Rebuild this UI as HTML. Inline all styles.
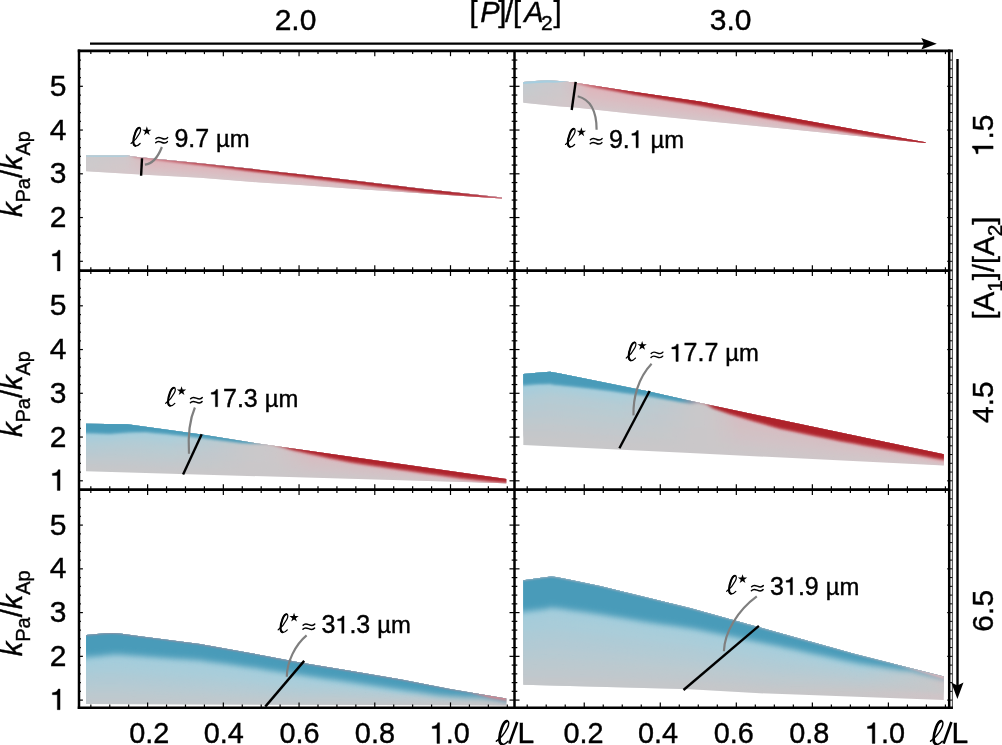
<!DOCTYPE html>
<html><head><meta charset="utf-8"><style>html,body{margin:0;padding:0;background:#fff;overflow:hidden}</style></head><body>
<svg width="1002" height="745" viewBox="0 0 1002 745" style="display:block;will-change:transform"><style>text{stroke:#000;stroke-width:0.4px;paint-order:stroke}</style>
<defs>
<linearGradient id="h1_1" gradientUnits="userSpaceOnUse" x1="86.0" y1="0" x2="530.0" y2="0"><stop offset="0.000" stop-color="#cec9cb"/><stop offset="0.088" stop-color="#d4c7ca"/><stop offset="0.099" stop-color="#d5c7ca"/><stop offset="0.144" stop-color="#d6c6c9"/><stop offset="1.000" stop-color="#d9c4c8"/></linearGradient>
<linearGradient id="h1_2" gradientUnits="userSpaceOnUse" x1="86.0" y1="0" x2="530.0" y2="0"><stop offset="0.000" stop-color="#cdcacc"/><stop offset="0.088" stop-color="#d3c8ca"/><stop offset="0.099" stop-color="#d4c6ca"/><stop offset="0.144" stop-color="#d8c2c6"/><stop offset="1.000" stop-color="#dac1c6"/></linearGradient>
<linearGradient id="h1_3" gradientUnits="userSpaceOnUse" x1="86.0" y1="0" x2="530.0" y2="0"><stop offset="0.000" stop-color="#cdcacc"/><stop offset="0.088" stop-color="#d2c8ca"/><stop offset="0.099" stop-color="#d4c6c9"/><stop offset="0.144" stop-color="#d9c0c4"/><stop offset="1.000" stop-color="#dbbec3"/></linearGradient>
<linearGradient id="h1_4" gradientUnits="userSpaceOnUse" x1="86.0" y1="0" x2="530.0" y2="0"><stop offset="0.000" stop-color="#cccacc"/><stop offset="0.088" stop-color="#d1c8cb"/><stop offset="0.099" stop-color="#d3c6c9"/><stop offset="0.144" stop-color="#dbbcc1"/><stop offset="1.000" stop-color="#dcbcc1"/></linearGradient>
<linearGradient id="h1_5" gradientUnits="userSpaceOnUse" x1="86.0" y1="0" x2="530.0" y2="0"><stop offset="0.000" stop-color="#cccacc"/><stop offset="0.088" stop-color="#d0c8cb"/><stop offset="0.099" stop-color="#d3c6c8"/><stop offset="0.144" stop-color="#dcbabf"/><stop offset="1.000" stop-color="#ddb9be"/></linearGradient>
<linearGradient id="h1_6" gradientUnits="userSpaceOnUse" x1="86.0" y1="0" x2="530.0" y2="0"><stop offset="0.000" stop-color="#cbcbcd"/><stop offset="0.088" stop-color="#cfc9cb"/><stop offset="0.099" stop-color="#d2c5c8"/><stop offset="0.144" stop-color="#deb6bc"/><stop offset="1.000" stop-color="#deb6bc"/></linearGradient>
<linearGradient id="h1_7" gradientUnits="userSpaceOnUse" x1="86.0" y1="0" x2="530.0" y2="0"><stop offset="0.000" stop-color="#cdbfc2"/><stop offset="0.088" stop-color="#d0bdc1"/><stop offset="0.099" stop-color="#d2babe"/><stop offset="0.144" stop-color="#daa8af"/><stop offset="0.257" stop-color="#d699a0"/><stop offset="0.392" stop-color="#d39097"/><stop offset="0.820" stop-color="#d39097"/><stop offset="0.887" stop-color="#d6969e"/><stop offset="0.937" stop-color="#dba4ab"/><stop offset="1.000" stop-color="#dba4ab"/></linearGradient>
<linearGradient id="h1_8" gradientUnits="userSpaceOnUse" x1="86.0" y1="0" x2="530.0" y2="0"><stop offset="0.000" stop-color="#d2a6ad"/><stop offset="0.088" stop-color="#d3a6ac"/><stop offset="0.099" stop-color="#d4a5ac"/><stop offset="0.144" stop-color="#d28f97"/><stop offset="0.257" stop-color="#c4616b"/><stop offset="0.392" stop-color="#ba474f"/><stop offset="0.820" stop-color="#ba474f"/><stop offset="0.887" stop-color="#c45962"/><stop offset="0.937" stop-color="#d4818a"/><stop offset="1.000" stop-color="#d4818a"/></linearGradient>
<linearGradient id="h1_9" gradientUnits="userSpaceOnUse" x1="130.0" y1="0" x2="530.0" y2="0"><stop offset="0.000" stop-color="#d49aa2"/><stop offset="0.175" stop-color="#bb4550"/><stop offset="0.325" stop-color="#ae222b"/><stop offset="0.800" stop-color="#ae222b"/><stop offset="0.875" stop-color="#bb3a45"/><stop offset="0.930" stop-color="#d0707a"/><stop offset="1.000" stop-color="#d0707a"/></linearGradient>
<linearGradient id="h1_10" gradientUnits="userSpaceOnUse" x1="86.0" y1="0" x2="530.0" y2="0"><stop offset="0.000" stop-color="#cec9cb"/><stop offset="0.099" stop-color="#d5c7ca"/><stop offset="1.000" stop-color="#d8c5c9"/></linearGradient>
<clipPath id="c1"><polygon points="86.1,155.4 127.5,155.6 135.0,156.8 148.0,158.0 200.0,163.2 300.0,174.2 360.0,181.2 420.0,188.5 502.0,197.6 502.0,198.6 440.0,194.6 360.0,189.3 300.0,185.0 260.0,182.6 200.0,177.8 140.0,174.4 86.1,171.3"/></clipPath>
<filter id="f1_1" x="-10%" y="-50%" width="120%" height="200%"><feGaussianBlur stdDeviation="1 1.0"/></filter>
<filter id="f1_2" x="-10%" y="-50%" width="120%" height="200%"><feGaussianBlur stdDeviation="1 1.0"/></filter>
<filter id="f1_3" x="-10%" y="-50%" width="120%" height="200%"><feGaussianBlur stdDeviation="1 1.0"/></filter>
<filter id="f1_4" x="-10%" y="-50%" width="120%" height="200%"><feGaussianBlur stdDeviation="1 1.0"/></filter>
<filter id="f1_5" x="-10%" y="-50%" width="120%" height="200%"><feGaussianBlur stdDeviation="1 1.0"/></filter>
<filter id="f1_6" x="-10%" y="-50%" width="120%" height="200%"><feGaussianBlur stdDeviation="1 1.0"/></filter>
<filter id="f1_7" x="-10%" y="-50%" width="120%" height="200%"><feGaussianBlur stdDeviation="1 1.0"/></filter>
<filter id="f1_8" x="-10%" y="-50%" width="120%" height="200%"><feGaussianBlur stdDeviation="1 1.0"/></filter>
<filter id="f1_9" x="-10%" y="-50%" width="120%" height="200%"><feGaussianBlur stdDeviation="1 1.0"/></filter>
<filter id="f1_10" x="-10%" y="-50%" width="120%" height="200%"><feGaussianBlur stdDeviation="1.5 0.3"/></filter>
<linearGradient id="h2_1" gradientUnits="userSpaceOnUse" x1="523.0" y1="0" x2="950.0" y2="0"><stop offset="0.000" stop-color="#cac8cb"/><stop offset="0.087" stop-color="#d0c7ca"/><stop offset="0.122" stop-color="#d3c6c9"/><stop offset="0.157" stop-color="#d4c6c9"/><stop offset="1.000" stop-color="#d9c4c8"/></linearGradient>
<linearGradient id="h2_2" gradientUnits="userSpaceOnUse" x1="523.0" y1="0" x2="950.0" y2="0"><stop offset="0.000" stop-color="#c9c9cc"/><stop offset="0.087" stop-color="#d0c8ca"/><stop offset="0.122" stop-color="#d4c5c8"/><stop offset="0.157" stop-color="#d6c2c6"/><stop offset="1.000" stop-color="#dac1c6"/></linearGradient>
<linearGradient id="h2_3" gradientUnits="userSpaceOnUse" x1="523.0" y1="0" x2="950.0" y2="0"><stop offset="0.000" stop-color="#c7cacd"/><stop offset="0.087" stop-color="#cec8ca"/><stop offset="0.122" stop-color="#d4c4c7"/><stop offset="0.157" stop-color="#d8c0c4"/><stop offset="1.000" stop-color="#dbbec3"/></linearGradient>
<linearGradient id="h2_4" gradientUnits="userSpaceOnUse" x1="523.0" y1="0" x2="950.0" y2="0"><stop offset="0.000" stop-color="#c6cace"/><stop offset="0.087" stop-color="#cec8cb"/><stop offset="0.122" stop-color="#d4c2c6"/><stop offset="0.157" stop-color="#dabcc1"/><stop offset="1.000" stop-color="#dcbcc1"/></linearGradient>
<linearGradient id="h2_5" gradientUnits="userSpaceOnUse" x1="523.0" y1="0" x2="950.0" y2="0"><stop offset="0.000" stop-color="#c4cbcf"/><stop offset="0.087" stop-color="#ccc8cb"/><stop offset="0.122" stop-color="#d4c1c5"/><stop offset="0.157" stop-color="#dcbabf"/><stop offset="1.000" stop-color="#ddb9be"/></linearGradient>
<linearGradient id="h2_6" gradientUnits="userSpaceOnUse" x1="523.0" y1="0" x2="950.0" y2="0"><stop offset="0.000" stop-color="#c3ccd0"/><stop offset="0.087" stop-color="#ccc9cb"/><stop offset="0.122" stop-color="#d5c0c4"/><stop offset="0.157" stop-color="#deb6bc"/><stop offset="1.000" stop-color="#deb6bc"/></linearGradient>
<linearGradient id="h2_7" gradientUnits="userSpaceOnUse" x1="523.0" y1="0" x2="950.0" y2="0"><stop offset="0.000" stop-color="#c8c3c8"/><stop offset="0.087" stop-color="#cec1c4"/><stop offset="0.110" stop-color="#d4bcc0"/><stop offset="0.157" stop-color="#d9a2a9"/><stop offset="0.180" stop-color="#d79ba2"/><stop offset="0.274" stop-color="#d39097"/><stop offset="1.000" stop-color="#d39097"/></linearGradient>
<linearGradient id="h2_8" gradientUnits="userSpaceOnUse" x1="523.0" y1="0" x2="950.0" y2="0"><stop offset="0.000" stop-color="#d2b1b7"/><stop offset="0.087" stop-color="#d5b0b5"/><stop offset="0.110" stop-color="#d6aeb4"/><stop offset="0.157" stop-color="#ce7e86"/><stop offset="0.180" stop-color="#c86670"/><stop offset="0.274" stop-color="#ba474f"/><stop offset="1.000" stop-color="#ba474f"/></linearGradient>
<linearGradient id="h2_9" gradientUnits="userSpaceOnUse" x1="570.0" y1="0" x2="950.0" y2="0"><stop offset="0.000" stop-color="#d8a8ae"/><stop offset="0.079" stop-color="#c04c57"/><stop offset="0.184" stop-color="#ae222b"/><stop offset="1.000" stop-color="#ae222b"/></linearGradient>
<linearGradient id="h2_10" gradientUnits="userSpaceOnUse" x1="523.0" y1="0" x2="950.0" y2="0"><stop offset="0.000" stop-color="#cbc8ca"/><stop offset="0.122" stop-color="#d3c7ca"/><stop offset="1.000" stop-color="#d8c5c9"/></linearGradient>
<clipPath id="c2"><polygon points="523.3,82.1 535.0,81.0 547.6,80.3 563.0,81.2 575.4,82.7 630.0,91.2 700.0,101.5 800.0,119.4 925.5,142.3 925.5,142.9 800.0,130.3 700.0,120.4 630.0,113.5 575.0,107.5 560.0,106.4 523.3,102.8"/></clipPath>
<filter id="f2_1" x="-10%" y="-50%" width="120%" height="200%"><feGaussianBlur stdDeviation="1 1.0"/></filter>
<filter id="f2_2" x="-10%" y="-50%" width="120%" height="200%"><feGaussianBlur stdDeviation="1 1.0"/></filter>
<filter id="f2_3" x="-10%" y="-50%" width="120%" height="200%"><feGaussianBlur stdDeviation="1 1.0"/></filter>
<filter id="f2_4" x="-10%" y="-50%" width="120%" height="200%"><feGaussianBlur stdDeviation="1 1.0"/></filter>
<filter id="f2_5" x="-10%" y="-50%" width="120%" height="200%"><feGaussianBlur stdDeviation="1 1.0"/></filter>
<filter id="f2_6" x="-10%" y="-50%" width="120%" height="200%"><feGaussianBlur stdDeviation="1 1.0"/></filter>
<filter id="f2_7" x="-10%" y="-50%" width="120%" height="200%"><feGaussianBlur stdDeviation="1 1.0"/></filter>
<filter id="f2_8" x="-10%" y="-50%" width="120%" height="200%"><feGaussianBlur stdDeviation="1 1.0"/></filter>
<filter id="f2_9" x="-10%" y="-50%" width="120%" height="200%"><feGaussianBlur stdDeviation="1 1.0"/></filter>
<filter id="f2_10" x="-10%" y="-50%" width="120%" height="200%"><feGaussianBlur stdDeviation="2 0.6"/></filter>
<linearGradient id="h3_1" gradientUnits="userSpaceOnUse" x1="86.0" y1="0" x2="530.0" y2="0"><stop offset="0.000" stop-color="#c4c7ca"/><stop offset="0.189" stop-color="#c6c7ca"/><stop offset="0.291" stop-color="#c8c7c9"/><stop offset="0.369" stop-color="#cac7c9"/><stop offset="0.392" stop-color="#cac7c9"/><stop offset="0.426" stop-color="#cbc7c9"/><stop offset="0.505" stop-color="#cdc6c8"/><stop offset="1.000" stop-color="#d6c5c8"/></linearGradient>
<linearGradient id="h3_2" gradientUnits="userSpaceOnUse" x1="86.0" y1="0" x2="530.0" y2="0"><stop offset="0.000" stop-color="#c1c8cc"/><stop offset="0.189" stop-color="#c3c8cc"/><stop offset="0.291" stop-color="#c6c8ca"/><stop offset="0.369" stop-color="#cac7c9"/><stop offset="0.392" stop-color="#cac7c9"/><stop offset="0.426" stop-color="#cbc7c9"/><stop offset="0.505" stop-color="#cfc4c7"/><stop offset="1.000" stop-color="#d6c4c7"/></linearGradient>
<linearGradient id="h3_3" gradientUnits="userSpaceOnUse" x1="86.0" y1="0" x2="530.0" y2="0"><stop offset="0.000" stop-color="#bec9ce"/><stop offset="0.189" stop-color="#c0c9ce"/><stop offset="0.291" stop-color="#c5c8cb"/><stop offset="0.369" stop-color="#cac7c9"/><stop offset="0.392" stop-color="#cac7c9"/><stop offset="0.426" stop-color="#cbc7c9"/><stop offset="0.505" stop-color="#d1c2c6"/><stop offset="1.000" stop-color="#d8c2c6"/></linearGradient>
<linearGradient id="h3_4" gradientUnits="userSpaceOnUse" x1="86.0" y1="0" x2="530.0" y2="0"><stop offset="0.000" stop-color="#bac9d0"/><stop offset="0.189" stop-color="#bdcacf"/><stop offset="0.291" stop-color="#c3c8cc"/><stop offset="0.369" stop-color="#c9c8ca"/><stop offset="0.392" stop-color="#cac8ca"/><stop offset="0.426" stop-color="#ccc7c9"/><stop offset="0.505" stop-color="#d2c1c4"/><stop offset="1.000" stop-color="#d8c0c4"/></linearGradient>
<linearGradient id="h3_5" gradientUnits="userSpaceOnUse" x1="86.0" y1="0" x2="530.0" y2="0"><stop offset="0.000" stop-color="#b7cad2"/><stop offset="0.189" stop-color="#bacbd1"/><stop offset="0.291" stop-color="#c2c8cd"/><stop offset="0.369" stop-color="#c9c8ca"/><stop offset="0.392" stop-color="#cac8ca"/><stop offset="0.426" stop-color="#ccc7c9"/><stop offset="0.505" stop-color="#d4bfc3"/><stop offset="1.000" stop-color="#dabec3"/></linearGradient>
<linearGradient id="h3_6" gradientUnits="userSpaceOnUse" x1="86.0" y1="0" x2="530.0" y2="0"><stop offset="0.000" stop-color="#b4cbd4"/><stop offset="0.189" stop-color="#b7ccd3"/><stop offset="0.291" stop-color="#c0c9ce"/><stop offset="0.369" stop-color="#c9c8ca"/><stop offset="0.392" stop-color="#cac8ca"/><stop offset="0.426" stop-color="#ccc7c9"/><stop offset="0.505" stop-color="#d6bdc2"/><stop offset="1.000" stop-color="#dabdc2"/></linearGradient>
<linearGradient id="h3_7" gradientUnits="userSpaceOnUse" x1="86.0" y1="0" x2="530.0" y2="0"><stop offset="0.000" stop-color="#b0ccd6"/><stop offset="0.189" stop-color="#b3ccd5"/><stop offset="0.291" stop-color="#bec9cf"/><stop offset="0.369" stop-color="#c9c8ca"/><stop offset="0.392" stop-color="#cac8ca"/><stop offset="0.426" stop-color="#ccc7c9"/><stop offset="0.505" stop-color="#d8bbc0"/><stop offset="1.000" stop-color="#dcbbc0"/></linearGradient>
<linearGradient id="h3_8" gradientUnits="userSpaceOnUse" x1="86.0" y1="0" x2="530.0" y2="0"><stop offset="0.000" stop-color="#abccd9"/><stop offset="0.189" stop-color="#afced8"/><stop offset="0.291" stop-color="#bccad0"/><stop offset="0.369" stop-color="#c8c8ca"/><stop offset="0.392" stop-color="#cac8ca"/><stop offset="0.426" stop-color="#ccc7c9"/><stop offset="0.505" stop-color="#dbb8be"/><stop offset="1.000" stop-color="#ddb8be"/></linearGradient>
<linearGradient id="h3_9" gradientUnits="userSpaceOnUse" x1="86.0" y1="0" x2="530.0" y2="0"><stop offset="0.000" stop-color="#a6cedc"/><stop offset="0.189" stop-color="#abcedb"/><stop offset="0.291" stop-color="#bacbd1"/><stop offset="0.369" stop-color="#c8c8ca"/><stop offset="0.392" stop-color="#cac8ca"/><stop offset="0.426" stop-color="#cdc7c9"/><stop offset="0.505" stop-color="#deb6bc"/><stop offset="1.000" stop-color="#deb6bc"/></linearGradient>
<linearGradient id="h3_10" gradientUnits="userSpaceOnUse" x1="86.0" y1="0" x2="530.0" y2="0"><stop offset="0.000" stop-color="#8ec1d4"/><stop offset="0.189" stop-color="#91c2d3"/><stop offset="0.291" stop-color="#9dbfcc"/><stop offset="0.369" stop-color="#a8bdc6"/><stop offset="0.419" stop-color="#cbbdc0"/><stop offset="0.426" stop-color="#cbb8bb"/><stop offset="0.459" stop-color="#cb989d"/><stop offset="0.505" stop-color="#d39097"/><stop offset="1.000" stop-color="#d39097"/></linearGradient>
<linearGradient id="h3_11" gradientUnits="userSpaceOnUse" x1="86.0" y1="0" x2="530.0" y2="0"><stop offset="0.000" stop-color="#60a8c2"/><stop offset="0.189" stop-color="#62a8c2"/><stop offset="0.291" stop-color="#66a7bf"/><stop offset="0.369" stop-color="#6aa6bd"/><stop offset="0.419" stop-color="#c9aaaf"/><stop offset="0.426" stop-color="#c69aa0"/><stop offset="0.459" stop-color="#b84951"/><stop offset="0.505" stop-color="#ba474f"/><stop offset="1.000" stop-color="#ba474f"/></linearGradient>
<linearGradient id="h3_12" gradientUnits="userSpaceOnUse" x1="86.0" y1="0" x2="530.0" y2="0"><stop offset="0.000" stop-color="#4a9bb9"/><stop offset="0.369" stop-color="#4a9bb9"/><stop offset="0.419" stop-color="#c8a0a6"/><stop offset="0.459" stop-color="#ae222b"/><stop offset="1.000" stop-color="#ae222b"/></linearGradient>
<linearGradient id="h3_13" gradientUnits="userSpaceOnUse" x1="86.0" y1="0" x2="530.0" y2="0"><stop offset="0.000" stop-color="#c6c7c9"/><stop offset="0.392" stop-color="#cac7c9"/><stop offset="1.000" stop-color="#d5c6c9"/></linearGradient>
<clipPath id="c3"><polygon points="86.0,423.7 127.5,424.2 201.6,434.6 250.0,442.3 300.0,449.5 380.0,461.1 506.2,478.9 506.2,483.3 86.0,471.3"/></clipPath>
<filter id="f3_1" x="-10%" y="-50%" width="120%" height="200%"><feGaussianBlur stdDeviation="1 1.0"/></filter>
<filter id="f3_2" x="-10%" y="-50%" width="120%" height="200%"><feGaussianBlur stdDeviation="1 1.0"/></filter>
<filter id="f3_3" x="-10%" y="-50%" width="120%" height="200%"><feGaussianBlur stdDeviation="1 1.0"/></filter>
<filter id="f3_4" x="-10%" y="-50%" width="120%" height="200%"><feGaussianBlur stdDeviation="1 1.0"/></filter>
<filter id="f3_5" x="-10%" y="-50%" width="120%" height="200%"><feGaussianBlur stdDeviation="1 1.0"/></filter>
<filter id="f3_6" x="-10%" y="-50%" width="120%" height="200%"><feGaussianBlur stdDeviation="1 1.0"/></filter>
<filter id="f3_7" x="-10%" y="-50%" width="120%" height="200%"><feGaussianBlur stdDeviation="1 1.0"/></filter>
<filter id="f3_8" x="-10%" y="-50%" width="120%" height="200%"><feGaussianBlur stdDeviation="1 1.0"/></filter>
<filter id="f3_9" x="-10%" y="-50%" width="120%" height="200%"><feGaussianBlur stdDeviation="1 1.0"/></filter>
<filter id="f3_10" x="-10%" y="-50%" width="120%" height="200%"><feGaussianBlur stdDeviation="1 1.0"/></filter>
<filter id="f3_11" x="-10%" y="-50%" width="120%" height="200%"><feGaussianBlur stdDeviation="1 1.0"/></filter>
<filter id="f3_12" x="-10%" y="-50%" width="120%" height="200%"><feGaussianBlur stdDeviation="1 1.0"/></filter>
<linearGradient id="h4_1" gradientUnits="userSpaceOnUse" x1="523.0" y1="0" x2="960.0" y2="0"><stop offset="0.000" stop-color="#c4c7ca"/><stop offset="0.222" stop-color="#c6c7ca"/><stop offset="0.325" stop-color="#c8c7c9"/><stop offset="0.394" stop-color="#cac7c9"/><stop offset="0.405" stop-color="#cac7c9"/><stop offset="0.432" stop-color="#cbc7c9"/><stop offset="0.497" stop-color="#cdc6c8"/><stop offset="1.000" stop-color="#d6c5c8"/></linearGradient>
<linearGradient id="h4_2" gradientUnits="userSpaceOnUse" x1="523.0" y1="0" x2="960.0" y2="0"><stop offset="0.000" stop-color="#c1c8cc"/><stop offset="0.222" stop-color="#c3c8cc"/><stop offset="0.325" stop-color="#c6c8ca"/><stop offset="0.394" stop-color="#cac7c9"/><stop offset="0.405" stop-color="#cac7c9"/><stop offset="0.432" stop-color="#cbc7c9"/><stop offset="0.497" stop-color="#cfc4c7"/><stop offset="1.000" stop-color="#d6c4c7"/></linearGradient>
<linearGradient id="h4_3" gradientUnits="userSpaceOnUse" x1="523.0" y1="0" x2="960.0" y2="0"><stop offset="0.000" stop-color="#bec9ce"/><stop offset="0.222" stop-color="#c0c9ce"/><stop offset="0.325" stop-color="#c5c8cb"/><stop offset="0.394" stop-color="#cac7c9"/><stop offset="0.405" stop-color="#cac7c9"/><stop offset="0.432" stop-color="#cbc7c9"/><stop offset="0.497" stop-color="#d1c2c6"/><stop offset="1.000" stop-color="#d8c2c6"/></linearGradient>
<linearGradient id="h4_4" gradientUnits="userSpaceOnUse" x1="523.0" y1="0" x2="960.0" y2="0"><stop offset="0.000" stop-color="#bac9d0"/><stop offset="0.222" stop-color="#bdcacf"/><stop offset="0.325" stop-color="#c3c8cc"/><stop offset="0.394" stop-color="#c9c8ca"/><stop offset="0.405" stop-color="#c9c8ca"/><stop offset="0.432" stop-color="#ccc7c9"/><stop offset="0.497" stop-color="#d2c1c4"/><stop offset="1.000" stop-color="#d8c0c4"/></linearGradient>
<linearGradient id="h4_5" gradientUnits="userSpaceOnUse" x1="523.0" y1="0" x2="960.0" y2="0"><stop offset="0.000" stop-color="#b7cad2"/><stop offset="0.222" stop-color="#bacbd1"/><stop offset="0.325" stop-color="#c2c8cd"/><stop offset="0.394" stop-color="#c9c8ca"/><stop offset="0.405" stop-color="#c9c8ca"/><stop offset="0.432" stop-color="#ccc7c9"/><stop offset="0.497" stop-color="#d4bfc3"/><stop offset="1.000" stop-color="#dabec3"/></linearGradient>
<linearGradient id="h4_6" gradientUnits="userSpaceOnUse" x1="523.0" y1="0" x2="960.0" y2="0"><stop offset="0.000" stop-color="#b4cbd4"/><stop offset="0.222" stop-color="#b7ccd3"/><stop offset="0.325" stop-color="#c0c9ce"/><stop offset="0.394" stop-color="#c9c8ca"/><stop offset="0.405" stop-color="#c9c8ca"/><stop offset="0.432" stop-color="#ccc7c9"/><stop offset="0.497" stop-color="#d6bdc2"/><stop offset="1.000" stop-color="#dabdc2"/></linearGradient>
<linearGradient id="h4_7" gradientUnits="userSpaceOnUse" x1="523.0" y1="0" x2="960.0" y2="0"><stop offset="0.000" stop-color="#b0ccd6"/><stop offset="0.222" stop-color="#b3ccd5"/><stop offset="0.325" stop-color="#bec9cf"/><stop offset="0.394" stop-color="#c9c8ca"/><stop offset="0.405" stop-color="#c9c8ca"/><stop offset="0.432" stop-color="#ccc7c9"/><stop offset="0.497" stop-color="#d8bbc0"/><stop offset="1.000" stop-color="#dcbbc0"/></linearGradient>
<linearGradient id="h4_8" gradientUnits="userSpaceOnUse" x1="523.0" y1="0" x2="960.0" y2="0"><stop offset="0.000" stop-color="#abccd9"/><stop offset="0.222" stop-color="#afced8"/><stop offset="0.325" stop-color="#bccad0"/><stop offset="0.394" stop-color="#c8c8ca"/><stop offset="0.405" stop-color="#c9c8ca"/><stop offset="0.432" stop-color="#ccc7c9"/><stop offset="0.497" stop-color="#dbb8be"/><stop offset="1.000" stop-color="#ddb8be"/></linearGradient>
<linearGradient id="h4_9" gradientUnits="userSpaceOnUse" x1="523.0" y1="0" x2="960.0" y2="0"><stop offset="0.000" stop-color="#a6cedc"/><stop offset="0.222" stop-color="#abcedb"/><stop offset="0.325" stop-color="#bacbd1"/><stop offset="0.394" stop-color="#c8c8ca"/><stop offset="0.405" stop-color="#c9c8ca"/><stop offset="0.432" stop-color="#cdc7c9"/><stop offset="0.497" stop-color="#deb6bc"/><stop offset="1.000" stop-color="#deb6bc"/></linearGradient>
<linearGradient id="h4_10" gradientUnits="userSpaceOnUse" x1="523.0" y1="0" x2="960.0" y2="0"><stop offset="0.000" stop-color="#8ec1d4"/><stop offset="0.222" stop-color="#91c2d3"/><stop offset="0.325" stop-color="#9dbfcc"/><stop offset="0.359" stop-color="#a2bec9"/><stop offset="0.394" stop-color="#bcbbc0"/><stop offset="0.412" stop-color="#c8babe"/><stop offset="0.432" stop-color="#c6a5a8"/><stop offset="0.439" stop-color="#c79ca1"/><stop offset="0.497" stop-color="#d39097"/><stop offset="1.000" stop-color="#d39097"/></linearGradient>
<linearGradient id="h4_11" gradientUnits="userSpaceOnUse" x1="523.0" y1="0" x2="960.0" y2="0"><stop offset="0.000" stop-color="#60a8c2"/><stop offset="0.222" stop-color="#62a8c2"/><stop offset="0.325" stop-color="#66a7bf"/><stop offset="0.359" stop-color="#68a7be"/><stop offset="0.394" stop-color="#a3a1ad"/><stop offset="0.412" stop-color="#c29ea4"/><stop offset="0.432" stop-color="#b96067"/><stop offset="0.439" stop-color="#b64b52"/><stop offset="0.497" stop-color="#ba474f"/><stop offset="1.000" stop-color="#ba474f"/></linearGradient>
<linearGradient id="h4_12" gradientUnits="userSpaceOnUse" x1="523.0" y1="0" x2="960.0" y2="0"><stop offset="0.000" stop-color="#4a9bb9"/><stop offset="0.359" stop-color="#4a9bb9"/><stop offset="0.412" stop-color="#c09098"/><stop offset="0.439" stop-color="#ae222b"/><stop offset="1.000" stop-color="#ae222b"/></linearGradient>
<linearGradient id="h4_13" gradientUnits="userSpaceOnUse" x1="523.0" y1="0" x2="960.0" y2="0"><stop offset="0.000" stop-color="#c6c7c9"/><stop offset="0.405" stop-color="#cac7c9"/><stop offset="1.000" stop-color="#d5c6c9"/></linearGradient>
<clipPath id="c4"><polygon points="523.3,374.0 540.0,372.5 550.1,371.8 560.0,373.4 649.0,391.5 690.0,400.8 943.8,454.3 943.8,465.5 690.0,453.1 523.3,445.0"/></clipPath>
<filter id="f4_1" x="-10%" y="-50%" width="120%" height="200%"><feGaussianBlur stdDeviation="1 1.0"/></filter>
<filter id="f4_2" x="-10%" y="-50%" width="120%" height="200%"><feGaussianBlur stdDeviation="1 1.0"/></filter>
<filter id="f4_3" x="-10%" y="-50%" width="120%" height="200%"><feGaussianBlur stdDeviation="1 1.0"/></filter>
<filter id="f4_4" x="-10%" y="-50%" width="120%" height="200%"><feGaussianBlur stdDeviation="1 1.0"/></filter>
<filter id="f4_5" x="-10%" y="-50%" width="120%" height="200%"><feGaussianBlur stdDeviation="1 1.0"/></filter>
<filter id="f4_6" x="-10%" y="-50%" width="120%" height="200%"><feGaussianBlur stdDeviation="1 1.0"/></filter>
<filter id="f4_7" x="-10%" y="-50%" width="120%" height="200%"><feGaussianBlur stdDeviation="1 1.0"/></filter>
<filter id="f4_8" x="-10%" y="-50%" width="120%" height="200%"><feGaussianBlur stdDeviation="1 1.0"/></filter>
<filter id="f4_9" x="-10%" y="-50%" width="120%" height="200%"><feGaussianBlur stdDeviation="1 1.0"/></filter>
<filter id="f4_10" x="-10%" y="-50%" width="120%" height="200%"><feGaussianBlur stdDeviation="1 1.0"/></filter>
<filter id="f4_11" x="-10%" y="-50%" width="120%" height="200%"><feGaussianBlur stdDeviation="1 1.0"/></filter>
<filter id="f4_12" x="-10%" y="-50%" width="120%" height="200%"><feGaussianBlur stdDeviation="1 1.0"/></filter>
<linearGradient id="h5_1" gradientUnits="userSpaceOnUse" x1="60.0" y1="0" x2="506.0" y2="0"><stop offset="0.000" stop-color="#c4c7ca"/><stop offset="0.762" stop-color="#c4c8ca"/><stop offset="0.942" stop-color="#c6c7c9"/><stop offset="1.000" stop-color="#c7c7c9"/></linearGradient>
<linearGradient id="h5_2" gradientUnits="userSpaceOnUse" x1="60.0" y1="0" x2="506.0" y2="0"><stop offset="0.000" stop-color="#bfc8cd"/><stop offset="0.762" stop-color="#c0c8cd"/><stop offset="0.942" stop-color="#c5c7c9"/><stop offset="1.000" stop-color="#c8c6c8"/></linearGradient>
<linearGradient id="h5_3" gradientUnits="userSpaceOnUse" x1="60.0" y1="0" x2="506.0" y2="0"><stop offset="0.000" stop-color="#bbc9cf"/><stop offset="0.762" stop-color="#bdcacf"/><stop offset="0.942" stop-color="#c5c7ca"/><stop offset="1.000" stop-color="#c9c6c8"/></linearGradient>
<linearGradient id="h5_4" gradientUnits="userSpaceOnUse" x1="60.0" y1="0" x2="506.0" y2="0"><stop offset="0.000" stop-color="#b6cad2"/><stop offset="0.762" stop-color="#b9cad2"/><stop offset="0.942" stop-color="#c4c8ca"/><stop offset="1.000" stop-color="#cac5c8"/></linearGradient>
<linearGradient id="h5_5" gradientUnits="userSpaceOnUse" x1="60.0" y1="0" x2="506.0" y2="0"><stop offset="0.000" stop-color="#b1cad4"/><stop offset="0.762" stop-color="#b5ccd4"/><stop offset="0.942" stop-color="#c3c8ca"/><stop offset="1.000" stop-color="#cbc4c7"/></linearGradient>
<linearGradient id="h5_6" gradientUnits="userSpaceOnUse" x1="60.0" y1="0" x2="506.0" y2="0"><stop offset="0.000" stop-color="#adcbd6"/><stop offset="0.762" stop-color="#b2ccd6"/><stop offset="0.942" stop-color="#c3c8cb"/><stop offset="1.000" stop-color="#ccc4c7"/></linearGradient>
<linearGradient id="h5_7" gradientUnits="userSpaceOnUse" x1="60.0" y1="0" x2="506.0" y2="0"><stop offset="0.000" stop-color="#a8ccd9"/><stop offset="0.762" stop-color="#aeced9"/><stop offset="0.942" stop-color="#c2c8cb"/><stop offset="1.000" stop-color="#cdc3c6"/></linearGradient>
<linearGradient id="h5_8" gradientUnits="userSpaceOnUse" x1="60.0" y1="0" x2="506.0" y2="0"><stop offset="0.000" stop-color="#a5ccda"/><stop offset="0.762" stop-color="#abceda"/><stop offset="0.942" stop-color="#c2c8cb"/><stop offset="1.000" stop-color="#cec3c6"/></linearGradient>
<linearGradient id="h5_9" gradientUnits="userSpaceOnUse" x1="60.0" y1="0" x2="506.0" y2="0"><stop offset="0.000" stop-color="#a3cddc"/><stop offset="0.762" stop-color="#a9cfdc"/><stop offset="0.942" stop-color="#c2c8cb"/><stop offset="1.000" stop-color="#cfc3c6"/></linearGradient>
<linearGradient id="h5_10" gradientUnits="userSpaceOnUse" x1="60.0" y1="0" x2="506.0" y2="0"><stop offset="0.000" stop-color="#8cc0d3"/><stop offset="0.762" stop-color="#90c2d3"/><stop offset="0.942" stop-color="#a4bdc6"/><stop offset="1.000" stop-color="#aeb9c3"/></linearGradient>
<linearGradient id="h5_11" gradientUnits="userSpaceOnUse" x1="60.0" y1="0" x2="506.0" y2="0"><stop offset="0.000" stop-color="#60a8c2"/><stop offset="0.762" stop-color="#62a8c2"/><stop offset="0.942" stop-color="#68a6be"/><stop offset="1.000" stop-color="#6ba5bc"/></linearGradient>
<linearGradient id="h5_12" gradientUnits="userSpaceOnUse" x1="86.0" y1="0" x2="506.0" y2="0"><stop offset="0.000" stop-color="#c4c7ca"/><stop offset="0.890" stop-color="#c8c6c8"/><stop offset="1.000" stop-color="#cdc4c6"/></linearGradient>
<clipPath id="c5"><polygon points="86.1,635.1 105.0,633.3 113.0,633.0 120.0,633.4 140.0,636.2 200.0,644.1 250.0,652.9 300.0,662.6 350.0,670.8 400.0,679.3 450.0,688.9 506.2,698.4 506.2,705.5 86.1,704.0"/></clipPath>
<filter id="f5_1" x="-10%" y="-50%" width="120%" height="200%"><feGaussianBlur stdDeviation="1 2"/></filter>
<filter id="f5_2" x="-10%" y="-50%" width="120%" height="200%"><feGaussianBlur stdDeviation="1 2"/></filter>
<filter id="f5_3" x="-10%" y="-50%" width="120%" height="200%"><feGaussianBlur stdDeviation="1 2"/></filter>
<filter id="f5_4" x="-10%" y="-50%" width="120%" height="200%"><feGaussianBlur stdDeviation="1 2"/></filter>
<filter id="f5_5" x="-10%" y="-50%" width="120%" height="200%"><feGaussianBlur stdDeviation="1 2"/></filter>
<filter id="f5_6" x="-10%" y="-50%" width="120%" height="200%"><feGaussianBlur stdDeviation="1 2"/></filter>
<filter id="f5_7" x="-10%" y="-50%" width="120%" height="200%"><feGaussianBlur stdDeviation="1 2"/></filter>
<filter id="f5_8" x="-10%" y="-50%" width="120%" height="200%"><feGaussianBlur stdDeviation="1 2"/></filter>
<filter id="f5_9" x="-10%" y="-50%" width="120%" height="200%"><feGaussianBlur stdDeviation="1 2"/></filter>
<filter id="f5_10" x="-10%" y="-50%" width="120%" height="200%"><feGaussianBlur stdDeviation="1 2"/></filter>
<filter id="f5_11" x="-10%" y="-50%" width="120%" height="200%"><feGaussianBlur stdDeviation="1 2"/></filter>
<filter id="f5_12" x="-10%" y="-50%" width="120%" height="200%"><feGaussianBlur stdDeviation="1 2"/></filter>
<filter id="f5_13" x="-10%" y="-50%" width="120%" height="200%"><feGaussianBlur stdDeviation="2 0.8"/></filter>
<linearGradient id="h6_1" gradientUnits="userSpaceOnUse" x1="500.0" y1="0" x2="944.0" y2="0"><stop offset="0.000" stop-color="#c4c7ca"/><stop offset="0.811" stop-color="#c4c8ca"/><stop offset="0.968" stop-color="#c6c7c9"/><stop offset="1.000" stop-color="#c7c7c9"/></linearGradient>
<linearGradient id="h6_2" gradientUnits="userSpaceOnUse" x1="500.0" y1="0" x2="944.0" y2="0"><stop offset="0.000" stop-color="#bfc8cd"/><stop offset="0.811" stop-color="#c0c8cd"/><stop offset="0.968" stop-color="#c6c7c9"/><stop offset="1.000" stop-color="#c8c6c8"/></linearGradient>
<linearGradient id="h6_3" gradientUnits="userSpaceOnUse" x1="500.0" y1="0" x2="944.0" y2="0"><stop offset="0.000" stop-color="#bbc9cf"/><stop offset="0.811" stop-color="#bdcacf"/><stop offset="0.968" stop-color="#c5c7ca"/><stop offset="1.000" stop-color="#c9c6c8"/></linearGradient>
<linearGradient id="h6_4" gradientUnits="userSpaceOnUse" x1="500.0" y1="0" x2="944.0" y2="0"><stop offset="0.000" stop-color="#b6cad2"/><stop offset="0.811" stop-color="#b9cad2"/><stop offset="0.968" stop-color="#c5c8ca"/><stop offset="1.000" stop-color="#cac5c8"/></linearGradient>
<linearGradient id="h6_5" gradientUnits="userSpaceOnUse" x1="500.0" y1="0" x2="944.0" y2="0"><stop offset="0.000" stop-color="#b1cad4"/><stop offset="0.811" stop-color="#b5ccd4"/><stop offset="0.968" stop-color="#c5c8ca"/><stop offset="1.000" stop-color="#cbc4c7"/></linearGradient>
<linearGradient id="h6_6" gradientUnits="userSpaceOnUse" x1="500.0" y1="0" x2="944.0" y2="0"><stop offset="0.000" stop-color="#adcbd6"/><stop offset="0.811" stop-color="#b2ccd6"/><stop offset="0.968" stop-color="#c4c8cb"/><stop offset="1.000" stop-color="#ccc4c7"/></linearGradient>
<linearGradient id="h6_7" gradientUnits="userSpaceOnUse" x1="500.0" y1="0" x2="944.0" y2="0"><stop offset="0.000" stop-color="#a8ccd9"/><stop offset="0.811" stop-color="#aeced9"/><stop offset="0.968" stop-color="#c4c8cb"/><stop offset="1.000" stop-color="#cdc3c6"/></linearGradient>
<linearGradient id="h6_8" gradientUnits="userSpaceOnUse" x1="500.0" y1="0" x2="944.0" y2="0"><stop offset="0.000" stop-color="#a5ccda"/><stop offset="0.811" stop-color="#abceda"/><stop offset="0.968" stop-color="#c4c8cb"/><stop offset="1.000" stop-color="#cec3c6"/></linearGradient>
<linearGradient id="h6_9" gradientUnits="userSpaceOnUse" x1="500.0" y1="0" x2="944.0" y2="0"><stop offset="0.000" stop-color="#a3cddc"/><stop offset="0.811" stop-color="#a9cfdc"/><stop offset="0.968" stop-color="#c4c8cb"/><stop offset="1.000" stop-color="#cfc3c6"/></linearGradient>
<linearGradient id="h6_10" gradientUnits="userSpaceOnUse" x1="500.0" y1="0" x2="944.0" y2="0"><stop offset="0.000" stop-color="#8cc0d3"/><stop offset="0.811" stop-color="#90c2d3"/><stop offset="0.968" stop-color="#a6bdc6"/><stop offset="1.000" stop-color="#aeb9c3"/></linearGradient>
<linearGradient id="h6_11" gradientUnits="userSpaceOnUse" x1="500.0" y1="0" x2="944.0" y2="0"><stop offset="0.000" stop-color="#60a8c2"/><stop offset="0.811" stop-color="#62a8c2"/><stop offset="0.968" stop-color="#68a6be"/><stop offset="1.000" stop-color="#6ba5bc"/></linearGradient>
<linearGradient id="h6_12" gradientUnits="userSpaceOnUse" x1="523.0" y1="0" x2="944.0" y2="0"><stop offset="0.000" stop-color="#c4c7ca"/><stop offset="0.800" stop-color="#c8c6c8"/><stop offset="1.000" stop-color="#cfc4c7"/></linearGradient>
<clipPath id="c6"><polygon points="523.3,580.2 545.0,577.2 551.2,576.5 556.0,577.0 570.0,579.8 600.0,586.0 690.0,608.0 760.0,627.5 855.0,654.0 943.8,676.5 943.8,700.1 760.0,693.3 690.0,689.2 523.3,684.7"/></clipPath>
<filter id="f6_1" x="-10%" y="-50%" width="120%" height="200%"><feGaussianBlur stdDeviation="1 2"/></filter>
<filter id="f6_2" x="-10%" y="-50%" width="120%" height="200%"><feGaussianBlur stdDeviation="1 2"/></filter>
<filter id="f6_3" x="-10%" y="-50%" width="120%" height="200%"><feGaussianBlur stdDeviation="1 2"/></filter>
<filter id="f6_4" x="-10%" y="-50%" width="120%" height="200%"><feGaussianBlur stdDeviation="1 2"/></filter>
<filter id="f6_5" x="-10%" y="-50%" width="120%" height="200%"><feGaussianBlur stdDeviation="1 2"/></filter>
<filter id="f6_6" x="-10%" y="-50%" width="120%" height="200%"><feGaussianBlur stdDeviation="1 2"/></filter>
<filter id="f6_7" x="-10%" y="-50%" width="120%" height="200%"><feGaussianBlur stdDeviation="1 2"/></filter>
<filter id="f6_8" x="-10%" y="-50%" width="120%" height="200%"><feGaussianBlur stdDeviation="1 2"/></filter>
<filter id="f6_9" x="-10%" y="-50%" width="120%" height="200%"><feGaussianBlur stdDeviation="1 2"/></filter>
<filter id="f6_10" x="-10%" y="-50%" width="120%" height="200%"><feGaussianBlur stdDeviation="1 2"/></filter>
<filter id="f6_11" x="-10%" y="-50%" width="120%" height="200%"><feGaussianBlur stdDeviation="1 2"/></filter>
<filter id="f6_12" x="-10%" y="-50%" width="120%" height="200%"><feGaussianBlur stdDeviation="1 2"/></filter>
<filter id="f6_13" x="-10%" y="-50%" width="120%" height="200%"><feGaussianBlur stdDeviation="2.5 1"/></filter>
</defs>
<rect width="1002" height="745" fill="#fff"/>
<g clip-path="url(#c1)">
<rect x="81.1" y="150.4" width="425.9" height="53.2" fill="url(#h1_10)"/>
<polygon points="522,125.4 66.1,125.4 66.1,171.3 76.2,171.3 86.1,171.3 86.4,171.3 96.5,171.9 106.6,172.5 116.8,173.1 125,173.5 126.9,173.6 127.5,173.7 135,174.1 137,174.2 140,174.4 147.1,174.8 148,174.9 157.3,175.4 167.4,176 170,176.1 177.5,176.5 187.7,177.1 197.8,177.7 200,177.8 207.9,178.4 218.1,179.2 220,179.4 228.2,180.1 238.3,180.9 248.5,181.7 258.6,182.5 260,182.6 268.7,183.1 278.9,183.7 289,184.3 299.1,184.9 300,185 309.2,185.7 319.4,186.4 329.5,187.1 339.6,187.8 349.8,188.6 359.9,189.3 360,189.3 370,190 380.2,190.6 390.3,191.3 400,191.9 400.4,192 410.6,192.7 420,193.3 420.7,193.3 430.8,194 440,194.6 441,194.7 451.1,195.3 461.2,196 470,196.5 471.3,196.6 481.5,197.3 491.6,197.9 501.7,198.6 502,198.6 511.9,198.6 522,198.6" fill="url(#h1_1)" filter="url(#f1_1)"/>
<polygon points="522,125.4 66.1,125.4 66.1,168.4 76.2,168.4 86.1,168.4 86.4,168.4 96.5,168.9 106.6,169.4 116.8,169.9 125,170.3 126.9,170.5 127.5,170.5 135,171.5 137,171.6 140,171.8 147.1,172.3 148,172.3 157.3,173 167.4,173.6 170,173.8 177.5,174.3 187.7,175 197.8,175.6 200,175.8 207.9,176.5 218.1,177.3 220,177.5 228.2,178.2 238.3,179.1 248.5,180 258.6,180.8 260,181 268.7,181.6 278.9,182.3 289,183 299.1,183.7 300,183.8 309.2,184.5 319.4,185.3 329.5,186.1 339.6,186.9 349.8,187.8 359.9,188.6 360,188.6 370,189.3 380.2,190.1 390.3,190.9 400,191.6 400.4,191.6 410.6,192.4 420,193.1 420.7,193.2 430.8,193.9 440,194.6 441,194.7 451.1,195.4 461.2,196.1 470,196.7 471.3,196.8 481.5,197.5 491.6,198.3 501.7,199 502,199 511.9,199 522,198.9" fill="url(#h1_2)" filter="url(#f1_2)"/>
<polygon points="522,125.4 66.1,125.4 66.1,165.5 76.2,165.5 86.1,165.5 86.4,165.5 96.5,165.9 106.6,166.3 116.8,166.7 125,167.1 126.9,167.3 127.5,167.4 135,168.8 137,169 140,169.2 147.1,169.7 148,169.8 157.3,170.5 167.4,171.3 170,171.5 177.5,172.1 187.7,172.8 197.8,173.6 200,173.7 207.9,174.5 218.1,175.4 220,175.6 228.2,176.4 238.3,177.3 248.5,178.3 258.6,179.2 260,179.3 268.7,180 278.9,180.8 289,181.7 299.1,182.5 300,182.5 309.2,183.3 319.4,184.2 329.5,185.1 339.6,186 349.8,186.9 359.9,187.8 360,187.8 370,188.7 380.2,189.6 390.3,190.5 400,191.3 400.4,191.3 410.6,192.2 420,193 420.7,193 430.8,193.8 440,194.6 441,194.6 451.1,195.4 461.2,196.2 470,196.9 471.3,197 481.5,197.8 491.6,198.6 501.7,199.4 502,199.4 511.9,199.3 522,199.3" fill="url(#h1_3)" filter="url(#f1_3)"/>
<polygon points="522,125.4 66.1,125.4 66.1,162.6 76.2,162.6 86.1,162.6 86.4,162.6 96.5,162.9 106.6,163.2 116.8,163.6 125,163.8 126.9,164.2 127.5,164.3 135,166.2 137,166.4 140,166.6 147.1,167.2 148,167.3 157.3,168.1 167.4,169 170,169.2 177.5,169.8 187.7,170.7 197.8,171.5 200,171.7 207.9,172.5 218.1,173.5 220,173.7 228.2,174.5 238.3,175.5 248.5,176.6 258.6,177.6 260,177.7 268.7,178.5 278.9,179.4 289,180.3 299.1,181.2 300,181.3 309.2,182.2 319.4,183.2 329.5,184.2 339.6,185.1 349.8,186.1 359.9,187.1 360,187.1 370,188.1 380.2,189 390.3,190 400,191 400.4,191 410.6,191.9 420,192.8 420.7,192.9 430.8,193.8 440,194.6 441,194.6 451.1,195.5 461.2,196.4 470,197.1 471.3,197.2 481.5,198.1 491.6,198.9 501.7,199.7 502,199.8 511.9,199.7 522,199.6" fill="url(#h1_4)" filter="url(#f1_4)"/>
<polygon points="522,125.4 66.1,125.4 66.1,159.7 76.2,159.7 86.1,159.7 86.4,159.7 96.5,159.9 106.6,160.2 116.8,160.4 125,160.6 126.9,161 127.5,161.1 135,163.6 137,163.8 140,164 147.1,164.7 148,164.8 157.3,165.7 167.4,166.6 170,166.9 177.5,167.6 187.7,168.5 197.8,169.5 200,169.7 207.9,170.5 218.1,171.6 220,171.8 228.2,172.7 238.3,173.8 248.5,174.8 258.6,175.9 260,176.1 268.7,176.9 278.9,178 289,179 299.1,180 300,180.1 309.2,181 319.4,182.1 329.5,183.2 339.6,184.2 349.8,185.3 359.9,186.4 360,186.4 370,187.4 380.2,188.5 390.3,189.6 400,190.6 400.4,190.7 410.6,191.7 420,192.7 420.7,192.7 430.8,193.7 440,194.5 441,194.6 451.1,195.6 461.2,196.5 470,197.3 471.3,197.5 481.5,198.4 491.6,199.2 501.7,200.1 502,200.2 511.9,200.1 522,200" fill="url(#h1_5)" filter="url(#f1_5)"/>
<polygon points="522,125.4 66.1,125.4 66.1,156.8 76.2,156.8 86.1,156.8 86.4,156.8 96.5,156.9 106.6,157.1 116.8,157.2 125,157.3 126.9,157.8 127.5,158 135,160.9 137,161.1 140,161.4 147.1,162.2 148,162.2 157.3,163.2 167.4,164.3 170,164.6 177.5,165.4 187.7,166.4 197.8,167.4 200,167.6 207.9,168.5 218.1,169.7 220,169.9 228.2,170.8 238.3,172 248.5,173.1 258.6,174.3 260,174.4 268.7,175.4 278.9,176.5 289,177.6 299.1,178.7 300,178.8 309.2,179.9 319.4,181 329.5,182.2 339.6,183.3 349.8,184.5 359.9,185.6 360,185.6 370,186.8 380.2,188 390.3,189.2 400,190.3 400.4,190.3 410.6,191.5 420,192.5 420.7,192.6 430.8,193.6 440,194.5 441,194.6 451.1,195.6 461.2,196.7 470,197.5 471.3,197.7 481.5,198.6 491.6,199.6 501.7,200.5 502,200.5 511.9,200.4 522,200.3" fill="url(#h1_6)" filter="url(#f1_6)"/>
<polygon points="522,125.4 66.1,125.4 66.1,153.9 76.2,153.9 86.1,153.9 86.4,153.9 96.5,154 106.6,154 116.8,154 125,154.1 126.9,154.7 127.5,154.8 135,158.3 137,158.5 140,158.8 147.1,159.6 148,159.7 157.3,160.8 167.4,162 170,162.3 177.5,163.1 187.7,164.2 197.8,165.4 200,165.6 207.9,166.5 218.1,167.8 220,168 228.2,169 238.3,170.2 248.5,171.4 258.6,172.6 260,172.8 268.7,173.8 278.9,175.1 289,176.3 299.1,177.5 300,177.6 309.2,178.7 319.4,180 329.5,181.2 339.6,182.4 349.8,183.7 359.9,184.9 360,184.9 370,186.2 380.2,187.5 390.3,188.7 400,190 400.4,190 410.6,191.2 420,192.3 420.7,192.4 430.8,193.5 440,194.5 441,194.6 451.1,195.7 461.2,196.8 470,197.7 471.3,197.9 481.5,198.9 491.6,199.9 501.7,200.9 502,200.9 511.9,200.8 522,200.7" fill="url(#h1_7)" filter="url(#f1_7)"/>
<polygon points="522,125.4 66.1,125.4 66.1,153.2 76.2,153.2 86.1,153.2 86.4,153.2 96.5,153.2 106.6,153.2 116.8,153.3 125,153.3 126.9,153.9 127.5,154.1 135,157.6 137,157.8 140,158.1 147.1,158.9 148,159 157.3,160.1 167.4,161.2 170,161.5 177.5,162.4 187.7,163.5 197.8,164.6 200,164.8 207.9,165.8 218.1,167 220,167.2 228.2,168.2 238.3,169.4 248.5,170.7 258.6,171.9 260,172 268.7,173.1 278.9,174.3 289,175.5 299.1,176.7 300,176.8 309.2,178 319.4,179.2 329.5,180.4 339.6,181.7 349.8,182.9 359.9,184.1 360,184.1 370,185.4 380.2,186.7 390.3,188 400,189.2 400.4,189.3 410.6,190.5 420,191.6 420.7,191.7 430.8,192.8 440,193.8 441,193.9 451.1,195 461.2,196 470,197 471.3,197.1 481.5,198.1 491.6,199.1 501.7,200.1 502,200.2 511.9,200.1 522,199.9" fill="url(#h1_8)" filter="url(#f1_8)"/>
<polygon points="522,125.4 66.1,125.4 66.1,152.4 76.2,152.4 86.1,152.4 86.4,152.4 96.5,152.5 106.6,152.5 116.8,152.5 125,152.6 126.9,153.2 127.5,153.3 135,156.8 137,157 140,157.3 147.1,158.1 148,158.2 157.3,159.3 167.4,160.5 170,160.8 177.5,161.6 187.7,162.7 197.8,163.9 200,164.1 207.9,165 218.1,166.3 220,166.5 228.2,167.5 238.3,168.7 248.5,169.9 258.6,171.1 260,171.3 268.7,172.3 278.9,173.6 289,174.8 299.1,176 300,176.1 309.2,177.2 319.4,178.5 329.5,179.7 339.6,180.9 349.8,182.2 359.9,183.4 360,183.4 370,184.7 380.2,186 390.3,187.2 400,188.5 400.4,188.5 410.6,189.7 420,190.8 420.7,190.9 430.8,192 440,193 441,193.1 451.1,194.2 461.2,195.3 470,196.2 471.3,196.4 481.5,197.4 491.6,198.4 501.7,199.4 502,199.4 511.9,199.3 522,199.2" fill="url(#h1_9)" filter="url(#f1_9)"/>
<polygon points="522,125.4 66.1,125.4 66.1,156.6 76.2,156.6 86.1,156.6 86.4,156.6 96.5,156.7 106.6,156.7 116.8,156.7 124,156.8 126.9,156.4 127.5,156.3 132,156.3 135,156.8 137,157 140,157.3 147.1,157.9 148,158 157.3,158.9 167.4,159.9 177.5,160.9 187.7,162 197.8,163 200,163.2 207.9,164.1 218.1,165.2 228.2,166.3 238.3,167.4 248.5,168.5 258.6,169.6 260,169.8 268.7,170.8 278.9,171.9 289,173 299.1,174.1 300,174.2 309.2,175.3 319.4,176.5 329.5,177.6 339.6,178.8 349.8,180 359.9,181.2 360,181.2 370,182.4 380.2,183.7 390.3,184.9 400.4,186.1 410.6,187.4 420,188.5 420.7,188.6 430.8,189.7 440,190.7 441,190.8 451.1,192 461.2,193.1 471.3,194.2 481.5,195.3 491.6,196.4 501.7,197.6 502,197.6 511.9,197.6 522,197.6" fill="#a9d0e0" filter="url(#f1_10)"/>
</g>
<g clip-path="url(#c2)">
<rect x="518.3" y="75.3" width="412.2" height="72.6" fill="url(#h2_10)"/>
<polygon points="945.5,50.3 503.3,50.3 503.3,102.8 513.3,102.8 523.3,102.8 523.4,102.8 533.4,103.8 535,103.9 543.5,104.8 547.6,105.2 553.5,105.8 560,106.4 563,106.6 563.6,106.7 565,106.8 573.6,107.4 575,107.5 575.4,107.5 583.7,108.4 590,109.1 593.8,109.6 603.8,110.6 613.8,111.7 623.9,112.8 630,113.5 633.9,113.9 644,114.9 654,115.9 664.1,116.9 674.1,117.8 684.2,118.8 694.2,119.8 700,120.4 704.3,120.8 714.3,121.8 724.4,122.8 734.4,123.8 744.5,124.8 754.5,125.8 764.6,126.8 774.6,127.8 780,128.3 784.7,128.8 794.8,129.8 800,130.3 804.8,130.8 814.8,131.8 824.9,132.8 835,133.8 845,134.8 855,135.8 860,136.3 865.1,136.8 875.1,137.8 885.2,138.9 895.2,139.9 905.3,140.9 915.3,141.9 925,142.8 925.4,142.9 925.5,142.9 935.5,142.9 945.5,142.9" fill="url(#h2_1)" filter="url(#f2_1)"/>
<polygon points="945.5,50.3 503.3,50.3 503.3,99.1 513.3,99.1 523.3,99.1 523.4,99.1 533.4,99.8 535,99.9 543.5,100.5 547.6,100.8 553.5,101.3 560,101.9 563,102.1 563.6,102.2 565,102.3 573.6,103.4 575,103.6 575.4,103.7 583.7,104.7 590,105.5 593.8,106 603.8,107.2 613.8,108.4 623.9,109.6 630,110.3 633.9,110.8 644,111.9 654,113 664.1,114.1 674.1,115.2 684.2,116.3 694.2,117.4 700,118 704.3,118.5 714.3,119.7 724.4,120.8 734.4,122 744.5,123.1 754.5,124.2 764.6,125.4 774.6,126.5 780,127.2 784.7,127.7 794.8,128.8 800,129.4 804.8,129.9 814.8,131 824.9,132.1 835,133.3 845,134.4 855,135.5 860,136.1 865.1,136.6 875.1,137.7 885.2,138.9 895.2,140 905.3,141.1 915.3,142.2 925,143.2 925.4,143.3 925.5,143.3 935.5,143.3 945.5,143.3" fill="url(#h2_2)" filter="url(#f2_2)"/>
<polygon points="945.5,50.3 503.3,50.3 503.3,95.4 513.3,95.4 523.3,95.4 523.4,95.4 533.4,95.7 535,95.8 543.5,96.2 547.6,96.4 553.5,96.9 560,97.4 563,97.6 563.6,97.7 565,97.8 573.6,99.5 575,99.7 575.4,99.8 583.7,101 590,101.8 593.8,102.4 603.8,103.7 613.8,105 623.9,106.4 630,107.2 633.9,107.6 644,108.9 654,110.1 664.1,111.3 674.1,112.5 684.2,113.7 694.2,115 700,115.7 704.3,116.2 714.3,117.5 724.4,118.8 734.4,120.1 744.5,121.4 754.5,122.7 764.6,124 774.6,125.3 780,126 784.7,126.6 794.8,127.8 800,128.4 804.8,129 814.8,130.2 824.9,131.5 835,132.7 845,134 855,135.2 860,135.8 865.1,136.4 875.1,137.6 885.2,138.9 895.2,140.1 905.3,141.3 915.3,142.5 925,143.6 925.4,143.7 925.5,143.7 935.5,143.7 945.5,143.6" fill="url(#h2_3)" filter="url(#f2_3)"/>
<polygon points="945.5,50.3 503.3,50.3 503.3,91.7 513.3,91.7 523.3,91.7 523.4,91.7 533.4,91.7 535,91.7 543.5,91.9 547.6,92 553.5,92.5 560,93 563,93.2 563.6,93.2 565,93.4 573.6,95.5 575,95.8 575.4,95.9 583.7,97.2 590,98.2 593.8,98.8 603.8,100.2 613.8,101.7 623.9,103.1 630,104 633.9,104.5 644,105.9 654,107.2 664.1,108.5 674.1,109.9 684.2,111.2 694.2,112.5 700,113.3 704.3,113.9 714.3,115.4 724.4,116.8 734.4,118.3 744.5,119.7 754.5,121.1 764.6,122.6 774.6,124 780,124.8 784.7,125.4 794.8,126.8 800,127.5 804.8,128.1 814.8,129.5 824.9,130.8 835,132.2 845,133.6 855,134.9 860,135.6 865.1,136.2 875.1,137.5 885.2,138.9 895.2,140.2 905.3,141.5 915.3,142.8 925,144 925.4,144.1 925.5,144.1 935.5,144 945.5,144" fill="url(#h2_4)" filter="url(#f2_4)"/>
<polygon points="945.5,50.3 503.3,50.3 503.3,88 513.3,88 523.3,88 523.4,88 533.4,87.7 535,87.6 543.5,87.6 547.6,87.6 553.5,88 560,88.5 563,88.7 563.6,88.7 565,88.9 573.6,91.5 575,91.9 575.4,92 583.7,93.5 590,94.6 593.8,95.2 603.8,96.7 613.8,98.3 623.9,99.9 630,100.8 633.9,101.4 644,102.9 654,104.3 664.1,105.8 674.1,107.2 684.2,108.7 694.2,110.1 700,110.9 704.3,111.6 714.3,113.2 724.4,114.8 734.4,116.4 744.5,118 754.5,119.6 764.6,121.2 774.6,122.8 780,123.7 784.7,124.3 794.8,125.8 800,126.5 804.8,127.2 814.8,128.7 824.9,130.2 835,131.7 845,133.1 855,134.6 860,135.3 865.1,136.1 875.1,137.5 885.2,138.9 895.2,140.3 905.3,141.7 915.3,143.1 925,144.4 925.4,144.5 925.5,144.5 935.5,144.4 945.5,144.3" fill="url(#h2_5)" filter="url(#f2_5)"/>
<polygon points="945.5,50.3 503.3,50.3 503.3,84.3 513.3,84.3 523.3,84.3 523.4,84.3 533.4,83.7 535,83.6 543.5,83.3 547.6,83.2 553.5,83.6 560,84 563,84.2 563.6,84.3 565,84.4 573.6,87.5 575,88 575.4,88.1 583.7,89.7 590,90.9 593.8,91.6 603.8,93.2 613.8,94.9 623.9,96.6 630,97.7 633.9,98.3 644,99.8 654,101.4 664.1,103 674.1,104.5 684.2,106.1 694.2,107.7 700,108.6 704.3,109.3 714.3,111.1 724.4,112.8 734.4,114.6 744.5,116.3 754.5,118 764.6,119.8 774.6,121.5 780,122.5 784.7,123.2 794.8,124.8 800,125.6 804.8,126.4 814.8,127.9 824.9,129.5 835,131.1 845,132.7 855,134.3 860,135.1 865.1,135.9 875.1,137.4 885.2,138.9 895.2,140.4 905.3,141.9 915.3,143.4 925,144.8 925.4,144.9 925.5,144.9 935.5,144.8 945.5,144.7" fill="url(#h2_6)" filter="url(#f2_6)"/>
<polygon points="945.5,50.3 503.3,50.3 503.3,80.6 513.3,80.6 523.3,80.6 523.4,80.6 533.4,79.7 535,79.5 543.5,79 547.6,78.8 553.5,79.1 560,79.5 563,79.7 563.6,79.8 565,79.9 573.6,83.6 575,84.2 575.4,84.2 583.7,86 590,87.3 593.8,88 603.8,89.8 613.8,91.6 623.9,93.4 630,94.5 633.9,95.2 644,96.8 654,98.5 664.1,100.2 674.1,101.9 684.2,103.6 694.2,105.2 700,106.2 704.3,107 714.3,108.9 724.4,110.8 734.4,112.7 744.5,114.6 754.5,116.5 764.6,118.4 774.6,120.3 780,121.3 784.7,122.1 794.8,123.8 800,124.7 804.8,125.5 814.8,127.2 824.9,128.9 835,130.6 845,132.3 855,134 860,134.8 865.1,135.7 875.1,137.3 885.2,138.9 895.2,140.5 905.3,142.1 915.3,143.7 925,145.2 925.4,145.3 925.5,145.3 935.5,145.2 945.5,145.1" fill="url(#h2_7)" filter="url(#f2_7)"/>
<polygon points="945.5,50.3 503.3,50.3 503.3,79.8 513.3,79.8 523.3,79.8 523.4,79.8 533.4,78.9 535,78.8 543.5,78.3 547.6,78 553.5,78.4 560,78.8 563,79 563.6,79 565,79.2 573.6,82.8 575,83.4 575.4,83.5 583.7,85.2 590,86.5 593.8,87.2 603.8,89 613.8,90.8 623.9,92.6 630,93.8 633.9,94.4 644,96.1 654,97.8 664.1,99.4 674.1,101.1 684.2,102.8 694.2,104.5 700,105.5 704.3,106.3 714.3,108.2 724.4,110.1 734.4,112 744.5,113.9 754.5,115.8 764.6,117.7 774.6,119.5 780,120.6 784.7,121.4 794.8,123 800,123.9 804.8,124.7 814.8,126.4 824.9,128.1 835,129.8 845,131.5 855,133.2 860,134.1 865.1,134.9 875.1,136.5 885.2,138.1 895.2,139.7 905.3,141.3 915.3,142.9 925,144.5 925.4,144.5 925.5,144.5 935.5,144.4 945.5,144.3" fill="url(#h2_8)" filter="url(#f2_8)"/>
<polygon points="945.5,50.3 503.3,50.3 503.3,79.1 513.3,79.1 523.3,79.1 523.4,79.1 533.4,78.2 535,78 543.5,77.5 547.6,77.3 553.5,77.6 560,78 563,78.2 563.6,78.3 565,78.4 573.6,82.1 575,82.7 575.4,82.7 583.7,84.5 590,85.8 593.8,86.5 603.8,88.3 613.8,90.1 623.9,91.9 630,93 633.9,93.7 644,95.3 654,97 664.1,98.7 674.1,100.4 684.2,102.1 694.2,103.7 700,104.7 704.3,105.5 714.3,107.4 724.4,109.3 734.4,111.2 744.5,113.1 754.5,115 764.6,116.9 774.6,118.8 780,119.8 784.7,120.6 794.8,122.3 800,123.2 804.8,124 814.8,125.7 824.9,127.4 835,129.1 845,130.8 855,132.5 860,133.3 865.1,134.2 875.1,135.8 885.2,137.4 895.2,139 905.3,140.6 915.3,142.2 925,143.7 925.4,143.8 925.5,143.8 935.5,143.7 945.5,143.6" fill="url(#h2_9)" filter="url(#f2_9)"/>
<polygon points="945.5,50.3 503.3,50.3 503.3,83.9 513.3,84 523.3,84.1 523.4,84.1 533.4,83.3 535,83.2 540,82.9 543.5,82.7 547.6,82.4 553.5,82.7 555,82.7 560,82.3 563,82 563.6,82 565,81.9 572,81.3 573.6,81.5 575,81.7 575.4,81.7 583.7,83 593.8,84.6 603.8,86.1 613.8,87.7 623.9,89.3 630,90.2 633.9,90.8 644,92.3 654,93.7 664.1,95.2 674.1,96.7 684.2,98.2 694.2,99.6 700,100.5 704.3,101.3 714.3,103.1 724.4,104.9 734.4,106.7 744.5,108.5 754.5,110.3 764.6,112.1 774.6,113.9 784.7,115.7 794.8,117.5 800,118.4 804.8,119.3 814.8,121.1 824.9,122.9 835,124.8 845,126.6 855,128.4 865.1,130.3 875.1,132.1 885.2,133.9 895.2,135.8 905.3,137.6 915.3,139.4 925.4,141.3 925.5,141.3 935.5,141.3 945.5,141.3" fill="#a6cee0" filter="url(#f2_10)"/>
</g>
<g clip-path="url(#c3)">
<rect x="81.0" y="418.7" width="430.2" height="69.6" fill="url(#h3_13)"/>
<polygon points="526.2,393.7 66,393.7 66,467.5 76,467.5 86,467.6 96,467.9 106,468.2 116,468.5 126,468.8 127.5,468.8 136,469.2 146,469.6 156,470 166,470.4 170,470.5 176,470.8 186.1,471.2 196.1,471.5 201.6,471.8 206.1,471.9 216.1,472.3 226.1,472.7 230,472.9 236.1,473.1 246.1,473.5 250,473.7 256.1,473.9 262,474.2 266.1,474.3 276.1,474.7 286.1,475.1 296.1,475.5 300,475.6 306.1,475.8 316.1,476.2 326.1,476.6 336.1,477 346.1,477.3 356.1,477.7 366.1,478.1 376.1,478.4 380,478.6 386.1,478.8 396.1,479.2 406.1,479.5 416.2,479.9 426.2,480.3 436.2,480.6 446.2,481 456.2,481.3 466.2,481.7 476.2,482 486.2,482.4 496.2,482.7 506.2,483.1 516.2,483.1 526.2,483.1" fill="url(#h3_1)" filter="url(#f3_1)"/>
<polygon points="526.2,393.7 66,393.7 66,464.1 76,464 86,463.9 96,464.1 106,464.2 116,464.4 126,464.5 127.5,464.6 136,464.9 146,465.4 156,465.8 166,466.3 170,466.4 176,466.7 186.1,467.1 196.1,467.5 201.6,467.7 206.1,467.9 216.1,468.3 226.1,468.8 230,469 236.1,469.1 246.1,469.5 250,469.6 256.1,469.7 262,469.9 266.1,470.2 276.1,470.8 286.1,471.4 296.1,472 300,472.2 306.1,472.6 316.1,473.1 326.1,473.7 336.1,474.2 346.1,474.8 356.1,475.3 366.1,475.9 376.1,476.4 380,476.7 386.1,477 396.1,477.5 406.1,478.1 416.2,478.6 426.2,479.1 436.2,479.7 446.2,480.2 456.2,480.7 466.2,481.3 476.2,481.8 486.2,482.3 496.2,482.8 506.2,483.4 516.2,483.4 526.2,483.4" fill="url(#h3_2)" filter="url(#f3_2)"/>
<polygon points="526.2,393.7 66,393.7 66,460.8 76,460.5 86,460.3 96,460.3 106,460.3 116,460.3 126,460.3 127.5,460.3 136,460.7 146,461.2 156,461.7 166,462.1 170,462.3 176,462.6 186.1,463 196.1,463.4 201.6,463.6 206.1,463.9 216.1,464.3 226.1,464.8 230,465 236.1,465.1 246.1,465.4 250,465.5 256.1,465.6 262,465.6 266.1,466 276.1,466.8 286.1,467.7 296.1,468.5 300,468.8 306.1,469.3 316.1,470 326.1,470.8 336.1,471.5 346.1,472.2 356.1,473 366.1,473.7 376.1,474.4 380,474.7 386.1,475.2 396.1,475.9 406.1,476.6 416.2,477.3 426.2,478 436.2,478.7 446.2,479.4 456.2,480.1 466.2,480.9 476.2,481.6 486.2,482.3 496.2,483 506.2,483.7 516.2,483.7 526.2,483.7" fill="url(#h3_3)" filter="url(#f3_3)"/>
<polygon points="526.2,393.7 66,393.7 66,457.4 76,457 86,456.7 96,456.5 106,456.3 116,456.2 126,456 127.5,456 136,456.4 146,457 156,457.5 166,458 170,458.2 176,458.5 186.1,458.9 196.1,459.3 201.6,459.6 206.1,459.8 216.1,460.3 226.1,460.9 230,461.1 236.1,461.1 246.1,461.3 250,461.3 256.1,461.4 262,461.4 266.1,461.8 276.1,462.9 286.1,464 296.1,465.1 300,465.5 306.1,466 316.1,466.9 326.1,467.9 336.1,468.8 346.1,469.7 356.1,470.6 366.1,471.5 376.1,472.4 380,472.8 386.1,473.3 396.1,474.2 406.1,475.1 416.2,476 426.2,476.9 436.2,477.8 446.2,478.7 456.2,479.6 466.2,480.4 476.2,481.3 486.2,482.2 496.2,483.1 506.2,484 516.2,484 526.2,484" fill="url(#h3_4)" filter="url(#f3_4)"/>
<polygon points="526.2,393.7 66,393.7 66,454 76,453.5 86,453 96,452.7 106,452.4 116,452.1 126,451.8 127.5,451.7 136,452.2 146,452.8 156,453.4 166,453.9 170,454.2 176,454.4 186.1,454.8 196.1,455.3 201.6,455.5 206.1,455.8 216.1,456.3 226.1,456.9 230,457.1 236.1,457.1 246.1,457.2 250,457.2 256.1,457.2 262,457.1 266.1,457.7 276.1,459 286.1,460.3 296.1,461.6 300,462.1 306.1,462.8 316.1,463.9 326.1,465 336.1,466.1 346.1,467.1 356.1,468.2 366.1,469.3 376.1,470.4 380,470.9 386.1,471.5 396.1,472.6 406.1,473.6 416.2,474.7 426.2,475.8 436.2,476.8 446.2,477.9 456.2,479 466.2,480 476.2,481.1 486.2,482.2 496.2,483.2 506.2,484.3 516.2,484.3 526.2,484.3" fill="url(#h3_5)" filter="url(#f3_5)"/>
<polygon points="526.2,393.7 66,393.7 66,450.6 76,450 86,449.4 96,448.9 106,448.5 116,448 126,447.5 127.5,447.4 136,448 146,448.6 156,449.2 166,449.8 170,450.1 176,450.3 186.1,450.8 196.1,451.2 201.6,451.5 206.1,451.7 216.1,452.3 226.1,452.9 230,453.2 236.1,453.1 246.1,453.1 250,453.1 256.1,453 262,452.9 266.1,453.5 276.1,455 286.1,456.6 296.1,458.1 300,458.7 306.1,459.5 316.1,460.8 326.1,462 336.1,463.3 346.1,464.6 356.1,465.9 366.1,467.2 376.1,468.4 380,468.9 386.1,469.7 396.1,470.9 406.1,472.2 416.2,473.4 426.2,474.7 436.2,475.9 446.2,477.1 456.2,478.4 466.2,479.6 476.2,480.9 486.2,482.1 496.2,483.3 506.2,484.6 516.2,484.6 526.2,484.6" fill="url(#h3_6)" filter="url(#f3_6)"/>
<polygon points="526.2,393.7 66,393.7 66,447.3 76,446.5 86,445.8 96,445.1 106,444.5 110,444.3 116,443.9 126,443.3 127,443.2 127.5,443.2 136,443.7 145,444.3 146,444.4 156,445 166,445.7 170,446 176,446.2 186.1,446.7 196.1,447.1 200,447.3 201.6,447.4 206.1,447.7 216.1,448.3 226.1,449 230,449.2 236.1,449.1 240,449.1 246.1,449 250,449 256.1,448.8 258,448.7 262,448.6 266.1,449.4 268,449.7 276.1,451.1 282,452.2 286.1,452.9 295,454.5 296.1,454.6 300,455.3 306.1,456.2 310,456.8 316.1,457.7 326.1,459.1 330,459.7 336.1,460.6 346.1,462.1 350,462.6 356.1,463.5 366.1,465 376.1,466.4 380,467 386.1,467.9 396.1,469.3 400,469.8 406.1,470.7 416.2,472.1 426.2,473.5 436.2,475 446.2,476.4 456.2,477.8 460,478.3 466.2,479.2 476.2,480.6 486.2,482 490,482.6 496.2,483.5 506.2,484.9 510,484.9 516.2,484.9 526.2,484.9" fill="url(#h3_7)" filter="url(#f3_7)"/>
<polygon points="526.2,393.7 66,393.7 66,442.9 76,442.4 86,441.9 96,441.6 106,441.3 110,441.2 116,440.8 126,440.1 127,440 127.5,440 136,440.3 145,440.6 146,440.7 156,441.4 166,442.2 170,442.5 176,442.9 186.1,443.6 196.1,444.2 200,444.5 201.6,444.6 206.1,445 216.1,445.9 226.1,446.7 230,447.1 236.1,447.3 240,447.4 246.1,447.5 250,447.5 256.1,447.5 258,447.5 262,447.5 266.1,448 268,448.3 276.1,449.8 282,450.9 286.1,451.7 295,453.6 296.1,453.8 300,454.5 306.1,455.5 310,456.2 316.1,457.2 326.1,458.9 330,459.6 336.1,460.6 346.1,462.2 350,462.8 356.1,463.7 366.1,465.2 376.1,466.7 380,467.3 386.1,468.1 396.1,469.6 400,470.1 406.1,471 416.2,472.4 426.2,473.8 436.2,475.2 446.2,476.7 456.2,478.1 460,478.6 466.2,479.4 476.2,480.7 486.2,482.1 490,482.6 496.2,483.3 506.2,484.5 510,484.4 516.2,484.4 526.2,484.4" fill="url(#h3_8)" filter="url(#f3_8)"/>
<polygon points="526.2,393.7 66,393.7 66,438.6 76,438.3 86,438.1 96,438.1 106,438.1 110,438.1 116,437.7 126,436.9 127,436.9 127.5,436.8 136,436.8 145,436.9 146,437 156,437.8 166,438.6 170,439 176,439.5 186.1,440.4 196.1,441.3 200,441.7 201.6,441.8 206.1,442.3 216.1,443.4 226.1,444.5 230,444.9 236.1,445.4 240,445.7 246.1,445.9 250,446.1 256.1,446.2 258,446.2 262,446.3 266.1,446.7 268,446.8 276.1,448.5 282,449.7 286.1,450.6 295,452.7 296.1,452.9 300,453.7 306.1,454.8 310,455.6 316.1,456.8 326.1,458.7 330,459.5 336.1,460.6 346.1,462.3 350,463 356.1,464 366.1,465.4 376.1,466.9 380,467.5 386.1,468.4 396.1,469.9 400,470.4 406.1,471.3 416.2,472.7 426.2,474.1 436.2,475.5 446.2,477 456.2,478.4 460,478.9 466.2,479.7 476.2,480.9 486.2,482.1 490,482.5 496.2,483.1 506.2,484.1 510,483.9 516.2,483.9 526.2,483.9" fill="url(#h3_9)" filter="url(#f3_9)"/>
<polygon points="526.2,393.7 66,393.7 66,434.2 76,434.2 86,434.2 96,434.5 106,434.9 110,435 116,434.5 126,433.8 127,433.7 127.5,433.6 136,433.4 145,433.2 146,433.2 156,434.2 166,435.1 170,435.5 176,436.1 186.1,437.3 196.1,438.4 200,438.9 201.6,439.1 206.1,439.6 216.1,440.9 226.1,442.2 236.1,443.5 240,444 246.1,444.4 250,444.6 256.1,444.9 258,445 266.1,445.3 268,445.4 276.1,447.1 282,448.4 286.1,449.5 295,451.8 296.1,452 300,452.8 306.1,454.1 310,454.9 316.1,456.3 326.1,458.5 330,459.4 336.1,460.5 346.1,462.5 350,463.2 356.1,464.2 366.1,465.7 376.1,467.2 380,467.8 386.1,468.7 396.1,470.1 400,470.7 406.1,471.6 416.2,473 426.2,474.4 436.2,475.8 446.2,477.2 456.2,478.6 460,479.2 466.2,479.9 476.2,481 486.2,482.1 490,482.5 496.2,483 506.2,483.7 510,483.4 516.2,483.4 526.2,483.4" fill="url(#h3_10)" filter="url(#f3_10)"/>
<polygon points="526.2,393.7 66,393.7 66,432.9 76,432.9 86,432.9 96,433.3 106,433.6 110,433.7 116,433.3 126,432.5 127,432.4 127.5,432.4 136,432.1 145,431.9 146,432 156,432.9 166,433.8 170,434.2 176,434.9 186.1,436 196.1,437.2 200,437.6 201.6,437.8 206.1,438.4 216.1,439.7 226.1,441 236.1,442.3 240,442.8 246.1,443.1 250,443.4 256.1,443.6 258,443.7 266.1,444.1 268,444.1 276.1,445.9 282,447.2 286.1,448.2 295,450.5 296.1,450.8 300,451.6 306.1,452.9 310,453.7 316.1,455 326.1,457.2 330,458.1 336.1,459.3 346.1,461.2 350,462 356.1,462.9 366.1,464.4 376.1,465.9 380,466.5 386.1,467.4 396.1,468.9 400,469.5 406.1,470.3 416.2,471.8 426.2,473.2 436.2,474.6 446.2,476 456.2,477.4 460,477.9 466.2,478.6 476.2,479.7 486.2,480.8 490,481.3 496.2,481.7 506.2,482.4 510,482.1 516.2,482.1 526.2,482.1" fill="url(#h3_11)" filter="url(#f3_11)"/>
<polygon points="526.2,393.7 66,393.7 66,431.7 76,431.7 86,431.7 96,432 106,432.4 110,432.5 116,432 126,431.3 127,431.2 127.5,431.1 136,430.9 145,430.7 146,430.7 156,431.7 166,432.6 170,433 176,433.6 186.1,434.8 196.1,435.9 200,436.4 201.6,436.6 206.1,437.1 216.1,438.4 226.1,439.7 236.1,441 240,441.5 246.1,441.9 250,442.1 256.1,442.4 258,442.5 266.1,442.8 268,442.9 276.1,444.6 282,445.9 286.1,447 295,449.3 296.1,449.5 300,450.3 306.1,451.6 310,452.4 316.1,453.8 326.1,456 330,456.9 336.1,458 346.1,460 350,460.8 356.1,461.7 366.1,463.2 376.1,464.7 380,465.3 386.1,466.2 396.1,467.6 400,468.2 406.1,469.1 416.2,470.5 426.2,471.9 436.2,473.3 446.2,474.7 456.2,476.1 460,476.7 466.2,477.4 476.2,478.5 486.2,479.6 490,480 496.2,480.5 506.2,481.2 510,480.9 516.2,480.9 526.2,480.9" fill="url(#h3_12)" filter="url(#f3_12)"/>
</g>
<g clip-path="url(#c4)">
<rect x="518.3" y="366.8" width="430.5" height="103.7" fill="url(#h4_13)"/>
<polygon points="963.8,341.8 503.3,341.8 503.3,436.5 513.3,436.5 523.3,436.6 533.3,436.9 540,437.1 543.3,437.3 550.1,437.5 553.4,437.7 560,438.2 563.4,438.4 573.4,439.1 583.4,439.8 593.4,440.5 603.4,441.2 613.4,441.9 620,442.3 623.4,442.6 633.4,443.3 643.5,444 649,444.3 653.5,444.7 663.5,445.4 673.5,446.1 680,446.5 683.5,446.8 690,447.3 693.5,447.5 703.5,448.2 705,448.3 713.5,448.9 723.5,449.6 733.5,450.3 743.6,450.9 753.6,451.6 763.6,452.3 773.6,453 783.6,453.7 793.6,454.4 803.6,455 813.6,455.7 823.6,456.4 833.7,457.1 843.7,457.7 853.7,458.4 863.7,459.1 873.7,459.7 883.7,460.4 893.7,461.1 903.7,461.7 913.7,462.4 923.8,463.1 933.8,463.7 943.8,464.4 953.8,464.4 960,464.4 963.8,464.4" fill="url(#h4_1)" filter="url(#f4_1)"/>
<polygon points="963.8,341.8 503.3,341.8 503.3,430.7 513.3,430.6 523.3,430.5 533.3,430.5 540,430.6 543.3,430.6 550.1,430.6 553.4,430.9 560,431.3 563.4,431.6 573.4,432.4 583.4,433.2 593.4,434 603.4,434.8 613.4,435.6 620,436.1 623.4,436.3 633.4,437 643.5,437.7 649,438.1 653.5,438.4 663.5,439.2 673.5,439.9 680,440.4 683.5,440.6 690,440.9 693.5,441.1 703.5,441.7 705,441.7 713.5,442.5 723.5,443.5 733.5,444.4 743.6,445.4 753.6,446.4 763.6,447.3 773.6,448.2 783.6,449.2 793.6,450.1 803.6,451.1 813.6,452 823.6,453 833.7,453.9 843.7,454.8 853.7,455.8 863.7,456.7 873.7,457.6 883.7,458.6 893.7,459.5 903.7,460.4 913.7,461.4 923.8,462.3 933.8,463.2 943.8,464.2 953.8,464.2 960,464.2 963.8,464.2" fill="url(#h4_2)" filter="url(#f4_2)"/>
<polygon points="963.8,341.8 503.3,341.8 503.3,424.9 513.3,424.7 523.3,424.5 533.3,424.2 540,424 543.3,423.9 550.1,423.7 553.4,424 560,424.5 563.4,424.8 573.4,425.7 583.4,426.6 593.4,427.5 603.4,428.4 613.4,429.3 620,429.9 623.4,430.1 633.4,430.8 643.5,431.5 649,431.8 653.5,432.2 663.5,432.9 673.5,433.7 680,434.2 683.5,434.4 690,434.6 693.5,434.8 703.5,435.1 705,435.2 713.5,436.2 723.5,437.4 733.5,438.6 743.6,439.9 753.6,441.1 763.6,442.3 773.6,443.5 783.6,444.7 793.6,445.9 803.6,447.1 813.6,448.3 823.6,449.5 833.7,450.7 843.7,451.9 853.7,453.1 863.7,454.3 873.7,455.5 883.7,456.7 893.7,457.9 903.7,459.1 913.7,460.3 923.8,461.5 933.8,462.7 943.8,463.9 953.8,464 960,464 963.8,464" fill="url(#h4_3)" filter="url(#f4_3)"/>
<polygon points="963.8,341.8 503.3,341.8 503.3,419.1 513.3,418.8 523.3,418.4 533.3,417.8 540,417.4 543.3,417.2 550.1,416.9 553.4,417.1 560,417.6 563.4,418 573.4,419 583.4,420 593.4,421 603.4,422 613.4,423 620,423.6 623.4,423.9 633.4,424.5 643.5,425.2 649,425.6 653.5,425.9 663.5,426.7 673.5,427.5 680,428 683.5,428.1 690,428.3 693.5,428.4 703.5,428.6 705,428.6 713.5,429.9 723.5,431.4 733.5,432.8 743.6,434.3 753.6,435.8 763.6,437.3 773.6,438.7 783.6,440.2 793.6,441.7 803.6,443.2 813.6,444.6 823.6,446.1 833.7,447.6 843.7,449.1 853.7,450.5 863.7,452 873.7,453.5 883.7,454.9 893.7,456.4 903.7,457.8 913.7,459.3 923.8,460.8 933.8,462.2 943.8,463.7 953.8,463.8 960,463.8 963.8,463.8" fill="url(#h4_4)" filter="url(#f4_4)"/>
<polygon points="963.8,341.8 503.3,341.8 503.3,413.3 513.3,412.9 523.3,412.4 533.3,411.4 540,410.8 543.3,410.5 550.1,410 553.4,410.2 560,410.8 563.4,411.1 573.4,412.3 583.4,413.4 593.4,414.5 603.4,415.6 613.4,416.7 620,417.4 623.4,417.6 633.4,418.3 643.5,419 649,419.3 653.5,419.7 663.5,420.5 673.5,421.3 680,421.9 683.5,421.9 690,422 693.5,422 703.5,422.1 705,422.1 713.5,423.6 723.5,425.3 733.5,427 743.6,428.8 753.6,430.5 763.6,432.3 773.6,434 783.6,435.7 793.6,437.5 803.6,439.2 813.6,440.9 823.6,442.7 833.7,444.4 843.7,446.2 853.7,447.9 863.7,449.6 873.7,451.4 883.7,453.1 893.7,454.8 903.7,456.6 913.7,458.3 923.8,460 933.8,461.8 943.8,463.5 953.8,463.6 960,463.7 963.8,463.7" fill="url(#h4_5)" filter="url(#f4_5)"/>
<polygon points="963.8,341.8 503.3,341.8 503.3,407.5 513.3,407 523.3,406.4 533.3,405.1 540,404.2 543.3,403.8 550.1,403.1 553.4,403.4 560,403.9 563.4,404.3 573.4,405.5 583.4,406.7 593.4,408 603.4,409.2 613.4,410.4 620,411.2 623.4,411.4 633.4,412 643.5,412.7 649,413.1 653.5,413.4 663.5,414.3 673.5,415.1 680,415.7 683.5,415.7 690,415.7 693.5,415.7 703.5,415.5 705,415.5 713.5,417.2 723.5,419.2 733.5,421.2 743.6,423.2 753.6,425.2 763.6,427.2 773.6,429.2 783.6,431.2 793.6,433.2 803.6,435.2 813.6,437.2 823.6,439.2 833.7,441.3 843.7,443.3 853.7,445.3 863.7,447.3 873.7,449.3 883.7,451.3 893.7,453.3 903.7,455.3 913.7,457.3 923.8,459.3 933.8,461.3 943.8,463.3 953.8,463.4 960,463.5 963.8,463.5" fill="url(#h4_6)" filter="url(#f4_6)"/>
<polygon points="963.8,341.8 503.3,341.8 503.3,401.8 513.3,401 523.3,400.3 533.3,398.7 535,398.4 540,397.6 543.3,397.1 550.1,396.2 553.4,396.5 555,396.6 560,397.1 563.4,397.5 573.4,398.8 580,399.7 583.4,400.1 593.4,401.4 603.4,402.8 610,403.6 613.4,404.1 620,404.9 623.4,405.2 633.4,405.8 640,406.2 643.5,406.5 649,406.8 653.5,407.2 663.5,408.1 673.5,409 680,409.5 683.5,409.5 690,409.4 693.5,409.3 698,409.2 703.5,409 705,409 706,409.2 712,410.5 713.5,410.9 723.5,413.2 730,414.6 733.5,415.4 743.6,417.7 753.6,420 760,421.4 763.6,422.2 773.6,424.5 780,425.9 783.6,426.8 793.6,429 803.6,431.3 813.6,433.6 823.6,435.8 833.7,438.1 840,439.5 843.7,440.4 853.7,442.6 863.7,444.9 873.7,447.2 883.7,449.4 893.7,451.7 900,453.1 903.7,454 913.7,456.2 923.8,458.5 933.8,460.8 943.8,463 944,463 953.8,463.2 960,463.3 963.8,463.3" fill="url(#h4_7)" filter="url(#f4_7)"/>
<polygon points="963.8,341.8 503.3,341.8 503.3,396.7 513.3,396.2 523.3,395.7 533.3,394.3 535,394.1 540,393.5 543.3,393.2 550.1,392.5 553.4,392.9 555,393.1 560,393.5 563.4,393.9 573.4,395.1 580,395.9 583.4,396.4 593.4,397.7 603.4,398.9 610,399.8 613.4,400.2 620,401.1 623.4,401.4 633.4,402.3 640,402.9 643.5,403.2 649,403.7 653.5,404.2 663.5,405.4 673.5,406.6 680,407.4 683.5,407.5 690,407.9 693.5,407.7 698,407.4 703.5,407.7 705,407.8 706,408 712,410.1 713.5,410.5 723.5,413.1 730,414.8 733.5,415.7 743.6,418.2 753.6,420.7 760,422.3 763.6,423.2 773.6,425.6 780,427.2 783.6,428 793.6,430.2 803.6,432.4 813.6,434.6 823.6,436.8 833.7,439 840,440.4 843.7,441.2 853.7,443.3 863.7,445.4 873.7,447.5 883.7,449.6 893.7,451.7 900,453.1 903.7,453.9 913.7,456 923.8,458.1 933.8,460.2 943.8,462.4 944,462.4 953.8,462.4 960,462.5 963.8,462.5" fill="url(#h4_8)" filter="url(#f4_8)"/>
<polygon points="963.8,341.8 503.3,341.8 503.3,391.6 513.3,391.3 523.3,391.1 533.3,390 535,389.8 540,389.4 543.3,389.2 550.1,388.8 553.4,389.3 555,389.6 560,390 563.4,390.3 573.4,391.5 580,392.2 583.4,392.6 593.4,393.9 603.4,395.1 610,395.9 613.4,396.4 620,397.3 623.4,397.7 633.4,398.8 640,399.5 643.5,400 649,400.6 653.5,401.3 663.5,402.8 673.5,404.2 680,405.2 683.5,405.6 690,406.3 693.5,406.1 698,405.7 703.5,406.4 705,406.6 706,406.8 712,409.6 713.5,410.1 723.5,413.1 730,415 733.5,416 743.6,418.7 753.6,421.4 760,423.2 763.6,424.1 773.6,426.8 780,428.5 783.6,429.3 793.6,431.4 803.6,433.5 813.6,435.6 823.6,437.8 833.7,439.9 840,441.3 843.7,442 853.7,443.9 863.7,445.9 873.7,447.9 883.7,449.8 893.7,451.8 900,453 903.7,453.8 913.7,455.7 923.8,457.7 933.8,459.7 943.8,461.7 944,461.7 953.8,461.7 960,461.6 963.8,461.6" fill="url(#h4_9)" filter="url(#f4_9)"/>
<polygon points="963.8,341.8 503.3,341.8 503.3,386.5 513.3,386.5 523.3,386.5 533.3,385.6 535,385.4 540,385.2 543.3,385.2 550.1,385.1 553.4,385.8 555,386.1 560,386.4 563.4,386.8 573.4,387.8 580,388.5 583.4,388.9 593.4,390.1 603.4,391.3 610,392.1 613.4,392.5 623.4,393.9 633.4,395.3 640,396.2 643.5,396.7 649,397.6 653.5,398.3 663.5,400.1 673.5,401.9 683.5,403.7 690,404.8 693.5,404.4 698,404 703.5,405.1 706,405.7 712,409.1 713.5,409.6 723.5,413 730,415.2 733.5,416.3 743.6,419.2 753.6,422.2 760,424.1 763.6,425.1 773.6,427.9 780,429.8 783.6,430.5 793.6,432.6 803.6,434.6 813.6,436.7 823.6,438.7 833.7,440.8 840,442.1 843.7,442.8 853.7,444.6 863.7,446.4 873.7,448.2 883.7,450 893.7,451.8 900,453 903.7,453.6 913.7,455.5 923.8,457.3 933.8,459.2 943.8,461 944,461 953.8,460.9 960,460.8 963.8,460.8" fill="url(#h4_10)" filter="url(#f4_10)"/>
<polygon points="963.8,341.8 503.3,341.8 503.3,385.2 513.3,385.2 523.3,385.2 533.3,384.4 535,384.2 540,384 543.3,383.9 550.1,383.8 553.4,384.5 555,384.8 560,385.1 563.4,385.5 573.4,386.5 580,387.2 583.4,387.6 593.4,388.8 603.4,390 610,390.8 613.4,391.3 623.4,392.7 633.4,394 640,394.9 643.5,395.5 649,396.3 653.5,397.1 663.5,398.9 673.5,400.6 683.5,402.4 690,403.6 693.5,403.2 698,402.7 703.5,403.9 706,404.4 712,407.9 713.5,408.4 723.5,411.8 730,414 733.5,415 743.6,418 753.6,420.9 760,422.8 763.6,423.8 773.6,426.7 780,428.5 783.6,429.3 793.6,431.3 803.6,433.4 813.6,435.4 823.6,437.5 833.7,439.6 840,440.9 843.7,441.5 853.7,443.3 863.7,445.2 873.7,447 883.7,448.8 893.7,450.6 900,451.7 903.7,452.4 913.7,454.2 923.8,456.1 933.8,457.9 943.8,459.8 944,459.8 953.8,459.6 960,459.6 963.8,459.6" fill="url(#h4_11)" filter="url(#f4_11)"/>
<polygon points="963.8,341.8 503.3,341.8 503.3,384 513.3,384 523.3,384 533.3,383.1 535,382.9 540,382.8 543.3,382.7 550.1,382.6 553.4,383.3 555,383.6 560,383.9 563.4,384.3 573.4,385.3 580,386 583.4,386.4 593.4,387.6 603.4,388.8 610,389.6 613.4,390 623.4,391.4 633.4,392.8 640,393.7 643.5,394.2 649,395.1 653.5,395.8 663.5,397.6 673.5,399.4 683.5,401.2 690,402.3 693.5,401.9 698,401.5 703.5,402.6 706,403.2 712,406.6 713.5,407.1 723.5,410.5 730,412.7 733.5,413.8 743.6,416.7 753.6,419.7 760,421.6 763.6,422.6 773.6,425.4 780,427.3 783.6,428 793.6,430.1 803.6,432.1 813.6,434.2 823.6,436.2 833.7,438.3 840,439.6 843.7,440.3 853.7,442.1 863.7,443.9 873.7,445.7 883.7,447.5 893.7,449.3 900,450.5 903.7,451.1 913.7,453 923.8,454.8 933.8,456.7 943.8,458.5 944,458.5 953.8,458.4 960,458.3 963.8,458.3" fill="url(#h4_12)" filter="url(#f4_12)"/>
</g>
<g clip-path="url(#c5)">
<rect x="81.1" y="628.0" width="430.1" height="82.5" fill="url(#h5_12)"/>
<polygon points="526.2,603 66.1,603 66.1,709.5 76.1,709.4 86.1,709.3 96.1,709.3 105,709.3 106.1,709.3 113,709.3 116.1,709.3 120,709.2 126.1,709.2 136.1,709 140,709 146.1,708.9 156.1,708.7 166.1,708.6 176.1,708.5 186.1,708.3 196.1,708.2 200,708.2 206.1,708.1 216.1,707.9 226.1,707.8 236.1,707.7 246.1,707.5 250,707.5 256.1,707.4 266.1,707.3 276.1,707.2 286.1,707 296.1,706.9 300,706.9 306.2,706.7 316.2,706.3 326.2,706 336.2,705.8 346.2,705.5 350,705.4 356.2,705.3 366.2,705.1 376.2,704.9 386.2,704.7 396.2,704.6 400,704.5 406.2,704.5 416.2,704.4 426.2,704.3 436.2,704.3 446.2,704.3 450,704.3 456.2,704.3 466.2,704.4 476.2,704.4 486.2,704.5 496.2,704.7 506,704.8 506.2,704.8 516.2,704.8 526.2,704.8" fill="url(#h5_1)" filter="url(#f5_1)"/>
<polygon points="526.2,603 66.1,603 66.1,703.3 76.1,703.2 86.1,703.2 96.1,703.1 105,703.1 106.1,703.1 113,703.1 116.1,703.1 120,703.1 126.1,703.1 136.1,703.1 140,703.1 146.1,703.1 156.1,703.1 166.1,703.1 176.1,703.1 186.1,703.1 196.1,703.1 200,703.2 206.1,703.2 216.1,703.2 226.1,703.2 236.1,703.3 246.1,703.3 250,703.3 256.1,703.3 266.1,703.4 276.1,703.4 286.1,703.5 296.1,703.5 300,703.6 306.2,703.4 316.2,703.2 326.2,703 336.2,702.9 346.2,702.7 350,702.7 356.2,702.6 366.2,702.5 376.2,702.5 386.2,702.4 396.2,702.4 400,702.4 406.2,702.4 416.2,702.5 426.2,702.6 436.2,702.7 446.2,702.9 450,703 456.2,703.1 466.2,703.2 476.2,703.4 486.2,703.7 496.2,703.9 506,704.2 506.2,704.2 516.2,704.2 526.2,704.2" fill="url(#h5_2)" filter="url(#f5_2)"/>
<polygon points="526.2,603 66.1,603 66.1,697.1 76.1,697.1 86.1,697.1 96.1,697 105,696.9 106.1,696.9 113,696.9 116.1,696.9 120,696.9 126.1,697 136.1,697.2 140,697.2 146.1,697.3 156.1,697.5 166.1,697.6 176.1,697.8 186.1,697.9 196.1,698.1 200,698.1 206.1,698.2 216.1,698.4 226.1,698.6 236.1,698.8 246.1,699 250,699.1 256.1,699.3 266.1,699.5 276.1,699.7 286.1,699.9 296.1,700.2 300,700.2 306.2,700.2 316.2,700.1 326.2,700 336.2,699.9 346.2,699.9 350,699.9 356.2,699.9 366.2,700 376.2,700 386.2,700.1 396.2,700.2 400,700.3 406.2,700.4 416.2,700.6 426.2,700.9 436.2,701.2 446.2,701.5 450,701.6 456.2,701.8 466.2,702.1 476.2,702.4 486.2,702.8 496.2,703.2 506,703.6 506.2,703.6 516.2,703.6 526.2,703.6" fill="url(#h5_3)" filter="url(#f5_3)"/>
<polygon points="526.2,603 66.1,603 66.1,690.9 76.1,690.9 86.1,690.9 96.1,690.8 105,690.7 106.1,690.7 113,690.7 116.1,690.7 120,690.8 126.1,690.9 136.1,691.3 140,691.4 146.1,691.5 156.1,691.8 166.1,692.1 176.1,692.4 186.1,692.7 196.1,693 200,693.1 206.1,693.3 216.1,693.7 226.1,694.1 236.1,694.4 246.1,694.8 250,694.9 256.1,695.2 266.1,695.6 276.1,696 286.1,696.4 296.1,696.8 300,696.9 306.2,696.9 316.2,696.9 326.2,697 336.2,697 346.2,697.1 350,697.2 356.2,697.3 366.2,697.4 376.2,697.6 386.2,697.8 396.2,698.1 400,698.2 406.2,698.4 416.2,698.7 426.2,699.1 436.2,699.6 446.2,700 450,700.2 456.2,700.5 466.2,700.9 476.2,701.4 486.2,701.9 496.2,702.4 506,703 506.2,703 516.2,703 526.2,703" fill="url(#h5_4)" filter="url(#f5_4)"/>
<polygon points="526.2,603 66.1,603 66.1,684.7 76.1,684.8 86.1,684.8 96.1,684.6 105,684.5 106.1,684.5 113,684.4 116.1,684.5 120,684.6 126.1,684.9 136.1,685.3 140,685.5 146.1,685.8 156.1,686.2 166.1,686.6 176.1,687.1 186.1,687.5 196.1,687.9 200,688.1 206.1,688.4 216.1,688.9 226.1,689.5 236.1,690 246.1,690.5 250,690.8 256.1,691.1 266.1,691.7 276.1,692.3 286.1,692.8 296.1,693.4 300,693.6 306.2,693.7 316.2,693.8 326.2,694 336.2,694.1 346.2,694.4 350,694.4 356.2,694.6 366.2,694.9 376.2,695.2 386.2,695.5 396.2,695.9 400,696.1 406.2,696.4 416.2,696.9 426.2,697.4 436.2,698 446.2,698.6 450,698.8 456.2,699.2 466.2,699.8 476.2,700.4 486.2,701 496.2,701.7 506,702.3 506.2,702.4 516.2,702.4 526.2,702.4" fill="url(#h5_5)" filter="url(#f5_5)"/>
<polygon points="526.2,603 66.1,603 66.1,678.6 76.1,678.6 86.1,678.7 96.1,678.5 105,678.2 106.1,678.2 113,678.2 116.1,678.3 120,678.4 126.1,678.8 136.1,679.4 140,679.7 146.1,680 156.1,680.6 166.1,681.1 176.1,681.7 186.1,682.3 196.1,682.8 200,683 206.1,683.5 216.1,684.2 226.1,684.9 236.1,685.6 246.1,686.3 250,686.6 256.1,687 266.1,687.8 276.1,688.5 286.1,689.3 296.1,690 300,690.3 306.2,690.4 316.2,690.7 326.2,690.9 336.2,691.2 346.2,691.6 350,691.7 356.2,691.9 366.2,692.3 376.2,692.8 386.2,693.2 396.2,693.7 400,693.9 406.2,694.3 416.2,695 426.2,695.7 436.2,696.4 446.2,697.2 450,697.5 456.2,697.9 466.2,698.6 476.2,699.3 486.2,700.1 496.2,700.9 506,701.7 506.2,701.7 516.2,701.7 526.2,701.7" fill="url(#h5_6)" filter="url(#f5_6)"/>
<polygon points="526.2,603 66.1,603 66.1,672.4 76.1,672.5 86.1,672.6 96.1,672.3 105,672 106.1,672 113,672 116.1,672.1 120,672.3 126.1,672.7 136.1,673.5 140,673.8 146.1,674.2 156.1,674.9 166.1,675.6 176.1,676.4 186.1,677.1 196.1,677.8 200,678 206.1,678.6 216.1,679.4 226.1,680.3 236.1,681.2 246.1,682.1 250,682.4 256.1,683 266.1,683.9 276.1,684.8 286.1,685.7 296.1,686.6 300,687 306.2,687.2 316.2,687.5 326.2,687.9 336.2,688.3 346.2,688.8 350,689 356.2,689.3 366.2,689.8 376.2,690.4 386.2,691 396.2,691.6 400,691.8 406.2,692.3 416.2,693.1 426.2,693.9 436.2,694.8 446.2,695.7 450,696.1 456.2,696.6 466.2,697.4 476.2,698.3 486.2,699.2 496.2,700.2 506,701.1 506.2,701.1 516.2,701.1 526.2,701.1" fill="url(#h5_7)" filter="url(#f5_7)"/>
<polygon points="526.2,603 66.1,603 66.1,666.2 76.1,666.3 86.1,666.5 96.1,666.1 100,666 105,665.8 106.1,665.8 113,665.8 116.1,665.9 120,666.1 126.1,666.7 136.1,667.6 140,667.9 146.1,668.5 156.1,669.3 166.1,670.2 176.1,671 186.1,671.8 196.1,672.7 200,673 206.1,673.6 216.1,674.7 226.1,675.7 236.1,676.8 246.1,677.8 250,678.2 256.1,678.9 266.1,680 276.1,681.1 286.1,682.2 296.1,683.3 300,683.7 306.2,684 316.2,684.4 326.2,684.9 336.2,685.4 346.2,686 350,686.2 356.2,686.6 366.2,687.3 376.2,687.9 386.2,688.7 396.2,689.4 400,689.7 406.2,690.3 416.2,691.2 426.2,692.2 436.2,693.2 440,693.6 446.2,694.3 450,694.7 456.2,695.3 465,696.2 466.2,696.3 476.2,697.3 480,697.7 486.2,698.3 490,698.7 496.2,699.4 506,700.5 506.2,700.5 516.2,700.5 526.2,700.5" fill="url(#h5_8)" filter="url(#f5_8)"/>
<polygon points="526.2,603 66.1,603 66.1,663.1 76.1,663.2 86.1,663.3 96.1,662.6 100,662.4 105,661.9 106.1,661.8 113,661.5 116.1,661.6 120,661.7 126.1,662.2 136.1,663 140,663.4 146.1,663.8 156.1,664.6 166.1,665.4 176.1,666.2 186.1,667 196.1,667.7 200,668 206.1,668.8 216.1,670 226.1,671.2 236.1,672.4 246.1,673.6 250,674.1 256.1,674.9 266.1,676.2 276.1,677.5 286.1,678.8 296.1,680.1 300,680.6 306.2,681.2 316.2,682.2 326.2,683.1 336.2,684.1 346.2,685.1 350,685.5 356.2,686.2 366.2,687.2 376.2,688.3 386.2,689.4 396.2,690.6 400,691 406.2,691.7 416.2,692.9 426.2,694.1 436.2,695.3 440,695.8 446.2,696.4 450,696.8 456.2,697.3 465,698.1 466.2,698.1 476.2,698.8 480,699.1 486.2,699.8 490,700.2 496.2,701.1 506,702.4 506.2,702.5 516.2,702.5 526.2,702.5" fill="url(#h5_9)" filter="url(#f5_9)"/>
<polygon points="526.2,603 66.1,603 66.1,660.1 76.1,660.1 86.1,660.1 96.1,659.1 100,658.8 105,658 106.1,657.9 113,657.2 116.1,657.2 120,657.2 126.1,657.7 136.1,658.5 140,658.8 146.1,659.2 156.1,660 166.1,660.7 176.1,661.4 186.1,662.1 196.1,662.8 200,663.1 206.1,663.9 216.1,665.3 226.1,666.6 236.1,668 246.1,669.4 250,669.9 256.1,670.8 266.1,672.4 276.1,673.9 286.1,675.5 296.1,677 300,677.6 306.2,678.5 316.2,679.9 326.2,681.4 336.2,682.8 346.2,684.3 350,684.8 356.2,685.7 366.2,687.2 376.2,688.7 386.2,690.2 396.2,691.7 400,692.3 406.2,693.2 416.2,694.6 426.2,696 436.2,697.4 440,698 446.2,698.6 450,698.9 456.2,699.3 465,699.9 466.2,700 476.2,700.3 480,700.5 486.2,701.2 490,701.7 496.2,702.7 506.2,704.4 516.2,704.4 526.2,704.4" fill="url(#h5_10)" filter="url(#f5_10)"/>
<polygon points="526.2,603 66.1,603 66.1,657.1 76.1,657.1 86.1,657.1 96.1,656.1 100,655.8 105,655 106.1,654.9 113,654.2 116.1,654.2 120,654.2 126.1,654.7 136.1,655.5 140,655.8 146.1,656.2 156.1,657 166.1,657.7 176.1,658.4 186.1,659.1 196.1,659.8 200,660.1 206.1,660.9 216.1,662.3 226.1,663.6 236.1,665 246.1,666.4 250,666.9 256.1,667.8 266.1,669.4 276.1,670.9 286.1,672.5 296.1,674 300,674.6 306.2,675.5 316.2,676.9 326.2,678.4 336.2,679.8 346.2,681.3 350,681.8 356.2,682.7 366.2,684.2 376.2,685.7 386.2,687.2 396.2,688.7 400,689.3 406.2,690.2 416.2,691.6 426.2,693 436.2,694.4 440,695 446.2,695.6 450,695.9 456.2,696.3 465,696.9 466.2,697 476.2,697.3 480,697.5 486.2,698.2 490,698.7 496.2,699.7 506.2,701.4 516.2,701.4 526.2,701.4" fill="url(#h5_11)" filter="url(#f5_11)"/>
<polygon points="526.2,603 66.1,603 66.1,654.1 76.1,654.1 86.1,654.1 96.1,653.1 100,652.8 105,652 106.1,651.9 113,651.2 116.1,651.2 120,651.2 126.1,651.7 136.1,652.5 140,652.8 146.1,653.2 156.1,654 166.1,654.7 176.1,655.4 186.1,656.1 196.1,656.8 200,657.1 206.1,657.9 216.1,659.3 226.1,660.6 236.1,662 246.1,663.4 250,663.9 256.1,664.8 266.1,666.4 276.1,667.9 286.1,669.5 296.1,671 300,671.6 306.2,672.5 316.2,673.9 326.2,675.4 336.2,676.8 346.2,678.3 350,678.8 356.2,679.7 366.2,681.2 376.2,682.7 386.2,684.2 396.2,685.7 400,686.3 406.2,687.2 416.2,688.6 426.2,690 436.2,691.4 440,692 446.2,692.6 450,692.9 456.2,693.3 465,693.9 466.2,694 476.2,694.3 480,694.5 486.2,695.2 490,695.7 496.2,696.7 506.2,698.4 516.2,698.4 526.2,698.4" fill="#4a9bb9" filter="url(#f5_12)"/>
<polygon points="526.2,603 66.1,603 66.1,635.1 76.1,635.1 86.1,635.1 96.1,634.1 105,633.3 106.1,633.3 113,633 116.1,633.2 120,633.4 126.1,634.3 136.1,635.7 140,636.2 146.1,637 156.1,638.3 166.1,639.6 176.1,641 186.1,642.3 196.1,643.6 200,644.1 206.1,645.2 216.1,646.9 226.1,648.7 236.1,650.5 246.1,652.2 250,652.9 256.1,654.1 266.1,656 276.1,658 286.1,659.9 296.1,661.8 300,662.6 306.2,663.6 316.2,665.3 326.2,666.9 336.2,668.5 346.2,670.2 350,670.8 356.2,671.9 366.2,673.6 376.2,675.3 386.2,677 396.2,678.7 400,679.3 406.2,680.5 416.2,682.4 426.2,684.3 436.2,686.3 446.2,688.2 450,688.9 456.2,689.9 466.2,691.6 470,692.3 476.2,694 486.2,696.8 490,697.9 496.2,699 506.2,700.8 516.2,701 526.2,701.1" fill="#d5868f" filter="url(#f5_13)"/>
</g>
<g clip-path="url(#c6)">
<rect x="518.3" y="571.5" width="430.5" height="133.6" fill="url(#h6_12)"/>
<polygon points="963.8,546.5 503.3,546.5 503.3,688.8 513.3,688.4 523.3,688.1 533.3,688.1 543.3,688.1 545,688 551.2,688 553.4,688 556,688 563.4,687.9 570,687.8 573.4,687.8 583.4,687.7 593.4,687.6 600,687.6 603.4,687.5 613.4,687.5 623.4,687.4 633.4,687.4 643.5,687.4 653.5,687.4 663.5,687.4 673.5,687.4 683.5,687.5 690,687.5 693.5,687.6 703.5,688 713.5,688.4 723.5,688.8 733.5,689.2 743.6,689.7 753.6,690.1 760,690.4 763.6,690.5 773.6,690.8 780,691 783.6,690.8 793.6,690.5 803.6,690.2 813.6,689.9 823.6,689.8 833.7,689.7 843.7,689.7 853.7,689.8 855,689.8 863.7,689.9 873.7,690 883.7,690.3 893.7,690.6 903.7,690.9 913.7,691.3 923.8,691.8 933.8,692.4 943.8,693 944,693 953.8,693 963.8,693" fill="url(#h6_1)" filter="url(#f6_1)"/>
<polygon points="963.8,546.5 503.3,546.5 503.3,679.2 513.3,678.9 523.3,678.6 533.3,678.5 543.3,678.4 545,678.3 551.2,678.3 553.4,678.3 556,678.3 563.4,678.3 570,678.4 573.4,678.4 583.4,678.5 593.4,678.6 600,678.7 603.4,678.8 613.4,678.9 623.4,679.1 633.4,679.3 643.5,679.5 653.5,679.7 663.5,679.9 673.5,680.2 683.5,680.4 690,680.6 693.5,680.8 703.5,681.4 713.5,682 723.5,682.7 733.5,683.3 743.6,683.9 753.6,684.6 760,685 763.6,685.2 773.6,685.7 780,686 783.6,686 793.6,685.8 803.6,685.7 813.6,685.7 823.6,685.8 833.7,686 843.7,686.2 853.7,686.4 855,686.5 863.7,686.7 873.7,687.1 883.7,687.5 893.7,688 903.7,688.5 913.7,689.1 923.8,689.8 933.8,690.5 943.8,691.3 944,691.3 953.8,691.3 963.8,691.3" fill="url(#h6_2)" filter="url(#f6_2)"/>
<polygon points="963.8,546.5 503.3,546.5 503.3,669.7 513.3,669.4 523.3,669.2 533.3,668.9 543.3,668.7 545,668.6 551.2,668.5 553.4,668.5 556,668.6 563.4,668.8 570,668.9 573.4,669 583.4,669.3 593.4,669.6 600,669.9 603.4,670 613.4,670.4 623.4,670.8 633.4,671.2 643.5,671.6 653.5,672.1 663.5,672.5 673.5,673 683.5,673.4 690,673.7 693.5,674 703.5,674.8 713.5,675.7 723.5,676.5 733.5,677.3 743.6,678.2 753.6,679.1 760,679.6 763.6,679.9 773.6,680.6 780,681.1 783.6,681.1 793.6,681.2 803.6,681.3 813.6,681.5 823.6,681.8 833.7,682.2 843.7,682.6 853.7,683.1 855,683.2 863.7,683.6 873.7,684.2 883.7,684.8 893.7,685.4 903.7,686.1 913.7,686.9 923.8,687.8 933.8,688.7 943.8,689.7 944,689.6 953.8,689.6 963.8,689.6" fill="url(#h6_3)" filter="url(#f6_3)"/>
<polygon points="963.8,546.5 503.3,546.5 503.3,660.1 513.3,659.9 523.3,659.7 533.3,659.3 543.3,659 545,658.9 551.2,658.7 553.4,658.8 556,658.8 563.4,659.2 570,659.5 573.4,659.7 583.4,660.2 593.4,660.7 600,661 603.4,661.2 613.4,661.8 623.4,662.5 633.4,663.1 643.5,663.7 653.5,664.4 663.5,665.1 673.5,665.7 683.5,666.4 690,666.9 693.5,667.2 703.5,668.3 713.5,669.3 723.5,670.3 733.5,671.4 743.6,672.5 753.6,673.5 760,674.2 763.6,674.6 773.6,675.5 780,676.1 783.6,676.2 793.6,676.5 803.6,676.9 813.6,677.4 823.6,677.9 833.7,678.5 843.7,679.1 853.7,679.8 855,679.9 863.7,680.5 873.7,681.2 883.7,682 893.7,682.9 903.7,683.8 913.7,684.7 923.8,685.8 933.8,686.8 943.8,688 944,688 953.8,688 963.8,688" fill="url(#h6_4)" filter="url(#f6_4)"/>
<polygon points="963.8,546.5 503.3,546.5 503.3,650.6 513.3,650.4 523.3,650.2 533.3,649.8 543.3,649.3 545,649.2 551.2,649 553.4,649 556,649.1 563.4,649.6 570,650.1 573.4,650.3 583.4,651 593.4,651.7 600,652.1 603.4,652.4 613.4,653.3 623.4,654.1 633.4,655 643.5,655.9 653.5,656.7 663.5,657.6 673.5,658.5 683.5,659.4 690,660 693.5,660.4 703.5,661.7 713.5,662.9 723.5,664.2 733.5,665.4 743.6,666.7 753.6,668 760,668.8 763.6,669.2 773.6,670.4 780,671.1 783.6,671.3 793.6,671.9 803.6,672.5 813.6,673.2 823.6,673.9 833.7,674.7 843.7,675.6 853.7,676.5 855,676.6 863.7,677.4 873.7,678.3 883.7,679.3 893.7,680.3 903.7,681.4 913.7,682.5 923.8,683.7 933.8,685 943.8,686.3 944,686.3 953.8,686.3 963.8,686.3" fill="url(#h6_5)" filter="url(#f6_5)"/>
<polygon points="963.8,546.5 503.3,546.5 503.3,641.1 513.3,640.9 523.3,640.8 533.3,640.2 543.3,639.6 545,639.5 551.2,639.2 553.4,639.3 556,639.4 563.4,640.1 570,640.6 573.4,640.9 583.4,641.8 593.4,642.7 600,643.3 603.4,643.7 613.4,644.7 623.4,645.8 633.4,646.9 643.5,648 653.5,649.1 663.5,650.2 673.5,651.3 683.5,652.4 690,653.1 693.5,653.6 703.5,655.1 713.5,656.5 723.5,658 733.5,659.5 743.6,661 753.6,662.5 760,663.4 763.6,663.9 773.6,665.3 780,666.2 783.6,666.4 793.6,667.2 803.6,668.1 813.6,669 823.6,669.9 833.7,671 843.7,672 853.7,673.2 855,673.3 863.7,674.2 873.7,675.4 883.7,676.5 893.7,677.7 903.7,679 913.7,680.3 923.8,681.7 933.8,683.1 943.8,684.6 944,684.6 953.8,684.6 963.8,684.6" fill="url(#h6_6)" filter="url(#f6_6)"/>
<polygon points="963.8,546.5 503.3,546.5 503.3,631.5 513.3,631.4 523.3,631.3 533.3,630.6 543.3,629.9 545,629.8 551.2,629.4 553.4,629.6 556,629.7 563.4,630.5 570,631.2 573.4,631.5 583.4,632.6 593.4,633.7 600,634.4 603.4,634.9 613.4,636.2 623.4,637.5 633.4,638.8 643.5,640.1 653.5,641.4 663.5,642.7 673.5,644.1 683.5,645.4 690,646.3 693.5,646.8 703.5,648.5 713.5,650.2 723.5,651.8 733.5,653.5 743.6,655.2 753.6,656.9 760,658 763.6,658.6 773.6,660.2 780,661.2 783.6,661.6 793.6,662.6 803.6,663.6 813.6,664.8 823.6,666 833.7,667.2 843.7,668.5 853.7,669.9 855,670 863.7,671.1 873.7,672.4 883.7,673.8 893.7,675.2 903.7,676.6 913.7,678.1 923.8,679.7 933.8,681.3 943.8,682.9 944,682.9 953.8,682.9 963.8,682.9" fill="url(#h6_7)" filter="url(#f6_7)"/>
<polygon points="963.8,546.5 503.3,546.5 503.3,622 513.3,621.9 523.3,621.8 533.3,621 543.3,620.2 545,620.1 551.2,619.7 553.4,619.8 556,620 563.4,620.9 570,621.7 573.4,622.2 583.4,623.5 593.4,624.7 600,625.6 603.4,626.1 613.4,627.6 623.4,629.1 633.4,630.7 643.5,632.2 650,633.2 653.5,633.8 663.5,635.3 673.5,636.8 683.5,638.4 690,639.4 693.5,640 700,641.3 703.5,641.9 713.5,643.8 723.5,645.7 733.5,647.6 743.6,649.5 753.6,651.4 760,652.6 763.6,653.3 773.6,655.1 780,656.2 783.6,656.7 793.6,657.9 803.6,659.2 813.6,660.6 820,661.5 823.6,662 833.7,663.5 843.7,665 853.7,666.5 855,666.7 860,667.5 863.7,668 873.7,669.5 880,670.4 883.7,671 893.7,672.6 900,673.6 903.7,674.2 912,675.6 913.7,675.9 923.8,677.6 933.8,679.4 943.8,681.2 944,681.2 953.8,681.2 960,681.2 963.8,681.2" fill="url(#h6_8)" filter="url(#f6_8)"/>
<polygon points="963.8,546.5 503.3,546.5 503.3,618.1 513.3,618.1 523.3,618.1 533.3,617.1 543.3,616.1 545,615.9 551.2,615.1 553.4,615.3 556,615.4 563.4,616.4 570,617.2 573.4,617.7 583.4,619 593.4,620.4 600,621.3 603.4,621.8 613.4,623.4 623.4,625 633.4,626.6 643.5,628.2 650,629.2 653.5,629.7 663.5,631.2 673.5,632.7 683.5,634.2 690,635.2 693.5,635.8 700,637 703.5,637.7 713.5,639.7 723.5,641.6 733.5,643.6 743.6,645.6 753.6,647.5 760,648.8 763.6,649.5 773.6,651.4 780,652.7 783.6,653.3 793.6,655 803.6,656.7 813.6,658.5 820,659.6 823.6,660.3 833.7,662.1 843.7,663.9 853.7,665.8 855,666 860,666.9 863.7,667.4 873.7,668.9 880,669.9 883.7,670.5 893.7,672 900,673 903.7,673.5 912,674.5 913.7,674.9 923.8,677 933.8,679.2 943.8,681.4 944,681.4 953.8,681.4 960,681.4 963.8,681.4" fill="url(#h6_9)" filter="url(#f6_9)"/>
<polygon points="963.8,546.5 503.3,546.5 503.3,614.2 513.3,614.3 523.3,614.5 533.3,613.2 543.3,611.9 545,611.7 551.2,610.6 553.4,610.7 556,610.8 563.4,611.8 570,612.7 573.4,613.2 583.4,614.6 593.4,616.1 600,617 603.4,617.6 613.4,619.2 623.4,620.8 633.4,622.5 643.5,624.2 650,625.2 653.5,625.7 663.5,627.2 673.5,628.6 683.5,630.1 690,631 693.5,631.6 700,632.8 703.5,633.5 713.5,635.5 723.5,637.6 733.5,639.6 743.6,641.7 753.6,643.7 760,645 763.6,645.7 773.6,647.8 780,649.1 783.6,649.9 793.6,652 803.6,654.2 813.6,656.4 820,657.7 823.6,658.5 833.7,660.7 843.7,662.9 853.7,665 855,665.3 860,666.3 863.7,666.8 873.7,668.4 880,669.3 883.7,669.9 893.7,671.4 900,672.4 903.7,672.7 912,673.4 913.7,673.9 923.8,676.4 933.8,679 943.8,681.5 953.8,681.5 960,681.5 963.8,681.5" fill="url(#h6_10)" filter="url(#f6_10)"/>
<polygon points="963.8,546.5 503.3,546.5 503.3,611.2 513.3,611.3 523.3,611.5 533.3,610.2 543.3,608.9 545,608.7 551.2,607.6 553.4,607.7 556,607.8 563.4,608.8 570,609.7 573.4,610.2 583.4,611.6 593.4,613.1 600,614 603.4,614.6 613.4,616.2 623.4,617.8 633.4,619.5 643.5,621.2 650,622.2 653.5,622.7 663.5,624.2 673.5,625.6 683.5,627.1 690,628 693.5,628.6 700,629.8 703.5,630.5 713.5,632.5 723.5,634.6 733.5,636.6 743.6,638.7 753.6,640.7 760,642 763.6,642.7 773.6,644.8 780,646.1 783.6,646.9 793.6,649 803.6,651.2 813.6,653.4 820,654.7 823.6,655.5 833.7,657.7 843.7,659.9 853.7,662 855,662.3 860,663.3 863.7,663.8 873.7,665.4 880,666.3 883.7,666.9 893.7,668.4 900,669.4 903.7,669.7 912,670.4 913.7,670.9 923.8,673.4 933.8,676 943.8,678.5 953.8,678.5 960,678.5 963.8,678.5" fill="url(#h6_11)" filter="url(#f6_11)"/>
<polygon points="963.8,546.5 503.3,546.5 503.3,608.2 513.3,608.3 523.3,608.5 533.3,607.2 543.3,605.9 545,605.7 551.2,604.6 553.4,604.7 556,604.8 563.4,605.8 570,606.7 573.4,607.2 583.4,608.6 593.4,610.1 600,611 603.4,611.6 613.4,613.2 623.4,614.8 633.4,616.5 643.5,618.2 650,619.2 653.5,619.7 663.5,621.2 673.5,622.6 683.5,624.1 690,625 693.5,625.6 700,626.8 703.5,627.5 713.5,629.5 723.5,631.6 733.5,633.6 743.6,635.7 753.6,637.7 760,639 763.6,639.7 773.6,641.8 780,643.1 783.6,643.9 793.6,646 803.6,648.2 813.6,650.4 820,651.7 823.6,652.5 833.7,654.7 843.7,656.9 853.7,659 855,659.3 860,660.3 863.7,660.8 873.7,662.4 880,663.3 883.7,663.9 893.7,665.4 900,666.4 903.7,666.7 912,667.4 913.7,667.9 923.8,670.4 933.8,673 943.8,675.5 953.8,675.5 960,675.5 963.8,675.5" fill="#4a9bb9" filter="url(#f6_12)"/>
<polygon points="963.8,546.5 503.3,546.5 503.3,580.2 513.3,580.2 523.3,580.2 533.3,578.8 543.3,577.4 545,577.2 551.2,576.5 553.4,576.7 556,577 563.4,578.5 570,579.8 573.4,580.5 583.4,582.6 593.4,584.6 600,586 603.4,586.8 613.4,589.3 623.4,591.7 633.4,594.2 643.5,596.6 653.5,599.1 663.5,601.5 673.5,604 683.5,606.4 690,608 693.5,609 703.5,611.8 713.5,614.5 723.5,617.3 733.5,620.1 743.6,622.9 753.6,625.7 760,627.5 763.6,628.5 773.6,631.3 783.6,634.1 793.6,636.9 803.6,639.7 813.6,642.5 823.6,645.2 833.7,648.1 843.7,650.8 853.7,653.6 855,654 863.7,656.2 873.7,658.7 883.7,661.3 893.7,663.8 900,665.4 903.7,666.6 913.7,669.8 923.8,673.1 933.8,676.3 943.8,679.5 944,679.5 953.8,679.5 960,679.5 963.8,679.5" fill="#d9b6bb" filter="url(#f6_13)"/>
</g>
<line x1="90.83" y1="50.80" x2="90.83" y2="54.10" stroke="#000" stroke-width="1.2"/>
<line x1="109.76" y1="50.80" x2="109.76" y2="54.10" stroke="#000" stroke-width="1.2"/>
<line x1="128.69" y1="50.80" x2="128.69" y2="54.10" stroke="#000" stroke-width="1.2"/>
<line x1="147.62" y1="50.80" x2="147.62" y2="56.20" stroke="#000" stroke-width="1.2"/>
<line x1="166.55" y1="50.80" x2="166.55" y2="54.10" stroke="#000" stroke-width="1.2"/>
<line x1="185.48" y1="50.80" x2="185.48" y2="54.10" stroke="#000" stroke-width="1.2"/>
<line x1="204.41" y1="50.80" x2="204.41" y2="54.10" stroke="#000" stroke-width="1.2"/>
<line x1="223.34" y1="50.80" x2="223.34" y2="56.20" stroke="#000" stroke-width="1.2"/>
<line x1="242.27" y1="50.80" x2="242.27" y2="54.10" stroke="#000" stroke-width="1.2"/>
<line x1="261.20" y1="50.80" x2="261.20" y2="54.10" stroke="#000" stroke-width="1.2"/>
<line x1="280.13" y1="50.80" x2="280.13" y2="54.10" stroke="#000" stroke-width="1.2"/>
<line x1="299.06" y1="50.80" x2="299.06" y2="56.20" stroke="#000" stroke-width="1.2"/>
<line x1="317.99" y1="50.80" x2="317.99" y2="54.10" stroke="#000" stroke-width="1.2"/>
<line x1="336.92" y1="50.80" x2="336.92" y2="54.10" stroke="#000" stroke-width="1.2"/>
<line x1="355.85" y1="50.80" x2="355.85" y2="54.10" stroke="#000" stroke-width="1.2"/>
<line x1="374.78" y1="50.80" x2="374.78" y2="56.20" stroke="#000" stroke-width="1.2"/>
<line x1="393.71" y1="50.80" x2="393.71" y2="54.10" stroke="#000" stroke-width="1.2"/>
<line x1="412.64" y1="50.80" x2="412.64" y2="54.10" stroke="#000" stroke-width="1.2"/>
<line x1="431.57" y1="50.80" x2="431.57" y2="54.10" stroke="#000" stroke-width="1.2"/>
<line x1="450.50" y1="50.80" x2="450.50" y2="56.20" stroke="#000" stroke-width="1.2"/>
<line x1="469.43" y1="50.80" x2="469.43" y2="54.10" stroke="#000" stroke-width="1.2"/>
<line x1="488.36" y1="50.80" x2="488.36" y2="54.10" stroke="#000" stroke-width="1.2"/>
<line x1="507.29" y1="50.80" x2="507.29" y2="54.10" stroke="#000" stroke-width="1.2"/>
<line x1="90.83" y1="267.30" x2="90.83" y2="273.90" stroke="#000" stroke-width="1.2"/>
<line x1="109.76" y1="267.30" x2="109.76" y2="273.90" stroke="#000" stroke-width="1.2"/>
<line x1="128.69" y1="267.30" x2="128.69" y2="273.90" stroke="#000" stroke-width="1.2"/>
<line x1="147.62" y1="265.20" x2="147.62" y2="276.00" stroke="#000" stroke-width="1.2"/>
<line x1="166.55" y1="267.30" x2="166.55" y2="273.90" stroke="#000" stroke-width="1.2"/>
<line x1="185.48" y1="267.30" x2="185.48" y2="273.90" stroke="#000" stroke-width="1.2"/>
<line x1="204.41" y1="267.30" x2="204.41" y2="273.90" stroke="#000" stroke-width="1.2"/>
<line x1="223.34" y1="265.20" x2="223.34" y2="276.00" stroke="#000" stroke-width="1.2"/>
<line x1="242.27" y1="267.30" x2="242.27" y2="273.90" stroke="#000" stroke-width="1.2"/>
<line x1="261.20" y1="267.30" x2="261.20" y2="273.90" stroke="#000" stroke-width="1.2"/>
<line x1="280.13" y1="267.30" x2="280.13" y2="273.90" stroke="#000" stroke-width="1.2"/>
<line x1="299.06" y1="265.20" x2="299.06" y2="276.00" stroke="#000" stroke-width="1.2"/>
<line x1="317.99" y1="267.30" x2="317.99" y2="273.90" stroke="#000" stroke-width="1.2"/>
<line x1="336.92" y1="267.30" x2="336.92" y2="273.90" stroke="#000" stroke-width="1.2"/>
<line x1="355.85" y1="267.30" x2="355.85" y2="273.90" stroke="#000" stroke-width="1.2"/>
<line x1="374.78" y1="265.20" x2="374.78" y2="276.00" stroke="#000" stroke-width="1.2"/>
<line x1="393.71" y1="267.30" x2="393.71" y2="273.90" stroke="#000" stroke-width="1.2"/>
<line x1="412.64" y1="267.30" x2="412.64" y2="273.90" stroke="#000" stroke-width="1.2"/>
<line x1="431.57" y1="267.30" x2="431.57" y2="273.90" stroke="#000" stroke-width="1.2"/>
<line x1="450.50" y1="265.20" x2="450.50" y2="276.00" stroke="#000" stroke-width="1.2"/>
<line x1="469.43" y1="267.30" x2="469.43" y2="273.90" stroke="#000" stroke-width="1.2"/>
<line x1="488.36" y1="267.30" x2="488.36" y2="273.90" stroke="#000" stroke-width="1.2"/>
<line x1="507.29" y1="267.30" x2="507.29" y2="273.90" stroke="#000" stroke-width="1.2"/>
<line x1="90.83" y1="486.30" x2="90.83" y2="492.90" stroke="#000" stroke-width="1.2"/>
<line x1="109.76" y1="486.30" x2="109.76" y2="492.90" stroke="#000" stroke-width="1.2"/>
<line x1="128.69" y1="486.30" x2="128.69" y2="492.90" stroke="#000" stroke-width="1.2"/>
<line x1="147.62" y1="484.20" x2="147.62" y2="495.00" stroke="#000" stroke-width="1.2"/>
<line x1="166.55" y1="486.30" x2="166.55" y2="492.90" stroke="#000" stroke-width="1.2"/>
<line x1="185.48" y1="486.30" x2="185.48" y2="492.90" stroke="#000" stroke-width="1.2"/>
<line x1="204.41" y1="486.30" x2="204.41" y2="492.90" stroke="#000" stroke-width="1.2"/>
<line x1="223.34" y1="484.20" x2="223.34" y2="495.00" stroke="#000" stroke-width="1.2"/>
<line x1="242.27" y1="486.30" x2="242.27" y2="492.90" stroke="#000" stroke-width="1.2"/>
<line x1="261.20" y1="486.30" x2="261.20" y2="492.90" stroke="#000" stroke-width="1.2"/>
<line x1="280.13" y1="486.30" x2="280.13" y2="492.90" stroke="#000" stroke-width="1.2"/>
<line x1="299.06" y1="484.20" x2="299.06" y2="495.00" stroke="#000" stroke-width="1.2"/>
<line x1="317.99" y1="486.30" x2="317.99" y2="492.90" stroke="#000" stroke-width="1.2"/>
<line x1="336.92" y1="486.30" x2="336.92" y2="492.90" stroke="#000" stroke-width="1.2"/>
<line x1="355.85" y1="486.30" x2="355.85" y2="492.90" stroke="#000" stroke-width="1.2"/>
<line x1="374.78" y1="484.20" x2="374.78" y2="495.00" stroke="#000" stroke-width="1.2"/>
<line x1="393.71" y1="486.30" x2="393.71" y2="492.90" stroke="#000" stroke-width="1.2"/>
<line x1="412.64" y1="486.30" x2="412.64" y2="492.90" stroke="#000" stroke-width="1.2"/>
<line x1="431.57" y1="486.30" x2="431.57" y2="492.90" stroke="#000" stroke-width="1.2"/>
<line x1="450.50" y1="484.20" x2="450.50" y2="495.00" stroke="#000" stroke-width="1.2"/>
<line x1="469.43" y1="486.30" x2="469.43" y2="492.90" stroke="#000" stroke-width="1.2"/>
<line x1="488.36" y1="486.30" x2="488.36" y2="492.90" stroke="#000" stroke-width="1.2"/>
<line x1="507.29" y1="486.30" x2="507.29" y2="492.90" stroke="#000" stroke-width="1.2"/>
<line x1="90.83" y1="704.50" x2="90.83" y2="707.80" stroke="#000" stroke-width="1.2"/>
<line x1="109.76" y1="704.50" x2="109.76" y2="707.80" stroke="#000" stroke-width="1.2"/>
<line x1="128.69" y1="704.50" x2="128.69" y2="707.80" stroke="#000" stroke-width="1.2"/>
<line x1="147.62" y1="702.40" x2="147.62" y2="707.80" stroke="#000" stroke-width="1.2"/>
<line x1="166.55" y1="704.50" x2="166.55" y2="707.80" stroke="#000" stroke-width="1.2"/>
<line x1="185.48" y1="704.50" x2="185.48" y2="707.80" stroke="#000" stroke-width="1.2"/>
<line x1="204.41" y1="704.50" x2="204.41" y2="707.80" stroke="#000" stroke-width="1.2"/>
<line x1="223.34" y1="702.40" x2="223.34" y2="707.80" stroke="#000" stroke-width="1.2"/>
<line x1="242.27" y1="704.50" x2="242.27" y2="707.80" stroke="#000" stroke-width="1.2"/>
<line x1="261.20" y1="704.50" x2="261.20" y2="707.80" stroke="#000" stroke-width="1.2"/>
<line x1="280.13" y1="704.50" x2="280.13" y2="707.80" stroke="#000" stroke-width="1.2"/>
<line x1="299.06" y1="702.40" x2="299.06" y2="707.80" stroke="#000" stroke-width="1.2"/>
<line x1="317.99" y1="704.50" x2="317.99" y2="707.80" stroke="#000" stroke-width="1.2"/>
<line x1="336.92" y1="704.50" x2="336.92" y2="707.80" stroke="#000" stroke-width="1.2"/>
<line x1="355.85" y1="704.50" x2="355.85" y2="707.80" stroke="#000" stroke-width="1.2"/>
<line x1="374.78" y1="702.40" x2="374.78" y2="707.80" stroke="#000" stroke-width="1.2"/>
<line x1="393.71" y1="704.50" x2="393.71" y2="707.80" stroke="#000" stroke-width="1.2"/>
<line x1="412.64" y1="704.50" x2="412.64" y2="707.80" stroke="#000" stroke-width="1.2"/>
<line x1="431.57" y1="704.50" x2="431.57" y2="707.80" stroke="#000" stroke-width="1.2"/>
<line x1="450.50" y1="702.40" x2="450.50" y2="707.80" stroke="#000" stroke-width="1.2"/>
<line x1="469.43" y1="704.50" x2="469.43" y2="707.80" stroke="#000" stroke-width="1.2"/>
<line x1="488.36" y1="704.50" x2="488.36" y2="707.80" stroke="#000" stroke-width="1.2"/>
<line x1="507.29" y1="704.50" x2="507.29" y2="707.80" stroke="#000" stroke-width="1.2"/>
<line x1="527.21" y1="50.80" x2="527.21" y2="54.10" stroke="#000" stroke-width="1.2"/>
<line x1="546.22" y1="50.80" x2="546.22" y2="54.10" stroke="#000" stroke-width="1.2"/>
<line x1="565.23" y1="50.80" x2="565.23" y2="54.10" stroke="#000" stroke-width="1.2"/>
<line x1="584.24" y1="50.80" x2="584.24" y2="56.20" stroke="#000" stroke-width="1.2"/>
<line x1="603.25" y1="50.80" x2="603.25" y2="54.10" stroke="#000" stroke-width="1.2"/>
<line x1="622.26" y1="50.80" x2="622.26" y2="54.10" stroke="#000" stroke-width="1.2"/>
<line x1="641.27" y1="50.80" x2="641.27" y2="54.10" stroke="#000" stroke-width="1.2"/>
<line x1="660.28" y1="50.80" x2="660.28" y2="56.20" stroke="#000" stroke-width="1.2"/>
<line x1="679.29" y1="50.80" x2="679.29" y2="54.10" stroke="#000" stroke-width="1.2"/>
<line x1="698.30" y1="50.80" x2="698.30" y2="54.10" stroke="#000" stroke-width="1.2"/>
<line x1="717.31" y1="50.80" x2="717.31" y2="54.10" stroke="#000" stroke-width="1.2"/>
<line x1="736.32" y1="50.80" x2="736.32" y2="56.20" stroke="#000" stroke-width="1.2"/>
<line x1="755.33" y1="50.80" x2="755.33" y2="54.10" stroke="#000" stroke-width="1.2"/>
<line x1="774.34" y1="50.80" x2="774.34" y2="54.10" stroke="#000" stroke-width="1.2"/>
<line x1="793.35" y1="50.80" x2="793.35" y2="54.10" stroke="#000" stroke-width="1.2"/>
<line x1="812.36" y1="50.80" x2="812.36" y2="56.20" stroke="#000" stroke-width="1.2"/>
<line x1="831.37" y1="50.80" x2="831.37" y2="54.10" stroke="#000" stroke-width="1.2"/>
<line x1="850.38" y1="50.80" x2="850.38" y2="54.10" stroke="#000" stroke-width="1.2"/>
<line x1="869.39" y1="50.80" x2="869.39" y2="54.10" stroke="#000" stroke-width="1.2"/>
<line x1="888.40" y1="50.80" x2="888.40" y2="56.20" stroke="#000" stroke-width="1.2"/>
<line x1="907.41" y1="50.80" x2="907.41" y2="54.10" stroke="#000" stroke-width="1.2"/>
<line x1="926.42" y1="50.80" x2="926.42" y2="54.10" stroke="#000" stroke-width="1.2"/>
<line x1="945.43" y1="50.80" x2="945.43" y2="54.10" stroke="#000" stroke-width="1.2"/>
<line x1="527.21" y1="267.30" x2="527.21" y2="273.90" stroke="#000" stroke-width="1.2"/>
<line x1="546.22" y1="267.30" x2="546.22" y2="273.90" stroke="#000" stroke-width="1.2"/>
<line x1="565.23" y1="267.30" x2="565.23" y2="273.90" stroke="#000" stroke-width="1.2"/>
<line x1="584.24" y1="265.20" x2="584.24" y2="276.00" stroke="#000" stroke-width="1.2"/>
<line x1="603.25" y1="267.30" x2="603.25" y2="273.90" stroke="#000" stroke-width="1.2"/>
<line x1="622.26" y1="267.30" x2="622.26" y2="273.90" stroke="#000" stroke-width="1.2"/>
<line x1="641.27" y1="267.30" x2="641.27" y2="273.90" stroke="#000" stroke-width="1.2"/>
<line x1="660.28" y1="265.20" x2="660.28" y2="276.00" stroke="#000" stroke-width="1.2"/>
<line x1="679.29" y1="267.30" x2="679.29" y2="273.90" stroke="#000" stroke-width="1.2"/>
<line x1="698.30" y1="267.30" x2="698.30" y2="273.90" stroke="#000" stroke-width="1.2"/>
<line x1="717.31" y1="267.30" x2="717.31" y2="273.90" stroke="#000" stroke-width="1.2"/>
<line x1="736.32" y1="265.20" x2="736.32" y2="276.00" stroke="#000" stroke-width="1.2"/>
<line x1="755.33" y1="267.30" x2="755.33" y2="273.90" stroke="#000" stroke-width="1.2"/>
<line x1="774.34" y1="267.30" x2="774.34" y2="273.90" stroke="#000" stroke-width="1.2"/>
<line x1="793.35" y1="267.30" x2="793.35" y2="273.90" stroke="#000" stroke-width="1.2"/>
<line x1="812.36" y1="265.20" x2="812.36" y2="276.00" stroke="#000" stroke-width="1.2"/>
<line x1="831.37" y1="267.30" x2="831.37" y2="273.90" stroke="#000" stroke-width="1.2"/>
<line x1="850.38" y1="267.30" x2="850.38" y2="273.90" stroke="#000" stroke-width="1.2"/>
<line x1="869.39" y1="267.30" x2="869.39" y2="273.90" stroke="#000" stroke-width="1.2"/>
<line x1="888.40" y1="265.20" x2="888.40" y2="276.00" stroke="#000" stroke-width="1.2"/>
<line x1="907.41" y1="267.30" x2="907.41" y2="273.90" stroke="#000" stroke-width="1.2"/>
<line x1="926.42" y1="267.30" x2="926.42" y2="273.90" stroke="#000" stroke-width="1.2"/>
<line x1="945.43" y1="267.30" x2="945.43" y2="273.90" stroke="#000" stroke-width="1.2"/>
<line x1="527.21" y1="486.30" x2="527.21" y2="492.90" stroke="#000" stroke-width="1.2"/>
<line x1="546.22" y1="486.30" x2="546.22" y2="492.90" stroke="#000" stroke-width="1.2"/>
<line x1="565.23" y1="486.30" x2="565.23" y2="492.90" stroke="#000" stroke-width="1.2"/>
<line x1="584.24" y1="484.20" x2="584.24" y2="495.00" stroke="#000" stroke-width="1.2"/>
<line x1="603.25" y1="486.30" x2="603.25" y2="492.90" stroke="#000" stroke-width="1.2"/>
<line x1="622.26" y1="486.30" x2="622.26" y2="492.90" stroke="#000" stroke-width="1.2"/>
<line x1="641.27" y1="486.30" x2="641.27" y2="492.90" stroke="#000" stroke-width="1.2"/>
<line x1="660.28" y1="484.20" x2="660.28" y2="495.00" stroke="#000" stroke-width="1.2"/>
<line x1="679.29" y1="486.30" x2="679.29" y2="492.90" stroke="#000" stroke-width="1.2"/>
<line x1="698.30" y1="486.30" x2="698.30" y2="492.90" stroke="#000" stroke-width="1.2"/>
<line x1="717.31" y1="486.30" x2="717.31" y2="492.90" stroke="#000" stroke-width="1.2"/>
<line x1="736.32" y1="484.20" x2="736.32" y2="495.00" stroke="#000" stroke-width="1.2"/>
<line x1="755.33" y1="486.30" x2="755.33" y2="492.90" stroke="#000" stroke-width="1.2"/>
<line x1="774.34" y1="486.30" x2="774.34" y2="492.90" stroke="#000" stroke-width="1.2"/>
<line x1="793.35" y1="486.30" x2="793.35" y2="492.90" stroke="#000" stroke-width="1.2"/>
<line x1="812.36" y1="484.20" x2="812.36" y2="495.00" stroke="#000" stroke-width="1.2"/>
<line x1="831.37" y1="486.30" x2="831.37" y2="492.90" stroke="#000" stroke-width="1.2"/>
<line x1="850.38" y1="486.30" x2="850.38" y2="492.90" stroke="#000" stroke-width="1.2"/>
<line x1="869.39" y1="486.30" x2="869.39" y2="492.90" stroke="#000" stroke-width="1.2"/>
<line x1="888.40" y1="484.20" x2="888.40" y2="495.00" stroke="#000" stroke-width="1.2"/>
<line x1="907.41" y1="486.30" x2="907.41" y2="492.90" stroke="#000" stroke-width="1.2"/>
<line x1="926.42" y1="486.30" x2="926.42" y2="492.90" stroke="#000" stroke-width="1.2"/>
<line x1="945.43" y1="486.30" x2="945.43" y2="492.90" stroke="#000" stroke-width="1.2"/>
<line x1="527.21" y1="704.50" x2="527.21" y2="707.80" stroke="#000" stroke-width="1.2"/>
<line x1="546.22" y1="704.50" x2="546.22" y2="707.80" stroke="#000" stroke-width="1.2"/>
<line x1="565.23" y1="704.50" x2="565.23" y2="707.80" stroke="#000" stroke-width="1.2"/>
<line x1="584.24" y1="702.40" x2="584.24" y2="707.80" stroke="#000" stroke-width="1.2"/>
<line x1="603.25" y1="704.50" x2="603.25" y2="707.80" stroke="#000" stroke-width="1.2"/>
<line x1="622.26" y1="704.50" x2="622.26" y2="707.80" stroke="#000" stroke-width="1.2"/>
<line x1="641.27" y1="704.50" x2="641.27" y2="707.80" stroke="#000" stroke-width="1.2"/>
<line x1="660.28" y1="702.40" x2="660.28" y2="707.80" stroke="#000" stroke-width="1.2"/>
<line x1="679.29" y1="704.50" x2="679.29" y2="707.80" stroke="#000" stroke-width="1.2"/>
<line x1="698.30" y1="704.50" x2="698.30" y2="707.80" stroke="#000" stroke-width="1.2"/>
<line x1="717.31" y1="704.50" x2="717.31" y2="707.80" stroke="#000" stroke-width="1.2"/>
<line x1="736.32" y1="702.40" x2="736.32" y2="707.80" stroke="#000" stroke-width="1.2"/>
<line x1="755.33" y1="704.50" x2="755.33" y2="707.80" stroke="#000" stroke-width="1.2"/>
<line x1="774.34" y1="704.50" x2="774.34" y2="707.80" stroke="#000" stroke-width="1.2"/>
<line x1="793.35" y1="704.50" x2="793.35" y2="707.80" stroke="#000" stroke-width="1.2"/>
<line x1="812.36" y1="702.40" x2="812.36" y2="707.80" stroke="#000" stroke-width="1.2"/>
<line x1="831.37" y1="704.50" x2="831.37" y2="707.80" stroke="#000" stroke-width="1.2"/>
<line x1="850.38" y1="704.50" x2="850.38" y2="707.80" stroke="#000" stroke-width="1.2"/>
<line x1="869.39" y1="704.50" x2="869.39" y2="707.80" stroke="#000" stroke-width="1.2"/>
<line x1="888.40" y1="702.40" x2="888.40" y2="707.80" stroke="#000" stroke-width="1.2"/>
<line x1="907.41" y1="704.50" x2="907.41" y2="707.80" stroke="#000" stroke-width="1.2"/>
<line x1="926.42" y1="704.50" x2="926.42" y2="707.80" stroke="#000" stroke-width="1.2"/>
<line x1="945.43" y1="704.50" x2="945.43" y2="707.80" stroke="#000" stroke-width="1.2"/>
<line x1="79.00" y1="270.05" x2="80.90" y2="270.05" stroke="#000" stroke-width="1.2"/>
<line x1="79.00" y1="261.30" x2="82.90" y2="261.30" stroke="#000" stroke-width="1.2"/>
<line x1="79.00" y1="252.55" x2="80.90" y2="252.55" stroke="#000" stroke-width="1.2"/>
<line x1="79.00" y1="243.80" x2="80.90" y2="243.80" stroke="#000" stroke-width="1.2"/>
<line x1="79.00" y1="235.05" x2="80.90" y2="235.05" stroke="#000" stroke-width="1.2"/>
<line x1="79.00" y1="226.30" x2="80.90" y2="226.30" stroke="#000" stroke-width="1.2"/>
<line x1="79.00" y1="217.55" x2="82.90" y2="217.55" stroke="#000" stroke-width="1.2"/>
<line x1="79.00" y1="208.80" x2="80.90" y2="208.80" stroke="#000" stroke-width="1.2"/>
<line x1="79.00" y1="200.05" x2="80.90" y2="200.05" stroke="#000" stroke-width="1.2"/>
<line x1="79.00" y1="191.30" x2="80.90" y2="191.30" stroke="#000" stroke-width="1.2"/>
<line x1="79.00" y1="182.55" x2="80.90" y2="182.55" stroke="#000" stroke-width="1.2"/>
<line x1="79.00" y1="173.80" x2="82.90" y2="173.80" stroke="#000" stroke-width="1.2"/>
<line x1="79.00" y1="165.05" x2="80.90" y2="165.05" stroke="#000" stroke-width="1.2"/>
<line x1="79.00" y1="156.30" x2="80.90" y2="156.30" stroke="#000" stroke-width="1.2"/>
<line x1="79.00" y1="147.55" x2="80.90" y2="147.55" stroke="#000" stroke-width="1.2"/>
<line x1="79.00" y1="138.80" x2="80.90" y2="138.80" stroke="#000" stroke-width="1.2"/>
<line x1="79.00" y1="130.05" x2="82.90" y2="130.05" stroke="#000" stroke-width="1.2"/>
<line x1="79.00" y1="121.30" x2="80.90" y2="121.30" stroke="#000" stroke-width="1.2"/>
<line x1="79.00" y1="112.55" x2="80.90" y2="112.55" stroke="#000" stroke-width="1.2"/>
<line x1="79.00" y1="103.80" x2="80.90" y2="103.80" stroke="#000" stroke-width="1.2"/>
<line x1="79.00" y1="95.05" x2="80.90" y2="95.05" stroke="#000" stroke-width="1.2"/>
<line x1="79.00" y1="86.30" x2="82.90" y2="86.30" stroke="#000" stroke-width="1.2"/>
<line x1="79.00" y1="77.55" x2="80.90" y2="77.55" stroke="#000" stroke-width="1.2"/>
<line x1="79.00" y1="68.80" x2="80.90" y2="68.80" stroke="#000" stroke-width="1.2"/>
<line x1="79.00" y1="60.05" x2="80.90" y2="60.05" stroke="#000" stroke-width="1.2"/>
<line x1="511.70" y1="270.05" x2="517.30" y2="270.05" stroke="#000" stroke-width="1.2"/>
<line x1="509.50" y1="261.30" x2="519.50" y2="261.30" stroke="#000" stroke-width="1.2"/>
<line x1="511.70" y1="252.55" x2="517.30" y2="252.55" stroke="#000" stroke-width="1.2"/>
<line x1="511.70" y1="243.80" x2="517.30" y2="243.80" stroke="#000" stroke-width="1.2"/>
<line x1="511.70" y1="235.05" x2="517.30" y2="235.05" stroke="#000" stroke-width="1.2"/>
<line x1="511.70" y1="226.30" x2="517.30" y2="226.30" stroke="#000" stroke-width="1.2"/>
<line x1="509.50" y1="217.55" x2="519.50" y2="217.55" stroke="#000" stroke-width="1.2"/>
<line x1="511.70" y1="208.80" x2="517.30" y2="208.80" stroke="#000" stroke-width="1.2"/>
<line x1="511.70" y1="200.05" x2="517.30" y2="200.05" stroke="#000" stroke-width="1.2"/>
<line x1="511.70" y1="191.30" x2="517.30" y2="191.30" stroke="#000" stroke-width="1.2"/>
<line x1="511.70" y1="182.55" x2="517.30" y2="182.55" stroke="#000" stroke-width="1.2"/>
<line x1="509.50" y1="173.80" x2="519.50" y2="173.80" stroke="#000" stroke-width="1.2"/>
<line x1="511.70" y1="165.05" x2="517.30" y2="165.05" stroke="#000" stroke-width="1.2"/>
<line x1="511.70" y1="156.30" x2="517.30" y2="156.30" stroke="#000" stroke-width="1.2"/>
<line x1="511.70" y1="147.55" x2="517.30" y2="147.55" stroke="#000" stroke-width="1.2"/>
<line x1="511.70" y1="138.80" x2="517.30" y2="138.80" stroke="#000" stroke-width="1.2"/>
<line x1="509.50" y1="130.05" x2="519.50" y2="130.05" stroke="#000" stroke-width="1.2"/>
<line x1="511.70" y1="121.30" x2="517.30" y2="121.30" stroke="#000" stroke-width="1.2"/>
<line x1="511.70" y1="112.55" x2="517.30" y2="112.55" stroke="#000" stroke-width="1.2"/>
<line x1="511.70" y1="103.80" x2="517.30" y2="103.80" stroke="#000" stroke-width="1.2"/>
<line x1="511.70" y1="95.05" x2="517.30" y2="95.05" stroke="#000" stroke-width="1.2"/>
<line x1="509.50" y1="86.30" x2="519.50" y2="86.30" stroke="#000" stroke-width="1.2"/>
<line x1="511.70" y1="77.55" x2="517.30" y2="77.55" stroke="#000" stroke-width="1.2"/>
<line x1="511.70" y1="68.80" x2="517.30" y2="68.80" stroke="#000" stroke-width="1.2"/>
<line x1="511.70" y1="60.05" x2="517.30" y2="60.05" stroke="#000" stroke-width="1.2"/>
<line x1="948.20" y1="270.05" x2="949.20" y2="270.05" stroke="#000" stroke-width="1.2"/>
<line x1="947.20" y1="261.30" x2="949.20" y2="261.30" stroke="#000" stroke-width="1.2"/>
<line x1="948.20" y1="252.55" x2="949.20" y2="252.55" stroke="#000" stroke-width="1.2"/>
<line x1="948.20" y1="243.80" x2="949.20" y2="243.80" stroke="#000" stroke-width="1.2"/>
<line x1="948.20" y1="235.05" x2="949.20" y2="235.05" stroke="#000" stroke-width="1.2"/>
<line x1="948.20" y1="226.30" x2="949.20" y2="226.30" stroke="#000" stroke-width="1.2"/>
<line x1="947.20" y1="217.55" x2="949.20" y2="217.55" stroke="#000" stroke-width="1.2"/>
<line x1="948.20" y1="208.80" x2="949.20" y2="208.80" stroke="#000" stroke-width="1.2"/>
<line x1="948.20" y1="200.05" x2="949.20" y2="200.05" stroke="#000" stroke-width="1.2"/>
<line x1="948.20" y1="191.30" x2="949.20" y2="191.30" stroke="#000" stroke-width="1.2"/>
<line x1="948.20" y1="182.55" x2="949.20" y2="182.55" stroke="#000" stroke-width="1.2"/>
<line x1="947.20" y1="173.80" x2="949.20" y2="173.80" stroke="#000" stroke-width="1.2"/>
<line x1="948.20" y1="165.05" x2="949.20" y2="165.05" stroke="#000" stroke-width="1.2"/>
<line x1="948.20" y1="156.30" x2="949.20" y2="156.30" stroke="#000" stroke-width="1.2"/>
<line x1="948.20" y1="147.55" x2="949.20" y2="147.55" stroke="#000" stroke-width="1.2"/>
<line x1="948.20" y1="138.80" x2="949.20" y2="138.80" stroke="#000" stroke-width="1.2"/>
<line x1="947.20" y1="130.05" x2="949.20" y2="130.05" stroke="#000" stroke-width="1.2"/>
<line x1="948.20" y1="121.30" x2="949.20" y2="121.30" stroke="#000" stroke-width="1.2"/>
<line x1="948.20" y1="112.55" x2="949.20" y2="112.55" stroke="#000" stroke-width="1.2"/>
<line x1="948.20" y1="103.80" x2="949.20" y2="103.80" stroke="#000" stroke-width="1.2"/>
<line x1="948.20" y1="95.05" x2="949.20" y2="95.05" stroke="#000" stroke-width="1.2"/>
<line x1="947.20" y1="86.30" x2="949.20" y2="86.30" stroke="#000" stroke-width="1.2"/>
<line x1="948.20" y1="77.55" x2="949.20" y2="77.55" stroke="#000" stroke-width="1.2"/>
<line x1="948.20" y1="68.80" x2="949.20" y2="68.80" stroke="#000" stroke-width="1.2"/>
<line x1="948.20" y1="60.05" x2="949.20" y2="60.05" stroke="#000" stroke-width="1.2"/>
<line x1="949.20" y1="270.05" x2="952.50" y2="270.05" stroke="#000" stroke-width="1.0"/>
<line x1="949.20" y1="261.30" x2="952.50" y2="261.30" stroke="#000" stroke-width="1.0"/>
<line x1="949.20" y1="252.55" x2="952.50" y2="252.55" stroke="#000" stroke-width="1.0"/>
<line x1="949.20" y1="243.80" x2="952.50" y2="243.80" stroke="#000" stroke-width="1.0"/>
<line x1="949.20" y1="235.05" x2="952.50" y2="235.05" stroke="#000" stroke-width="1.0"/>
<line x1="949.20" y1="226.30" x2="952.50" y2="226.30" stroke="#000" stroke-width="1.0"/>
<line x1="949.20" y1="217.55" x2="952.50" y2="217.55" stroke="#000" stroke-width="1.0"/>
<line x1="949.20" y1="208.80" x2="952.50" y2="208.80" stroke="#000" stroke-width="1.0"/>
<line x1="949.20" y1="200.05" x2="952.50" y2="200.05" stroke="#000" stroke-width="1.0"/>
<line x1="949.20" y1="191.30" x2="952.50" y2="191.30" stroke="#000" stroke-width="1.0"/>
<line x1="949.20" y1="182.55" x2="952.50" y2="182.55" stroke="#000" stroke-width="1.0"/>
<line x1="949.20" y1="173.80" x2="952.50" y2="173.80" stroke="#000" stroke-width="1.0"/>
<line x1="949.20" y1="165.05" x2="952.50" y2="165.05" stroke="#000" stroke-width="1.0"/>
<line x1="949.20" y1="156.30" x2="952.50" y2="156.30" stroke="#000" stroke-width="1.0"/>
<line x1="949.20" y1="147.55" x2="952.50" y2="147.55" stroke="#000" stroke-width="1.0"/>
<line x1="949.20" y1="138.80" x2="952.50" y2="138.80" stroke="#000" stroke-width="1.0"/>
<line x1="949.20" y1="130.05" x2="952.50" y2="130.05" stroke="#000" stroke-width="1.0"/>
<line x1="949.20" y1="121.30" x2="952.50" y2="121.30" stroke="#000" stroke-width="1.0"/>
<line x1="949.20" y1="112.55" x2="952.50" y2="112.55" stroke="#000" stroke-width="1.0"/>
<line x1="949.20" y1="103.80" x2="952.50" y2="103.80" stroke="#000" stroke-width="1.0"/>
<line x1="949.20" y1="95.05" x2="952.50" y2="95.05" stroke="#000" stroke-width="1.0"/>
<line x1="949.20" y1="86.30" x2="952.50" y2="86.30" stroke="#000" stroke-width="1.0"/>
<line x1="949.20" y1="77.55" x2="952.50" y2="77.55" stroke="#000" stroke-width="1.0"/>
<line x1="949.20" y1="68.80" x2="952.50" y2="68.80" stroke="#000" stroke-width="1.0"/>
<line x1="949.20" y1="60.05" x2="952.50" y2="60.05" stroke="#000" stroke-width="1.0"/>
<line x1="79.00" y1="480.80" x2="82.90" y2="480.80" stroke="#000" stroke-width="1.2"/>
<line x1="79.00" y1="472.05" x2="80.90" y2="472.05" stroke="#000" stroke-width="1.2"/>
<line x1="79.00" y1="463.30" x2="80.90" y2="463.30" stroke="#000" stroke-width="1.2"/>
<line x1="79.00" y1="454.55" x2="80.90" y2="454.55" stroke="#000" stroke-width="1.2"/>
<line x1="79.00" y1="445.80" x2="80.90" y2="445.80" stroke="#000" stroke-width="1.2"/>
<line x1="79.00" y1="437.05" x2="82.90" y2="437.05" stroke="#000" stroke-width="1.2"/>
<line x1="79.00" y1="428.30" x2="80.90" y2="428.30" stroke="#000" stroke-width="1.2"/>
<line x1="79.00" y1="419.55" x2="80.90" y2="419.55" stroke="#000" stroke-width="1.2"/>
<line x1="79.00" y1="410.80" x2="80.90" y2="410.80" stroke="#000" stroke-width="1.2"/>
<line x1="79.00" y1="402.05" x2="80.90" y2="402.05" stroke="#000" stroke-width="1.2"/>
<line x1="79.00" y1="393.30" x2="82.90" y2="393.30" stroke="#000" stroke-width="1.2"/>
<line x1="79.00" y1="384.55" x2="80.90" y2="384.55" stroke="#000" stroke-width="1.2"/>
<line x1="79.00" y1="375.80" x2="80.90" y2="375.80" stroke="#000" stroke-width="1.2"/>
<line x1="79.00" y1="367.05" x2="80.90" y2="367.05" stroke="#000" stroke-width="1.2"/>
<line x1="79.00" y1="358.30" x2="80.90" y2="358.30" stroke="#000" stroke-width="1.2"/>
<line x1="79.00" y1="349.55" x2="82.90" y2="349.55" stroke="#000" stroke-width="1.2"/>
<line x1="79.00" y1="340.80" x2="80.90" y2="340.80" stroke="#000" stroke-width="1.2"/>
<line x1="79.00" y1="332.05" x2="80.90" y2="332.05" stroke="#000" stroke-width="1.2"/>
<line x1="79.00" y1="323.30" x2="80.90" y2="323.30" stroke="#000" stroke-width="1.2"/>
<line x1="79.00" y1="314.55" x2="80.90" y2="314.55" stroke="#000" stroke-width="1.2"/>
<line x1="79.00" y1="305.80" x2="82.90" y2="305.80" stroke="#000" stroke-width="1.2"/>
<line x1="79.00" y1="297.05" x2="80.90" y2="297.05" stroke="#000" stroke-width="1.2"/>
<line x1="79.00" y1="288.30" x2="80.90" y2="288.30" stroke="#000" stroke-width="1.2"/>
<line x1="79.00" y1="279.55" x2="80.90" y2="279.55" stroke="#000" stroke-width="1.2"/>
<line x1="79.00" y1="270.80" x2="80.90" y2="270.80" stroke="#000" stroke-width="1.2"/>
<line x1="509.50" y1="480.80" x2="519.50" y2="480.80" stroke="#000" stroke-width="1.2"/>
<line x1="511.70" y1="472.05" x2="517.30" y2="472.05" stroke="#000" stroke-width="1.2"/>
<line x1="511.70" y1="463.30" x2="517.30" y2="463.30" stroke="#000" stroke-width="1.2"/>
<line x1="511.70" y1="454.55" x2="517.30" y2="454.55" stroke="#000" stroke-width="1.2"/>
<line x1="511.70" y1="445.80" x2="517.30" y2="445.80" stroke="#000" stroke-width="1.2"/>
<line x1="509.50" y1="437.05" x2="519.50" y2="437.05" stroke="#000" stroke-width="1.2"/>
<line x1="511.70" y1="428.30" x2="517.30" y2="428.30" stroke="#000" stroke-width="1.2"/>
<line x1="511.70" y1="419.55" x2="517.30" y2="419.55" stroke="#000" stroke-width="1.2"/>
<line x1="511.70" y1="410.80" x2="517.30" y2="410.80" stroke="#000" stroke-width="1.2"/>
<line x1="511.70" y1="402.05" x2="517.30" y2="402.05" stroke="#000" stroke-width="1.2"/>
<line x1="509.50" y1="393.30" x2="519.50" y2="393.30" stroke="#000" stroke-width="1.2"/>
<line x1="511.70" y1="384.55" x2="517.30" y2="384.55" stroke="#000" stroke-width="1.2"/>
<line x1="511.70" y1="375.80" x2="517.30" y2="375.80" stroke="#000" stroke-width="1.2"/>
<line x1="511.70" y1="367.05" x2="517.30" y2="367.05" stroke="#000" stroke-width="1.2"/>
<line x1="511.70" y1="358.30" x2="517.30" y2="358.30" stroke="#000" stroke-width="1.2"/>
<line x1="509.50" y1="349.55" x2="519.50" y2="349.55" stroke="#000" stroke-width="1.2"/>
<line x1="511.70" y1="340.80" x2="517.30" y2="340.80" stroke="#000" stroke-width="1.2"/>
<line x1="511.70" y1="332.05" x2="517.30" y2="332.05" stroke="#000" stroke-width="1.2"/>
<line x1="511.70" y1="323.30" x2="517.30" y2="323.30" stroke="#000" stroke-width="1.2"/>
<line x1="511.70" y1="314.55" x2="517.30" y2="314.55" stroke="#000" stroke-width="1.2"/>
<line x1="509.50" y1="305.80" x2="519.50" y2="305.80" stroke="#000" stroke-width="1.2"/>
<line x1="511.70" y1="297.05" x2="517.30" y2="297.05" stroke="#000" stroke-width="1.2"/>
<line x1="511.70" y1="288.30" x2="517.30" y2="288.30" stroke="#000" stroke-width="1.2"/>
<line x1="511.70" y1="279.55" x2="517.30" y2="279.55" stroke="#000" stroke-width="1.2"/>
<line x1="511.70" y1="270.80" x2="517.30" y2="270.80" stroke="#000" stroke-width="1.2"/>
<line x1="947.20" y1="480.80" x2="949.20" y2="480.80" stroke="#000" stroke-width="1.2"/>
<line x1="948.20" y1="472.05" x2="949.20" y2="472.05" stroke="#000" stroke-width="1.2"/>
<line x1="948.20" y1="463.30" x2="949.20" y2="463.30" stroke="#000" stroke-width="1.2"/>
<line x1="948.20" y1="454.55" x2="949.20" y2="454.55" stroke="#000" stroke-width="1.2"/>
<line x1="948.20" y1="445.80" x2="949.20" y2="445.80" stroke="#000" stroke-width="1.2"/>
<line x1="947.20" y1="437.05" x2="949.20" y2="437.05" stroke="#000" stroke-width="1.2"/>
<line x1="948.20" y1="428.30" x2="949.20" y2="428.30" stroke="#000" stroke-width="1.2"/>
<line x1="948.20" y1="419.55" x2="949.20" y2="419.55" stroke="#000" stroke-width="1.2"/>
<line x1="948.20" y1="410.80" x2="949.20" y2="410.80" stroke="#000" stroke-width="1.2"/>
<line x1="948.20" y1="402.05" x2="949.20" y2="402.05" stroke="#000" stroke-width="1.2"/>
<line x1="947.20" y1="393.30" x2="949.20" y2="393.30" stroke="#000" stroke-width="1.2"/>
<line x1="948.20" y1="384.55" x2="949.20" y2="384.55" stroke="#000" stroke-width="1.2"/>
<line x1="948.20" y1="375.80" x2="949.20" y2="375.80" stroke="#000" stroke-width="1.2"/>
<line x1="948.20" y1="367.05" x2="949.20" y2="367.05" stroke="#000" stroke-width="1.2"/>
<line x1="948.20" y1="358.30" x2="949.20" y2="358.30" stroke="#000" stroke-width="1.2"/>
<line x1="947.20" y1="349.55" x2="949.20" y2="349.55" stroke="#000" stroke-width="1.2"/>
<line x1="948.20" y1="340.80" x2="949.20" y2="340.80" stroke="#000" stroke-width="1.2"/>
<line x1="948.20" y1="332.05" x2="949.20" y2="332.05" stroke="#000" stroke-width="1.2"/>
<line x1="948.20" y1="323.30" x2="949.20" y2="323.30" stroke="#000" stroke-width="1.2"/>
<line x1="948.20" y1="314.55" x2="949.20" y2="314.55" stroke="#000" stroke-width="1.2"/>
<line x1="947.20" y1="305.80" x2="949.20" y2="305.80" stroke="#000" stroke-width="1.2"/>
<line x1="948.20" y1="297.05" x2="949.20" y2="297.05" stroke="#000" stroke-width="1.2"/>
<line x1="948.20" y1="288.30" x2="949.20" y2="288.30" stroke="#000" stroke-width="1.2"/>
<line x1="948.20" y1="279.55" x2="949.20" y2="279.55" stroke="#000" stroke-width="1.2"/>
<line x1="948.20" y1="270.80" x2="949.20" y2="270.80" stroke="#000" stroke-width="1.2"/>
<line x1="949.20" y1="480.80" x2="952.50" y2="480.80" stroke="#000" stroke-width="1.0"/>
<line x1="949.20" y1="472.05" x2="952.50" y2="472.05" stroke="#000" stroke-width="1.0"/>
<line x1="949.20" y1="463.30" x2="952.50" y2="463.30" stroke="#000" stroke-width="1.0"/>
<line x1="949.20" y1="454.55" x2="952.50" y2="454.55" stroke="#000" stroke-width="1.0"/>
<line x1="949.20" y1="445.80" x2="952.50" y2="445.80" stroke="#000" stroke-width="1.0"/>
<line x1="949.20" y1="437.05" x2="952.50" y2="437.05" stroke="#000" stroke-width="1.0"/>
<line x1="949.20" y1="428.30" x2="952.50" y2="428.30" stroke="#000" stroke-width="1.0"/>
<line x1="949.20" y1="419.55" x2="952.50" y2="419.55" stroke="#000" stroke-width="1.0"/>
<line x1="949.20" y1="410.80" x2="952.50" y2="410.80" stroke="#000" stroke-width="1.0"/>
<line x1="949.20" y1="402.05" x2="952.50" y2="402.05" stroke="#000" stroke-width="1.0"/>
<line x1="949.20" y1="393.30" x2="952.50" y2="393.30" stroke="#000" stroke-width="1.0"/>
<line x1="949.20" y1="384.55" x2="952.50" y2="384.55" stroke="#000" stroke-width="1.0"/>
<line x1="949.20" y1="375.80" x2="952.50" y2="375.80" stroke="#000" stroke-width="1.0"/>
<line x1="949.20" y1="367.05" x2="952.50" y2="367.05" stroke="#000" stroke-width="1.0"/>
<line x1="949.20" y1="358.30" x2="952.50" y2="358.30" stroke="#000" stroke-width="1.0"/>
<line x1="949.20" y1="349.55" x2="952.50" y2="349.55" stroke="#000" stroke-width="1.0"/>
<line x1="949.20" y1="340.80" x2="952.50" y2="340.80" stroke="#000" stroke-width="1.0"/>
<line x1="949.20" y1="332.05" x2="952.50" y2="332.05" stroke="#000" stroke-width="1.0"/>
<line x1="949.20" y1="323.30" x2="952.50" y2="323.30" stroke="#000" stroke-width="1.0"/>
<line x1="949.20" y1="314.55" x2="952.50" y2="314.55" stroke="#000" stroke-width="1.0"/>
<line x1="949.20" y1="305.80" x2="952.50" y2="305.80" stroke="#000" stroke-width="1.0"/>
<line x1="949.20" y1="297.05" x2="952.50" y2="297.05" stroke="#000" stroke-width="1.0"/>
<line x1="949.20" y1="288.30" x2="952.50" y2="288.30" stroke="#000" stroke-width="1.0"/>
<line x1="949.20" y1="279.55" x2="952.50" y2="279.55" stroke="#000" stroke-width="1.0"/>
<line x1="949.20" y1="270.80" x2="952.50" y2="270.80" stroke="#000" stroke-width="1.0"/>
<line x1="79.00" y1="700.10" x2="82.90" y2="700.10" stroke="#000" stroke-width="1.2"/>
<line x1="79.00" y1="691.35" x2="80.90" y2="691.35" stroke="#000" stroke-width="1.2"/>
<line x1="79.00" y1="682.60" x2="80.90" y2="682.60" stroke="#000" stroke-width="1.2"/>
<line x1="79.00" y1="673.85" x2="80.90" y2="673.85" stroke="#000" stroke-width="1.2"/>
<line x1="79.00" y1="665.10" x2="80.90" y2="665.10" stroke="#000" stroke-width="1.2"/>
<line x1="79.00" y1="656.35" x2="82.90" y2="656.35" stroke="#000" stroke-width="1.2"/>
<line x1="79.00" y1="647.60" x2="80.90" y2="647.60" stroke="#000" stroke-width="1.2"/>
<line x1="79.00" y1="638.85" x2="80.90" y2="638.85" stroke="#000" stroke-width="1.2"/>
<line x1="79.00" y1="630.10" x2="80.90" y2="630.10" stroke="#000" stroke-width="1.2"/>
<line x1="79.00" y1="621.35" x2="80.90" y2="621.35" stroke="#000" stroke-width="1.2"/>
<line x1="79.00" y1="612.60" x2="82.90" y2="612.60" stroke="#000" stroke-width="1.2"/>
<line x1="79.00" y1="603.85" x2="80.90" y2="603.85" stroke="#000" stroke-width="1.2"/>
<line x1="79.00" y1="595.10" x2="80.90" y2="595.10" stroke="#000" stroke-width="1.2"/>
<line x1="79.00" y1="586.35" x2="80.90" y2="586.35" stroke="#000" stroke-width="1.2"/>
<line x1="79.00" y1="577.60" x2="80.90" y2="577.60" stroke="#000" stroke-width="1.2"/>
<line x1="79.00" y1="568.85" x2="82.90" y2="568.85" stroke="#000" stroke-width="1.2"/>
<line x1="79.00" y1="560.10" x2="80.90" y2="560.10" stroke="#000" stroke-width="1.2"/>
<line x1="79.00" y1="551.35" x2="80.90" y2="551.35" stroke="#000" stroke-width="1.2"/>
<line x1="79.00" y1="542.60" x2="80.90" y2="542.60" stroke="#000" stroke-width="1.2"/>
<line x1="79.00" y1="533.85" x2="80.90" y2="533.85" stroke="#000" stroke-width="1.2"/>
<line x1="79.00" y1="525.10" x2="82.90" y2="525.10" stroke="#000" stroke-width="1.2"/>
<line x1="79.00" y1="516.35" x2="80.90" y2="516.35" stroke="#000" stroke-width="1.2"/>
<line x1="79.00" y1="507.60" x2="80.90" y2="507.60" stroke="#000" stroke-width="1.2"/>
<line x1="79.00" y1="498.85" x2="80.90" y2="498.85" stroke="#000" stroke-width="1.2"/>
<line x1="79.00" y1="490.10" x2="80.90" y2="490.10" stroke="#000" stroke-width="1.2"/>
<line x1="509.50" y1="700.10" x2="519.50" y2="700.10" stroke="#000" stroke-width="1.2"/>
<line x1="511.70" y1="691.35" x2="517.30" y2="691.35" stroke="#000" stroke-width="1.2"/>
<line x1="511.70" y1="682.60" x2="517.30" y2="682.60" stroke="#000" stroke-width="1.2"/>
<line x1="511.70" y1="673.85" x2="517.30" y2="673.85" stroke="#000" stroke-width="1.2"/>
<line x1="511.70" y1="665.10" x2="517.30" y2="665.10" stroke="#000" stroke-width="1.2"/>
<line x1="509.50" y1="656.35" x2="519.50" y2="656.35" stroke="#000" stroke-width="1.2"/>
<line x1="511.70" y1="647.60" x2="517.30" y2="647.60" stroke="#000" stroke-width="1.2"/>
<line x1="511.70" y1="638.85" x2="517.30" y2="638.85" stroke="#000" stroke-width="1.2"/>
<line x1="511.70" y1="630.10" x2="517.30" y2="630.10" stroke="#000" stroke-width="1.2"/>
<line x1="511.70" y1="621.35" x2="517.30" y2="621.35" stroke="#000" stroke-width="1.2"/>
<line x1="509.50" y1="612.60" x2="519.50" y2="612.60" stroke="#000" stroke-width="1.2"/>
<line x1="511.70" y1="603.85" x2="517.30" y2="603.85" stroke="#000" stroke-width="1.2"/>
<line x1="511.70" y1="595.10" x2="517.30" y2="595.10" stroke="#000" stroke-width="1.2"/>
<line x1="511.70" y1="586.35" x2="517.30" y2="586.35" stroke="#000" stroke-width="1.2"/>
<line x1="511.70" y1="577.60" x2="517.30" y2="577.60" stroke="#000" stroke-width="1.2"/>
<line x1="509.50" y1="568.85" x2="519.50" y2="568.85" stroke="#000" stroke-width="1.2"/>
<line x1="511.70" y1="560.10" x2="517.30" y2="560.10" stroke="#000" stroke-width="1.2"/>
<line x1="511.70" y1="551.35" x2="517.30" y2="551.35" stroke="#000" stroke-width="1.2"/>
<line x1="511.70" y1="542.60" x2="517.30" y2="542.60" stroke="#000" stroke-width="1.2"/>
<line x1="511.70" y1="533.85" x2="517.30" y2="533.85" stroke="#000" stroke-width="1.2"/>
<line x1="509.50" y1="525.10" x2="519.50" y2="525.10" stroke="#000" stroke-width="1.2"/>
<line x1="511.70" y1="516.35" x2="517.30" y2="516.35" stroke="#000" stroke-width="1.2"/>
<line x1="511.70" y1="507.60" x2="517.30" y2="507.60" stroke="#000" stroke-width="1.2"/>
<line x1="511.70" y1="498.85" x2="517.30" y2="498.85" stroke="#000" stroke-width="1.2"/>
<line x1="511.70" y1="490.10" x2="517.30" y2="490.10" stroke="#000" stroke-width="1.2"/>
<line x1="947.20" y1="700.10" x2="949.20" y2="700.10" stroke="#000" stroke-width="1.2"/>
<line x1="948.20" y1="691.35" x2="949.20" y2="691.35" stroke="#000" stroke-width="1.2"/>
<line x1="948.20" y1="682.60" x2="949.20" y2="682.60" stroke="#000" stroke-width="1.2"/>
<line x1="948.20" y1="673.85" x2="949.20" y2="673.85" stroke="#000" stroke-width="1.2"/>
<line x1="948.20" y1="665.10" x2="949.20" y2="665.10" stroke="#000" stroke-width="1.2"/>
<line x1="947.20" y1="656.35" x2="949.20" y2="656.35" stroke="#000" stroke-width="1.2"/>
<line x1="948.20" y1="647.60" x2="949.20" y2="647.60" stroke="#000" stroke-width="1.2"/>
<line x1="948.20" y1="638.85" x2="949.20" y2="638.85" stroke="#000" stroke-width="1.2"/>
<line x1="948.20" y1="630.10" x2="949.20" y2="630.10" stroke="#000" stroke-width="1.2"/>
<line x1="948.20" y1="621.35" x2="949.20" y2="621.35" stroke="#000" stroke-width="1.2"/>
<line x1="947.20" y1="612.60" x2="949.20" y2="612.60" stroke="#000" stroke-width="1.2"/>
<line x1="948.20" y1="603.85" x2="949.20" y2="603.85" stroke="#000" stroke-width="1.2"/>
<line x1="948.20" y1="595.10" x2="949.20" y2="595.10" stroke="#000" stroke-width="1.2"/>
<line x1="948.20" y1="586.35" x2="949.20" y2="586.35" stroke="#000" stroke-width="1.2"/>
<line x1="948.20" y1="577.60" x2="949.20" y2="577.60" stroke="#000" stroke-width="1.2"/>
<line x1="947.20" y1="568.85" x2="949.20" y2="568.85" stroke="#000" stroke-width="1.2"/>
<line x1="948.20" y1="560.10" x2="949.20" y2="560.10" stroke="#000" stroke-width="1.2"/>
<line x1="948.20" y1="551.35" x2="949.20" y2="551.35" stroke="#000" stroke-width="1.2"/>
<line x1="948.20" y1="542.60" x2="949.20" y2="542.60" stroke="#000" stroke-width="1.2"/>
<line x1="948.20" y1="533.85" x2="949.20" y2="533.85" stroke="#000" stroke-width="1.2"/>
<line x1="947.20" y1="525.10" x2="949.20" y2="525.10" stroke="#000" stroke-width="1.2"/>
<line x1="948.20" y1="516.35" x2="949.20" y2="516.35" stroke="#000" stroke-width="1.2"/>
<line x1="948.20" y1="507.60" x2="949.20" y2="507.60" stroke="#000" stroke-width="1.2"/>
<line x1="948.20" y1="498.85" x2="949.20" y2="498.85" stroke="#000" stroke-width="1.2"/>
<line x1="948.20" y1="490.10" x2="949.20" y2="490.10" stroke="#000" stroke-width="1.2"/>
<line x1="949.20" y1="700.10" x2="952.50" y2="700.10" stroke="#000" stroke-width="1.0"/>
<line x1="949.20" y1="691.35" x2="952.50" y2="691.35" stroke="#000" stroke-width="1.0"/>
<line x1="949.20" y1="682.60" x2="952.50" y2="682.60" stroke="#000" stroke-width="1.0"/>
<line x1="949.20" y1="673.85" x2="952.50" y2="673.85" stroke="#000" stroke-width="1.0"/>
<line x1="949.20" y1="665.10" x2="952.50" y2="665.10" stroke="#000" stroke-width="1.0"/>
<line x1="949.20" y1="656.35" x2="952.50" y2="656.35" stroke="#000" stroke-width="1.0"/>
<line x1="949.20" y1="647.60" x2="952.50" y2="647.60" stroke="#000" stroke-width="1.0"/>
<line x1="949.20" y1="638.85" x2="952.50" y2="638.85" stroke="#000" stroke-width="1.0"/>
<line x1="949.20" y1="630.10" x2="952.50" y2="630.10" stroke="#000" stroke-width="1.0"/>
<line x1="949.20" y1="621.35" x2="952.50" y2="621.35" stroke="#000" stroke-width="1.0"/>
<line x1="949.20" y1="612.60" x2="952.50" y2="612.60" stroke="#000" stroke-width="1.0"/>
<line x1="949.20" y1="603.85" x2="952.50" y2="603.85" stroke="#000" stroke-width="1.0"/>
<line x1="949.20" y1="595.10" x2="952.50" y2="595.10" stroke="#000" stroke-width="1.0"/>
<line x1="949.20" y1="586.35" x2="952.50" y2="586.35" stroke="#000" stroke-width="1.0"/>
<line x1="949.20" y1="577.60" x2="952.50" y2="577.60" stroke="#000" stroke-width="1.0"/>
<line x1="949.20" y1="568.85" x2="952.50" y2="568.85" stroke="#000" stroke-width="1.0"/>
<line x1="949.20" y1="560.10" x2="952.50" y2="560.10" stroke="#000" stroke-width="1.0"/>
<line x1="949.20" y1="551.35" x2="952.50" y2="551.35" stroke="#000" stroke-width="1.0"/>
<line x1="949.20" y1="542.60" x2="952.50" y2="542.60" stroke="#000" stroke-width="1.0"/>
<line x1="949.20" y1="533.85" x2="952.50" y2="533.85" stroke="#000" stroke-width="1.0"/>
<line x1="949.20" y1="525.10" x2="952.50" y2="525.10" stroke="#000" stroke-width="1.0"/>
<line x1="949.20" y1="516.35" x2="952.50" y2="516.35" stroke="#000" stroke-width="1.0"/>
<line x1="949.20" y1="507.60" x2="952.50" y2="507.60" stroke="#000" stroke-width="1.0"/>
<line x1="949.20" y1="498.85" x2="952.50" y2="498.85" stroke="#000" stroke-width="1.0"/>
<line x1="949.20" y1="490.10" x2="952.50" y2="490.10" stroke="#000" stroke-width="1.0"/>
<line x1="79.00" y1="49.40" x2="79.00" y2="709.00" stroke="#000" stroke-width="2.5"/>
<line x1="514.50" y1="50.80" x2="514.50" y2="707.80" stroke="#000" stroke-width="2.5"/>
<line x1="949.20" y1="49.40" x2="949.20" y2="709.00" stroke="#000" stroke-width="2.5"/>
<line x1="952.40" y1="51.80" x2="952.40" y2="707.80" stroke="#333" stroke-width="0.9"/>
<line x1="77.75" y1="50.80" x2="952.95" y2="50.80" stroke="#000" stroke-width="2.8"/>
<line x1="79.00" y1="270.60" x2="949.20" y2="270.60" stroke="#000" stroke-width="2.8"/>
<line x1="79.00" y1="489.60" x2="949.20" y2="489.60" stroke="#000" stroke-width="2.8"/>
<line x1="77.75" y1="707.80" x2="952.95" y2="707.80" stroke="#000" stroke-width="2.5"/>
<line x1="90" y1="43.6" x2="925" y2="43.6" stroke="#000" stroke-width="2.4"/>
<path d="M936.8,43.7 L921.3,37.9 L924,43.7 L921.3,49.5 Z" fill="#000"/>
<line x1="957.5" y1="59" x2="957.5" y2="686" stroke="#000" stroke-width="2.4"/>
<path d="M957.4,699 L951.3,682.5 L957.4,685.5 L963.5,682.5 Z" fill="#000"/>
<g transform="translate(149.35,743.4) scale(0.962,1)"><text x="-20.85" y="0" font-family="Liberation Sans" font-size="30">0.2</text></g>
<g transform="translate(223.70,743.4) scale(0.962,1)"><text x="-20.85" y="0" font-family="Liberation Sans" font-size="30">0.4</text></g>
<g transform="translate(299.60,743.4) scale(0.962,1)"><text x="-20.85" y="0" font-family="Liberation Sans" font-size="30">0.6</text></g>
<g transform="translate(374.90,743.4) scale(0.962,1)"><text x="-20.85" y="0" font-family="Liberation Sans" font-size="30">0.8</text></g>
<g transform="translate(449.80,743.4) scale(0.962,1)"><path d="M250,0 L341,0 L341,690 L279,690 C263,625 217,578 85,565 L85,500 L250,500 Z" transform="translate(-20.85,0) scale(0.0300,-0.0300)" stroke="#000" stroke-width="13.3" stroke-linejoin="round"/><text x="-4.17" y="0" font-family="Liberation Sans" font-size="30">.0</text></g>
<g transform="translate(583.60,743.4) scale(0.962,1)"><text x="-20.85" y="0" font-family="Liberation Sans" font-size="30">0.2</text></g>
<g transform="translate(658.10,743.4) scale(0.962,1)"><text x="-20.85" y="0" font-family="Liberation Sans" font-size="30">0.4</text></g>
<g transform="translate(733.80,743.4) scale(0.962,1)"><text x="-20.85" y="0" font-family="Liberation Sans" font-size="30">0.6</text></g>
<g transform="translate(809.30,743.4) scale(0.962,1)"><text x="-20.85" y="0" font-family="Liberation Sans" font-size="30">0.8</text></g>
<g transform="translate(885.10,743.4) scale(0.962,1)"><path d="M250,0 L341,0 L341,690 L279,690 C263,625 217,578 85,565 L85,500 L250,500 Z" transform="translate(-20.85,0) scale(0.0300,-0.0300)" stroke="#000" stroke-width="13.3" stroke-linejoin="round"/><text x="-4.17" y="0" font-family="Liberation Sans" font-size="30">.0</text></g>
<g transform="translate(66.5,270.90)"><path d="M250,0 L341,0 L341,690 L279,690 C263,625 217,578 85,565 L85,500 L250,500 Z" transform="translate(-16.68,0) scale(0.0300,-0.0300)" stroke="#000" stroke-width="13.3" stroke-linejoin="round"/></g>
<g transform="translate(66.5,227.15)"><text x="-16.68" y="0" font-family="Liberation Sans" font-size="30">2</text></g>
<g transform="translate(66.5,183.40)"><text x="-16.68" y="0" font-family="Liberation Sans" font-size="30">3</text></g>
<g transform="translate(66.5,139.65)"><text x="-16.68" y="0" font-family="Liberation Sans" font-size="30">4</text></g>
<g transform="translate(66.5,95.90)"><text x="-16.68" y="0" font-family="Liberation Sans" font-size="30">5</text></g>
<g transform="translate(66.5,490.40)"><path d="M250,0 L341,0 L341,690 L279,690 C263,625 217,578 85,565 L85,500 L250,500 Z" transform="translate(-16.68,0) scale(0.0300,-0.0300)" stroke="#000" stroke-width="13.3" stroke-linejoin="round"/></g>
<g transform="translate(66.5,446.65)"><text x="-16.68" y="0" font-family="Liberation Sans" font-size="30">2</text></g>
<g transform="translate(66.5,402.90)"><text x="-16.68" y="0" font-family="Liberation Sans" font-size="30">3</text></g>
<g transform="translate(66.5,359.15)"><text x="-16.68" y="0" font-family="Liberation Sans" font-size="30">4</text></g>
<g transform="translate(66.5,315.40)"><text x="-16.68" y="0" font-family="Liberation Sans" font-size="30">5</text></g>
<g transform="translate(66.5,709.70)"><path d="M250,0 L341,0 L341,690 L279,690 C263,625 217,578 85,565 L85,500 L250,500 Z" transform="translate(-16.68,0) scale(0.0300,-0.0300)" stroke="#000" stroke-width="13.3" stroke-linejoin="round"/></g>
<g transform="translate(66.5,665.95)"><text x="-16.68" y="0" font-family="Liberation Sans" font-size="30">2</text></g>
<g transform="translate(66.5,622.20)"><text x="-16.68" y="0" font-family="Liberation Sans" font-size="30">3</text></g>
<g transform="translate(66.5,578.45)"><text x="-16.68" y="0" font-family="Liberation Sans" font-size="30">4</text></g>
<g transform="translate(66.5,534.70)"><text x="-16.68" y="0" font-family="Liberation Sans" font-size="30">5</text></g>
<text x="295.50" y="30.30" font-family="Liberation Sans" font-size="30" text-anchor="middle" >2.0</text>
<text x="730.60" y="30.30" font-family="Liberation Sans" font-size="30" text-anchor="middle" >3.0</text>
<g transform="translate(496.40,721.00) scale(1.0)" fill="none" stroke="#000" stroke-linecap="round"><path d="M0,20.2 C3,18 8,13 11,7 C13,3 12.5,0 11,0 C9,0 7,2.5 5.5,6.5 C4,10.5 3,14.5 3,18 C3,21.5 4.5,23.4 6.5,23.4 C8.5,23.4 10.5,21.5 11.7,20.2" stroke-width="1.50"/><path d="M10.5,0.2 C8.8,0.4 7,2.5 5.5,6.5 C4,10.5 3,14.5 3,18 C3,20.5 3.8,22.5 5.5,23.2" stroke-width="2.70"/></g>
<path d="M509.4,743.6 L517.2,722.0" stroke="#000" stroke-width="2.6"/>
<text x="517.40" y="743.40" font-family="Liberation Sans" font-size="30" text-anchor="start" >L</text>
<g transform="translate(930.60,721.00) scale(1.0)" fill="none" stroke="#000" stroke-linecap="round"><path d="M0,20.2 C3,18 8,13 11,7 C13,3 12.5,0 11,0 C9,0 7,2.5 5.5,6.5 C4,10.5 3,14.5 3,18 C3,21.5 4.5,23.4 6.5,23.4 C8.5,23.4 10.5,21.5 11.7,20.2" stroke-width="1.50"/><path d="M10.5,0.2 C8.8,0.4 7,2.5 5.5,6.5 C4,10.5 3,14.5 3,18 C3,20.5 3.8,22.5 5.5,23.2" stroke-width="2.70"/></g>
<path d="M943.6,743.6 L951.4,722.0" stroke="#000" stroke-width="2.6"/>
<text x="951.60" y="743.40" font-family="Liberation Sans" font-size="30" text-anchor="start" >L</text>
<text x="469.5" y="21.5" font-family="Liberation Sans" font-size="29">[<tspan font-style="italic" dx="2.6">P</tspan><tspan dx="-1.3">]</tspan><tspan dx="-1.3">/[</tspan><tspan font-style="italic" dx="3.2">A</tspan><tspan font-size="21" dy="8.5" dx="-2.55">2</tspan><tspan dy="-8.5" dx="0.65">]</tspan></text>
<text transform="translate(21.9,217.0) rotate(-90)" font-family="Liberation Sans" font-size="29"><tspan font-style="italic">k</tspan><tspan font-size="20" dy="8.4">Pa</tspan><tspan dy="-8.4">/</tspan><tspan font-style="italic">k</tspan><tspan font-size="20" dy="8.4">Ap</tspan></text>
<text transform="translate(21.9,437.0) rotate(-90)" font-family="Liberation Sans" font-size="29"><tspan font-style="italic">k</tspan><tspan font-size="20" dy="8.4">Pa</tspan><tspan dy="-8.4">/</tspan><tspan font-style="italic">k</tspan><tspan font-size="20" dy="8.4">Ap</tspan></text>
<text transform="translate(21.9,656.3) rotate(-90)" font-family="Liberation Sans" font-size="29"><tspan font-style="italic">k</tspan><tspan font-size="20" dy="8.4">Pa</tspan><tspan dy="-8.4">/</tspan><tspan font-style="italic">k</tspan><tspan font-size="20" dy="8.4">Ap</tspan></text>
<g transform="translate(993.1,135.4) rotate(-90)"><path d="M250,0 L341,0 L341,690 L279,690 C263,625 217,578 85,565 L85,500 L250,500 Z" transform="translate(-20.85,0) scale(0.0300,-0.0300)" stroke="#000" stroke-width="13.3" stroke-linejoin="round"/><text x="-4.17" y="0" font-family="Liberation Sans" font-size="30">.5</text></g>
<g transform="translate(993.1,402.2) rotate(-90)"><text x="-20.85" y="0" font-family="Liberation Sans" font-size="30">4.5</text></g>
<g transform="translate(993.1,610.8) rotate(-90)"><text x="-20.85" y="0" font-family="Liberation Sans" font-size="30">6.5</text></g>
<text transform="translate(993.6,319.4) rotate(-90)" font-family="Liberation Sans" font-size="29.2">[A<tspan font-size="21" dy="8">1</tspan><tspan dy="-8">]/[A</tspan><tspan font-size="21" dy="8">2</tspan><tspan dy="-8">]</tspan></text>
<g transform="translate(131.00,127.70) scale(0.78)" fill="none" stroke="#000" stroke-linecap="round"><path d="M0,20.2 C3,18 8,13 11,7 C13,3 12.5,0 11,0 C9,0 7,2.5 5.5,6.5 C4,10.5 3,14.5 3,18 C3,21.5 4.5,23.4 6.5,23.4 C8.5,23.4 10.5,21.5 11.7,20.2" stroke-width="1.60"/><path d="M10.5,0.2 C8.8,0.4 7,2.5 5.5,6.5 C4,10.5 3,14.5 3,18 C3,20.5 3.8,22.5 5.5,23.2" stroke-width="2.69"/></g>
<polygon points="146.85,126.30 147.94,129.70 151.51,129.69 148.61,131.77 149.73,135.16 146.85,133.05 143.97,135.16 145.09,131.77 142.19,129.69 145.76,129.70" fill="#000"/>
<path d="M155.90,138.80 c1.50,-1.7 3.50,-1.5 5.60,-0.6 s4.30,1.9 6.10,-0.6" fill="none" stroke="#000" stroke-width="1.45" stroke-linecap="round"/>
<path d="M155.70,142.80 c1.50,-1.7 3.50,-1.5 5.60,-0.6 s4.30,1.9 6.10,-0.6" fill="none" stroke="#000" stroke-width="1.45" stroke-linecap="round"/>
<g transform="translate(174.40,146.80)"><text x="0.00" y="0" font-family="Liberation Sans" font-size="25">9.7</text></g>
<text x="216.10" y="146.80" font-family="Liberation Sans" font-size="23.8" text-anchor="start" >µm</text>
<g transform="translate(565.50,128.70) scale(0.78)" fill="none" stroke="#000" stroke-linecap="round"><path d="M0,20.2 C3,18 8,13 11,7 C13,3 12.5,0 11,0 C9,0 7,2.5 5.5,6.5 C4,10.5 3,14.5 3,18 C3,21.5 4.5,23.4 6.5,23.4 C8.5,23.4 10.5,21.5 11.7,20.2" stroke-width="1.60"/><path d="M10.5,0.2 C8.8,0.4 7,2.5 5.5,6.5 C4,10.5 3,14.5 3,18 C3,20.5 3.8,22.5 5.5,23.2" stroke-width="2.69"/></g>
<polygon points="581.35,127.30 582.44,130.70 586.01,130.69 583.11,132.77 584.23,136.16 581.35,134.05 578.47,136.16 579.59,132.77 576.69,130.69 580.26,130.70" fill="#000"/>
<path d="M590.40,139.80 c1.50,-1.7 3.50,-1.5 5.60,-0.6 s4.30,1.9 6.10,-0.6" fill="none" stroke="#000" stroke-width="1.45" stroke-linecap="round"/>
<path d="M590.20,143.80 c1.50,-1.7 3.50,-1.5 5.60,-0.6 s4.30,1.9 6.10,-0.6" fill="none" stroke="#000" stroke-width="1.45" stroke-linecap="round"/>
<g transform="translate(608.90,147.80)"><text x="0.00" y="0" font-family="Liberation Sans" font-size="25">9.</text><path d="M250,0 L341,0 L341,690 L279,690 C263,625 217,578 85,565 L85,500 L250,500 Z" transform="translate(20.85,0) scale(0.0250,-0.0250)" stroke="#000" stroke-width="16.0" stroke-linejoin="round"/></g>
<text x="650.60" y="147.80" font-family="Liberation Sans" font-size="23.8" text-anchor="start" >µm</text>
<g transform="translate(165.70,387.60) scale(0.78)" fill="none" stroke="#000" stroke-linecap="round"><path d="M0,20.2 C3,18 8,13 11,7 C13,3 12.5,0 11,0 C9,0 7,2.5 5.5,6.5 C4,10.5 3,14.5 3,18 C3,21.5 4.5,23.4 6.5,23.4 C8.5,23.4 10.5,21.5 11.7,20.2" stroke-width="1.60"/><path d="M10.5,0.2 C8.8,0.4 7,2.5 5.5,6.5 C4,10.5 3,14.5 3,18 C3,20.5 3.8,22.5 5.5,23.2" stroke-width="2.69"/></g>
<polygon points="181.55,386.20 182.64,389.60 186.21,389.59 183.31,391.67 184.43,395.06 181.55,392.95 178.67,395.06 179.79,391.67 176.89,389.59 180.46,389.60" fill="#000"/>
<path d="M190.60,398.70 c1.50,-1.7 3.50,-1.5 5.60,-0.6 s4.30,1.9 6.10,-0.6" fill="none" stroke="#000" stroke-width="1.45" stroke-linecap="round"/>
<path d="M190.40,402.70 c1.50,-1.7 3.50,-1.5 5.60,-0.6 s4.30,1.9 6.10,-0.6" fill="none" stroke="#000" stroke-width="1.45" stroke-linecap="round"/>
<g transform="translate(209.10,406.70)"><path d="M250,0 L341,0 L341,690 L279,690 C263,625 217,578 85,565 L85,500 L250,500 Z" transform="translate(0.00,0) scale(0.0250,-0.0250)" stroke="#000" stroke-width="16.0" stroke-linejoin="round"/><text x="13.90" y="0" font-family="Liberation Sans" font-size="25">7.3</text></g>
<text x="264.70" y="406.70" font-family="Liberation Sans" font-size="23.8" text-anchor="start" >µm</text>
<g transform="translate(626.30,342.30) scale(0.78)" fill="none" stroke="#000" stroke-linecap="round"><path d="M0,20.2 C3,18 8,13 11,7 C13,3 12.5,0 11,0 C9,0 7,2.5 5.5,6.5 C4,10.5 3,14.5 3,18 C3,21.5 4.5,23.4 6.5,23.4 C8.5,23.4 10.5,21.5 11.7,20.2" stroke-width="1.60"/><path d="M10.5,0.2 C8.8,0.4 7,2.5 5.5,6.5 C4,10.5 3,14.5 3,18 C3,20.5 3.8,22.5 5.5,23.2" stroke-width="2.69"/></g>
<polygon points="642.15,340.90 643.24,344.30 646.81,344.29 643.91,346.37 645.03,349.76 642.15,347.65 639.27,349.76 640.39,346.37 637.49,344.29 641.06,344.30" fill="#000"/>
<path d="M651.20,353.40 c1.50,-1.7 3.50,-1.5 5.60,-0.6 s4.30,1.9 6.10,-0.6" fill="none" stroke="#000" stroke-width="1.45" stroke-linecap="round"/>
<path d="M651.00,357.40 c1.50,-1.7 3.50,-1.5 5.60,-0.6 s4.30,1.9 6.10,-0.6" fill="none" stroke="#000" stroke-width="1.45" stroke-linecap="round"/>
<g transform="translate(669.70,361.40)"><path d="M250,0 L341,0 L341,690 L279,690 C263,625 217,578 85,565 L85,500 L250,500 Z" transform="translate(0.00,0) scale(0.0250,-0.0250)" stroke="#000" stroke-width="16.0" stroke-linejoin="round"/><text x="13.90" y="0" font-family="Liberation Sans" font-size="25">7.7</text></g>
<text x="725.30" y="361.40" font-family="Liberation Sans" font-size="23.8" text-anchor="start" >µm</text>
<g transform="translate(278.20,614.10) scale(0.78)" fill="none" stroke="#000" stroke-linecap="round"><path d="M0,20.2 C3,18 8,13 11,7 C13,3 12.5,0 11,0 C9,0 7,2.5 5.5,6.5 C4,10.5 3,14.5 3,18 C3,21.5 4.5,23.4 6.5,23.4 C8.5,23.4 10.5,21.5 11.7,20.2" stroke-width="1.60"/><path d="M10.5,0.2 C8.8,0.4 7,2.5 5.5,6.5 C4,10.5 3,14.5 3,18 C3,20.5 3.8,22.5 5.5,23.2" stroke-width="2.69"/></g>
<polygon points="294.05,612.70 295.14,616.10 298.71,616.09 295.81,618.17 296.93,621.56 294.05,619.45 291.17,621.56 292.29,618.17 289.39,616.09 292.96,616.10" fill="#000"/>
<path d="M303.10,625.20 c1.50,-1.7 3.50,-1.5 5.60,-0.6 s4.30,1.9 6.10,-0.6" fill="none" stroke="#000" stroke-width="1.45" stroke-linecap="round"/>
<path d="M302.90,629.20 c1.50,-1.7 3.50,-1.5 5.60,-0.6 s4.30,1.9 6.10,-0.6" fill="none" stroke="#000" stroke-width="1.45" stroke-linecap="round"/>
<g transform="translate(321.60,633.20)"><text x="0.00" y="0" font-family="Liberation Sans" font-size="25">3</text><path d="M250,0 L341,0 L341,690 L279,690 C263,625 217,578 85,565 L85,500 L250,500 Z" transform="translate(13.90,0) scale(0.0250,-0.0250)" stroke="#000" stroke-width="16.0" stroke-linejoin="round"/><text x="27.80" y="0" font-family="Liberation Sans" font-size="25">.3</text></g>
<text x="377.20" y="633.20" font-family="Liberation Sans" font-size="23.8" text-anchor="start" >µm</text>
<g transform="translate(726.70,575.60) scale(0.78)" fill="none" stroke="#000" stroke-linecap="round"><path d="M0,20.2 C3,18 8,13 11,7 C13,3 12.5,0 11,0 C9,0 7,2.5 5.5,6.5 C4,10.5 3,14.5 3,18 C3,21.5 4.5,23.4 6.5,23.4 C8.5,23.4 10.5,21.5 11.7,20.2" stroke-width="1.60"/><path d="M10.5,0.2 C8.8,0.4 7,2.5 5.5,6.5 C4,10.5 3,14.5 3,18 C3,20.5 3.8,22.5 5.5,23.2" stroke-width="2.69"/></g>
<polygon points="742.55,574.20 743.64,577.60 747.21,577.59 744.31,579.67 745.43,583.06 742.55,580.95 739.67,583.06 740.79,579.67 737.89,577.59 741.46,577.60" fill="#000"/>
<path d="M751.60,586.70 c1.50,-1.7 3.50,-1.5 5.60,-0.6 s4.30,1.9 6.10,-0.6" fill="none" stroke="#000" stroke-width="1.45" stroke-linecap="round"/>
<path d="M751.40,590.70 c1.50,-1.7 3.50,-1.5 5.60,-0.6 s4.30,1.9 6.10,-0.6" fill="none" stroke="#000" stroke-width="1.45" stroke-linecap="round"/>
<g transform="translate(770.10,594.70)"><text x="0.00" y="0" font-family="Liberation Sans" font-size="25">3</text><path d="M250,0 L341,0 L341,690 L279,690 C263,625 217,578 85,565 L85,500 L250,500 Z" transform="translate(13.90,0) scale(0.0250,-0.0250)" stroke="#000" stroke-width="16.0" stroke-linejoin="round"/><text x="27.80" y="0" font-family="Liberation Sans" font-size="25">.9</text></g>
<text x="825.70" y="594.70" font-family="Liberation Sans" font-size="23.8" text-anchor="start" >µm</text>
<line x1="142" y1="158.3" x2="141.1" y2="175.7" stroke="#000" stroke-width="2.4"/>
<line x1="575.7" y1="81.8" x2="571.7" y2="110" stroke="#000" stroke-width="2.4"/>
<line x1="201.7" y1="434.2" x2="183.1" y2="474.4" stroke="#000" stroke-width="2.4"/>
<line x1="649.6" y1="391" x2="619.4" y2="448.3" stroke="#000" stroke-width="2.4"/>
<line x1="304.2" y1="660.9" x2="265.3" y2="706.6" stroke="#000" stroke-width="2.4"/>
<line x1="758.9" y1="625.9" x2="683.5" y2="690" stroke="#000" stroke-width="2.4"/>
<path d="M144.9,164.7 Q155.6,163.4 161.9,147" fill="none" stroke="#7f7f7f" stroke-width="2.2"/>
<path d="M577.7,96.3 C588,99 596.6,107 596.6,129.7" fill="none" stroke="#7f7f7f" stroke-width="2.2"/>
<path d="M189,453.8 C188,438 189.5,420 194.9,407.5" fill="none" stroke="#7f7f7f" stroke-width="2.2"/>
<path d="M633.5,415.4 C633,398 638,378 651.6,363.7" fill="none" stroke="#7f7f7f" stroke-width="2.2"/>
<path d="M286.8,676.7 C287,662 295,645 306.6,635.4" fill="none" stroke="#7f7f7f" stroke-width="2.2"/>
<path d="M723.9,651.3 C724.5,632 738,610 756.8,596.3" fill="none" stroke="#7f7f7f" stroke-width="2.2"/>
</svg>
</body></html>
